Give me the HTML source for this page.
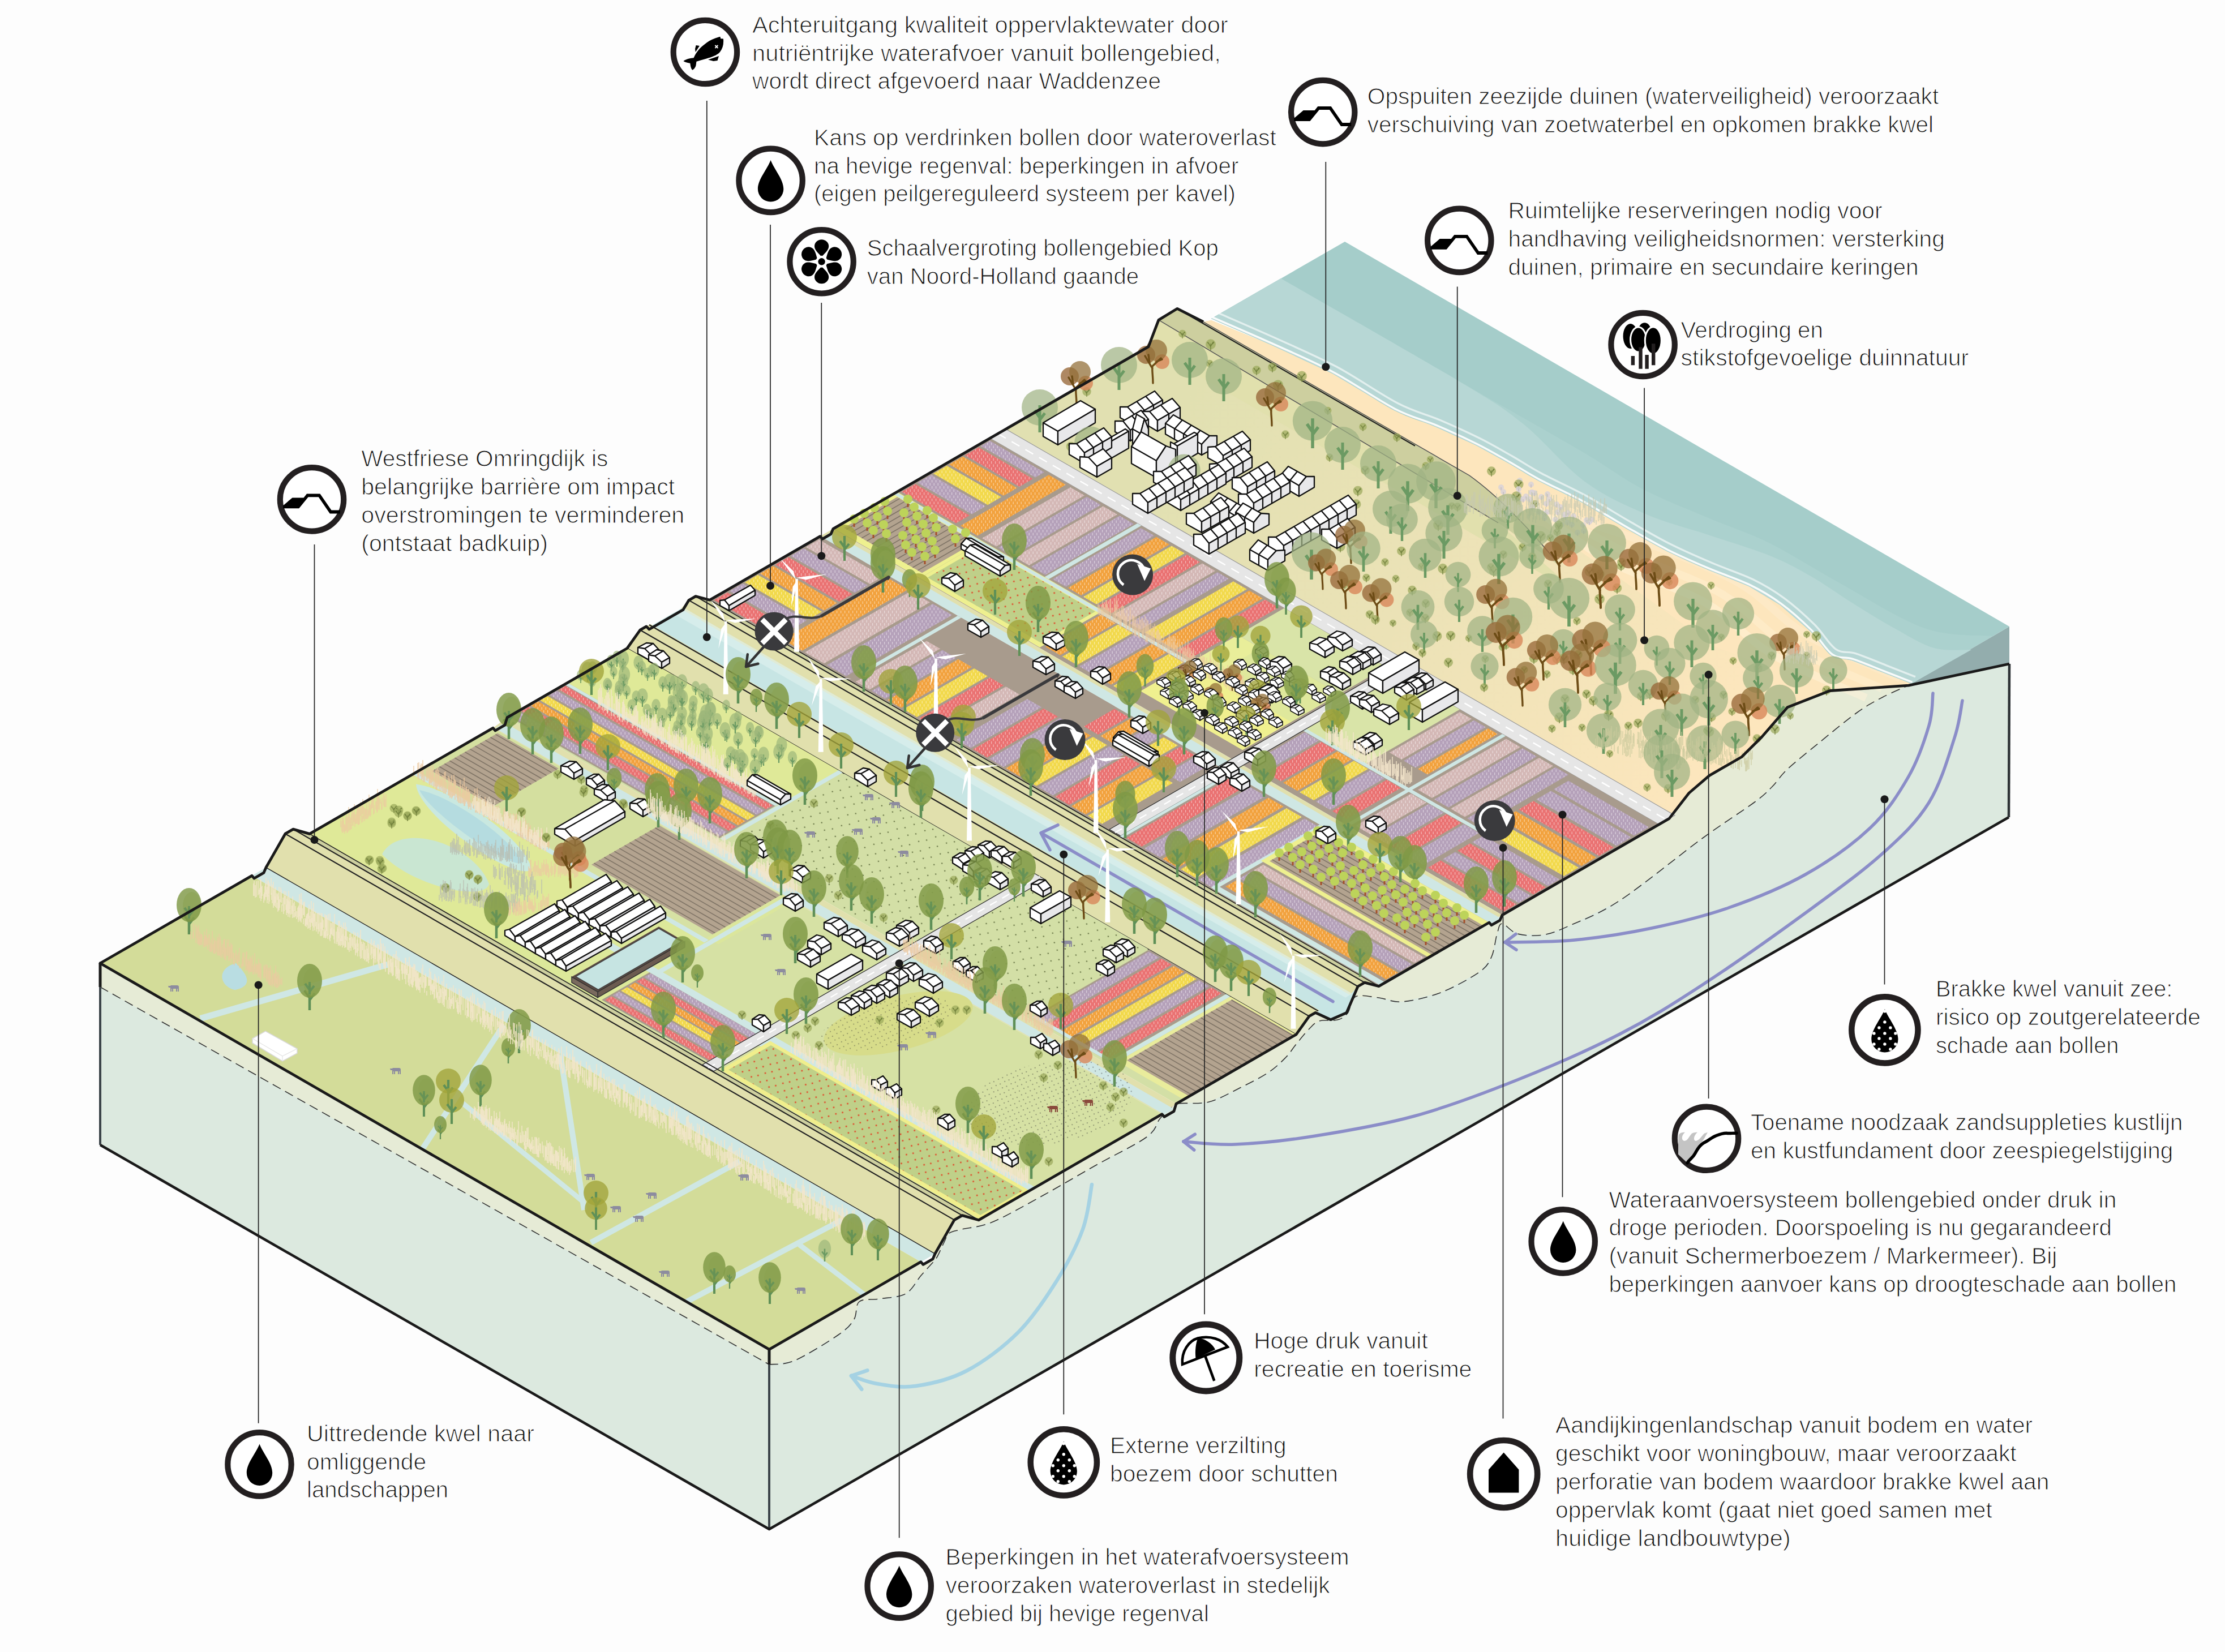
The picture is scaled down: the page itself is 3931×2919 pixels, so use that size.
<!DOCTYPE html>
<html><head><meta charset="utf-8"><title>Kop van Noord-Holland</title>
<style>html,body{margin:0;padding:0;background:#fdfdfd}svg{display:block}text{font-family:"Liberation Sans",sans-serif;fill:#141414;font-size:40px;stroke:#fdfdfd;stroke-width:1.1px}.h path{fill:#fff;stroke:#111;stroke-width:2.3;stroke-linejoin:round}.h .g{fill:#e8e8ea}.t path{stroke-width:1.6}</style>
</head><body>
<svg width="3931" height="2919" viewBox="0 0 3931 2919">
<defs>
<pattern id="bulb" width="7" height="11" patternUnits="userSpaceOnUse"><path d="M1.7 1v4.5M5.2 6.5v4.5" stroke="#fff" stroke-opacity=".62" stroke-width="1"/></pattern>
<pattern id="dots" width="22" height="22" patternUnits="userSpaceOnUse" patternTransform="rotate(30)"><circle cx="4" cy="5" r="1.3" fill="#6d7a4a"/><circle cx="15" cy="14" r="1.3" fill="#6d7a4a"/></pattern>
<pattern id="dotsd" width="12" height="12" patternUnits="userSpaceOnUse" patternTransform="rotate(30)"><circle cx="3" cy="3" r=".9" fill="#333"/><circle cx="9" cy="8" r=".9" fill="#333"/></pattern>
<pattern id="reddots" width="18" height="18" patternUnits="userSpaceOnUse" patternTransform="rotate(30)"><circle cx="4" cy="4" r="1.5" fill="#e04a2a"/><circle cx="13" cy="12" r="1.5" fill="#e04a2a"/></pattern>
<linearGradient id="duneg" gradientUnits="userSpaceOnUse" x1="2100" y1="700" x2="3100" y2="1250"><stop offset="0" stop-color="#e1e0b1"/><stop offset=".45" stop-color="#ebe2b6"/><stop offset="1" stop-color="#fde6bd"/></linearGradient>
</defs>
<polygon points="177.0,1702.0 1359.0,2384.4 1359.0,2702.0 177.0,2023.0" fill="#dce9df" />
<polygon points="177.0,1702.0 1359.0,2384.4 1359.0,2411.0 177.0,1744.0" fill="#e6ebd6" />
<polyline points="177.0,1744.0 1359.0,2411.0" fill="none" stroke="#333" stroke-width="1.6" stroke-dasharray="16 9"/>
<polygon points="1359.0,2384.4 1627.0,2229.7 1631.0,2234.4 1648.0,2224.6 1652.0,2215.3 1686.0,2155.6 1700.0,2147.6 1729.0,2155.8 2053.0,1968.7 2057.0,1973.4 2074.0,1963.6 2078.0,1950.3 2290.0,1827.9 2313.0,1795.6 2324.0,1789.3 2351.0,1801.7 2379.0,1789.5 2399.0,1743.0 2411.0,1736.1 2436.0,1742.6 2631.0,1630.0 2635.0,1634.7 2650.0,1626.1 2654.0,1616.8 2949.0,1446.4 2984.0,1401.2 3020.0,1370.4 3077.0,1337.5 3113.0,1301.8 3158.0,1249.8 3233.0,1220.5 3372.0,1211.2 3550.0,1172.5 3549.0,1444.0 1359.0,2702.0" fill="#dce9df" />
<polygon points="1359.0,2384.4 1627.0,2229.7 1631.0,2234.4 1648.0,2224.6 1652.0,2215.3 1686.0,2155.6 1700.0,2147.6 1729.0,2155.8 2053.0,1968.7 2057.0,1973.4 2074.0,1963.6 2078.0,1950.3 2290.0,1827.9 2313.0,1795.6 2324.0,1789.3 2351.0,1801.7 2379.0,1789.5 2399.0,1743.0 2411.0,1736.1 2436.0,1742.6 2631.0,1630.0 2635.0,1634.7 2650.0,1626.1 2654.0,1616.8 2949.0,1446.4 2984.0,1401.2 3020.0,1370.4 3077.0,1337.5 3113.0,1301.8 3158.0,1249.8 3233.0,1220.5 3372.0,1211.2 3372.0,1211.0 3326.0,1232.0 3281.0,1259.0 3213.0,1313.0 3158.0,1359.0 3131.0,1390.0 3099.0,1418.0 3008.0,1481.0 2862.0,1591.0 2772.0,1636.0 2726.0,1652.0 2681.0,1650.0 2654.0,1632.0 2645.0,1650.0 2635.0,1691.0 2613.0,1718.0 2545.0,1754.0 2477.0,1770.0 2436.0,1763.0 2395.0,1761.0 2381.0,1790.0 2363.0,1802.0 2331.0,1804.0 2313.0,1818.0 2290.0,1845.0 2272.0,1868.0 2241.0,1895.0 2191.0,1922.0 2136.0,1947.0 2081.0,1950.0 2067.0,1959.0 2049.0,1977.0 2026.0,2009.0 1936.0,2059.0 1845.0,2111.0 1754.0,2159.0 1700.0,2172.0 1677.0,2179.0 1668.0,2195.0 1655.0,2222.0 1645.0,2234.0 1627.0,2254.0 1600.0,2286.0 1554.0,2295.0 1518.0,2300.0 1509.0,2331.0 1482.0,2358.0 1404.0,2404.0 1359.0,2411.0" fill="#e6ebd6" />
<path d="M1359.0 2411.0 C1366.5 2409.8 1383.5 2412.8 1404.0 2404.0 C1424.5 2395.2 1464.5 2370.2 1482.0 2358.0 C1499.5 2345.8 1503.0 2340.7 1509.0 2331.0 C1515.0 2321.3 1510.5 2306.0 1518.0 2300.0 C1525.5 2294.0 1540.3 2297.3 1554.0 2295.0 C1567.7 2292.7 1587.8 2292.8 1600.0 2286.0 C1612.2 2279.2 1619.5 2262.7 1627.0 2254.0 C1634.5 2245.3 1640.3 2239.3 1645.0 2234.0 C1649.7 2228.7 1651.2 2228.5 1655.0 2222.0 C1658.8 2215.5 1664.3 2202.2 1668.0 2195.0 C1671.7 2187.8 1671.7 2182.8 1677.0 2179.0 C1682.3 2175.2 1687.2 2175.3 1700.0 2172.0 C1712.8 2168.7 1729.8 2169.2 1754.0 2159.0 C1778.2 2148.8 1814.7 2127.7 1845.0 2111.0 C1875.3 2094.3 1905.8 2076.0 1936.0 2059.0 C1966.2 2042.0 2007.2 2022.7 2026.0 2009.0 C2044.8 1995.3 2042.2 1985.3 2049.0 1977.0 C2055.8 1968.7 2061.7 1963.5 2067.0 1959.0 C2072.3 1954.5 2069.5 1952.0 2081.0 1950.0 C2092.5 1948.0 2117.7 1951.7 2136.0 1947.0 C2154.3 1942.3 2173.5 1930.7 2191.0 1922.0 C2208.5 1913.3 2227.5 1904.0 2241.0 1895.0 C2254.5 1886.0 2263.8 1876.3 2272.0 1868.0 C2280.2 1859.7 2283.2 1853.3 2290.0 1845.0 C2296.8 1836.7 2306.2 1824.8 2313.0 1818.0 C2319.8 1811.2 2322.7 1806.7 2331.0 1804.0 C2339.3 1801.3 2354.7 1804.3 2363.0 1802.0 C2371.3 1799.7 2375.7 1796.8 2381.0 1790.0 C2386.3 1783.2 2385.8 1765.5 2395.0 1761.0 C2404.2 1756.5 2422.3 1761.5 2436.0 1763.0 C2449.7 1764.5 2458.8 1771.5 2477.0 1770.0 C2495.2 1768.5 2522.3 1762.7 2545.0 1754.0 C2567.7 1745.3 2598.0 1728.5 2613.0 1718.0 C2628.0 1707.5 2629.7 1702.3 2635.0 1691.0 C2640.3 1679.7 2641.8 1659.8 2645.0 1650.0 C2648.2 1640.2 2648.0 1632.0 2654.0 1632.0 C2660.0 1632.0 2669.0 1646.7 2681.0 1650.0 C2693.0 1653.3 2710.8 1654.3 2726.0 1652.0 C2741.2 1649.7 2749.3 1646.2 2772.0 1636.0 C2794.7 1625.8 2822.7 1616.8 2862.0 1591.0 C2901.3 1565.2 2968.5 1509.8 3008.0 1481.0 C3047.5 1452.2 3078.5 1433.2 3099.0 1418.0 C3119.5 1402.8 3121.2 1399.8 3131.0 1390.0 C3140.8 1380.2 3144.3 1371.8 3158.0 1359.0 C3171.7 1346.2 3192.5 1329.7 3213.0 1313.0 C3233.5 1296.3 3262.2 1272.5 3281.0 1259.0 C3299.8 1245.5 3310.8 1240.0 3326.0 1232.0 C3341.2 1224.0 3364.3 1214.5 3372.0 1211.0" fill="none" stroke="#333" stroke-width="1.6" stroke-dasharray="16 9"/>
<polygon points="2324.0,1789.3 2351.0,1801.7 2379.0,1789.5 2393.0,1751.4 2327.0,1789.6" fill="#c7e5e4" />
<path d="M3415.0 1225.0 C3413.8 1234.5 3415.2 1257.5 3408.0 1282.0 C3400.8 1306.5 3389.3 1341.8 3372.0 1372.0 C3354.7 1402.2 3334.3 1434.2 3304.0 1463.0 C3273.7 1491.8 3231.7 1521.5 3190.0 1545.0 C3148.3 1568.5 3099.3 1588.2 3054.0 1604.0 C3008.7 1619.8 2963.3 1630.5 2918.0 1640.0 C2872.7 1649.5 2825.2 1656.8 2782.0 1661.0 C2738.8 1665.2 2679.5 1664.3 2659.0 1665.0" fill="none" stroke="#8b8dc8" stroke-width="5.5" stroke-linecap="round"/>
<line x1="2659.0" y1="1665.0" x2="2679.0" y2="1678.3" stroke="#8b8dc8" stroke-width="5.5" stroke-linecap="round"/>
<line x1="2659.0" y1="1665.0" x2="2678.1" y2="1650.4" stroke="#8b8dc8" stroke-width="5.5" stroke-linecap="round"/>
<path d="M3467.0 1238.0 C3464.7 1249.0 3462.8 1274.0 3453.0 1304.0 C3443.2 1334.0 3429.2 1384.0 3408.0 1418.0 C3386.8 1452.0 3362.3 1475.5 3326.0 1508.0 C3289.7 1540.5 3243.0 1574.3 3190.0 1613.0 C3137.0 1651.7 3062.7 1704.3 3008.0 1740.0 C2953.3 1775.7 2916.5 1799.0 2862.0 1827.0 C2807.5 1855.0 2741.5 1883.8 2681.0 1908.0 C2620.5 1932.2 2559.5 1955.3 2499.0 1972.0 C2438.5 1988.7 2370.8 1999.7 2318.0 2008.0 C2265.2 2016.3 2219.8 2020.5 2182.0 2022.0 C2144.2 2023.5 2106.2 2017.8 2091.0 2017.0" fill="none" stroke="#8b8dc8" stroke-width="5.5" stroke-linecap="round"/>
<line x1="2091.0" y1="2017.0" x2="2109.7" y2="2032.0" stroke="#8b8dc8" stroke-width="5.5" stroke-linecap="round"/>
<line x1="2091.0" y1="2017.0" x2="2111.3" y2="2004.1" stroke="#8b8dc8" stroke-width="5.5" stroke-linecap="round"/>
<path d="M1929.0 2093.0 C1926.3 2106.2 1923.3 2143.7 1913.0 2172.0 C1902.7 2200.3 1886.0 2232.7 1867.0 2263.0 C1848.0 2293.3 1825.5 2327.5 1799.0 2354.0 C1772.5 2380.5 1738.2 2406.2 1708.0 2422.0 C1677.8 2437.8 1644.3 2445.2 1618.0 2449.0 C1591.7 2452.8 1569.0 2448.0 1550.0 2445.0 C1531.0 2442.0 1511.7 2433.3 1504.0 2431.0" fill="none" stroke="#a5d2e3" stroke-width="6.5" stroke-linecap="round"/>
<line x1="1504.0" y1="2431.0" x2="1522.3" y2="2454.8" stroke="#a5d2e3" stroke-width="6.5" stroke-linecap="round"/>
<line x1="1504.0" y1="2431.0" x2="1532.4" y2="2421.4" stroke="#a5d2e3" stroke-width="6.5" stroke-linecap="round"/>
<line x1="177" y1="1744" x2="177" y2="2023" stroke="#3c4449" stroke-width="4"/>
<line x1="177" y1="1702" x2="177" y2="1744" stroke="#1a1a1a" stroke-width="5"/>
<line x1="1359" y1="2411" x2="1359" y2="2702" stroke="#3c4449" stroke-width="4"/>
<line x1="1359" y1="2384" x2="1359" y2="2411" stroke="#1a1a1a" stroke-width="5"/>
<polyline points="177.0,2023.0 1359.0,2702.0 3549.0,1444.0" fill="none" stroke="#1a1a1a" stroke-width="4.6" stroke-linejoin="round"/>
<line x1="3550" y1="1173" x2="3549" y2="1444" stroke="#2e3336" stroke-width="4.5"/>
<polygon points="1777.0,758.2 2029.0,612.7 2126.0,568.7 2140.0,566.0 2245.0,609.0 2354.0,660.0 2463.0,725.0 2536.0,754.0 2608.0,787.0 2666.0,819.0 2717.0,849.0 2795.0,888.0 2873.0,934.0 2945.0,974.0 3018.0,1007.0 3090.0,1036.0 3145.0,1069.0 3199.0,1116.0 3236.0,1159.0 3272.0,1167.0 3326.0,1188.0 3377.0,1208.0 3372.0,1211.2 3233.0,1220.5 3158.0,1249.8 3113.0,1301.8 3077.0,1337.5 3020.0,1370.4 2984.0,1401.2 2949.0,1446.4" fill="url(#duneg)" />
<polygon points="2080.0,545.3 2126.0,568.7 2140.0,566.0 2245.0,609.0 2354.0,660.0 2463.0,725.0 2536.0,754.0 2608.0,787.0 2666.0,819.0 2717.0,849.0 2795.0,888.0 2873.0,934.0 2945.0,974.0 3018.0,1007.0 3090.0,1036.0 3145.0,1069.0 3199.0,1116.0 3236.0,1159.0 3272.0,1167.0 3326.0,1188.0 3377.0,1208.0 3372.0,1211.2 3233.0,1220.5 3027.0,1141.3 2857.0,1018.5 2727.0,930.3 2623.0,912.6 2567.0,842.5 2499.0,789.5" fill="#fde6bd" />
<path d="M2707.0 894.1 C2729.5 910.3 2791.2 962.5 2842.0 990.9 C2892.8 1019.3 2963.7 1036.8 3012.0 1064.4 C3060.3 1092.1 3084.5 1128.7 3132.0 1156.8 C3179.5 1184.9 3269.5 1220.5 3297.0 1233.2" fill="none" stroke="#fff3d9" stroke-width="14" stroke-opacity="0.5"/>
<path d="M2745.4 906.6 C2766.2 918.0 2820.9 951.2 2870.0 974.8 C2919.1 998.4 2991.7 1020.6 3040.0 1048.3 C3088.3 1075.9 3112.5 1112.5 3160.0 1140.7 C3207.5 1168.8 3297.5 1204.3 3325.0 1217.0" fill="none" stroke="#fff3d9" stroke-width="14" stroke-opacity="0.35"/>
<path d="M2785.0 918.4 C2804.5 924.7 2854.2 937.7 2902.0 956.3 C2949.8 974.9 3023.7 1002.2 3072.0 1029.8 C3120.3 1057.4 3144.5 1094.0 3192.0 1122.2 C3239.5 1150.3 3329.5 1185.8 3357.0 1198.6" fill="none" stroke="#fff3d9" stroke-width="14" stroke-opacity="0.3"/>
<polygon points="3550.0,1107.0 3550.0,1173.0 3377.0,1208.0" fill="#93adad" />
<path d="M2140.0 563.0 C2157.5 570.7 2209.3 592.8 2245.0 609.0 C2280.7 625.2 2317.7 640.7 2354.0 660.0 C2390.3 679.3 2432.7 709.3 2463.0 725.0 C2493.3 740.7 2511.8 743.7 2536.0 754.0 C2560.2 764.3 2586.3 776.2 2608.0 787.0 C2629.7 797.8 2647.8 808.7 2666.0 819.0 C2684.2 829.3 2695.5 837.5 2717.0 849.0 C2738.5 860.5 2769.0 873.8 2795.0 888.0 C2821.0 902.2 2848.0 919.7 2873.0 934.0 C2898.0 948.3 2920.8 961.8 2945.0 974.0 C2969.2 986.2 2993.8 996.7 3018.0 1007.0 C3042.2 1017.3 3068.8 1025.7 3090.0 1036.0 C3111.2 1046.3 3126.8 1055.7 3145.0 1069.0 C3163.2 1082.3 3183.8 1101.0 3199.0 1116.0 C3214.2 1131.0 3223.8 1150.5 3236.0 1159.0 C3248.2 1167.5 3257.0 1162.2 3272.0 1167.0 C3287.0 1171.8 3308.5 1181.2 3326.0 1188.0 C3343.5 1194.8 3368.5 1204.7 3377.0 1208.0 L3550 1107 L2376 427 Z" fill="#a5cdca"/>
<path d="M2263.0 492.0 C2315.0 522.0 2487.2 621.5 2575.0 672.0 C2662.8 722.5 2735.8 763.2 2790.0 795.0 C2844.2 826.8 2862.0 843.0 2900.0 863.0 C2938.0 883.0 2980.2 898.8 3018.0 915.0 C3055.8 931.2 3088.3 940.8 3127.0 960.0 C3165.7 979.2 3204.5 1005.0 3250.0 1030.0 C3295.5 1055.0 3355.0 1094.3 3400.0 1110.0 C3445.0 1125.7 3500.0 1121.7 3520.0 1124.0 L3377 1208 L3377.0 1208.0 L3326.0 1188.0 L3272.0 1167.0 L3236.0 1159.0 L3199.0 1116.0 L3145.0 1069.0 L3090.0 1036.0 L3018.0 1007.0 L2945.0 974.0 L2873.0 934.0 L2795.0 888.0 L2717.0 849.0 L2666.0 819.0 L2608.0 787.0 L2536.0 754.0 L2463.0 725.0 L2354.0 660.0 L2245.0 609.0 L2140.0 563.0 Z" fill="#abd1ce"/>
<path d="M2263.0 492.0 C2315.0 522.0 2503.8 629.3 2575.0 672.0 C2646.2 714.7 2652.5 718.2 2690.0 748.0 C2727.5 777.8 2763.5 824.2 2800.0 851.0 C2836.5 877.8 2872.7 893.3 2909.0 909.0 C2945.3 924.7 2981.7 932.8 3018.0 945.0 C3054.3 957.2 3096.8 969.8 3127.0 982.0 C3157.2 994.2 3174.8 1004.2 3199.0 1018.0 C3223.2 1031.8 3247.7 1049.8 3272.0 1065.0 C3296.3 1080.2 3320.8 1095.7 3345.0 1109.0 C3369.2 1122.3 3394.0 1138.5 3417.0 1145.0 C3440.0 1151.5 3472.0 1147.5 3483.0 1148.0 L3377 1208 L3377.0 1208.0 L3326.0 1188.0 L3272.0 1167.0 L3236.0 1159.0 L3199.0 1116.0 L3145.0 1069.0 L3090.0 1036.0 L3018.0 1007.0 L2945.0 974.0 L2873.0 934.0 L2795.0 888.0 L2717.0 849.0 L2666.0 819.0 L2608.0 787.0 L2536.0 754.0 L2463.0 725.0 L2354.0 660.0 L2245.0 609.0 L2140.0 563.0 Z" fill="#b7d7d5"/>
<path d="M2141.5 560.4 C2159.0 568.1 2210.8 590.2 2246.5 606.4 C2282.2 622.6 2319.2 638.1 2355.5 657.4 C2391.8 676.7 2434.2 706.7 2464.5 722.4 C2494.8 738.1 2513.3 741.1 2537.5 751.4 C2561.7 761.7 2587.8 773.6 2609.5 784.4 C2631.2 795.2 2649.3 806.1 2667.5 816.4 C2685.7 826.7 2697.0 834.9 2718.5 846.4 C2740.0 857.9 2770.5 871.2 2796.5 885.4 C2822.5 899.6 2849.5 917.1 2874.5 931.4 C2899.5 945.7 2922.3 959.2 2946.5 971.4 C2970.7 983.6 2995.3 994.1 3019.5 1004.4 C3043.7 1014.7 3070.3 1023.1 3091.5 1033.4 C3112.7 1043.7 3128.3 1053.1 3146.5 1066.4 C3164.7 1079.7 3185.3 1098.4 3200.5 1113.4 C3215.7 1128.4 3225.3 1147.9 3237.5 1156.4 C3249.7 1164.9 3258.5 1159.6 3273.5 1164.4 C3288.5 1169.2 3310.0 1178.6 3327.5 1185.4 C3345.0 1192.2 3370.0 1202.1 3378.5 1205.4" fill="none" stroke="#fff" stroke-width="3.4" stroke-opacity="0.9"/>
<path d="M2147.0 550.8 C2164.5 558.5 2216.3 580.7 2252.0 596.8 C2287.7 613.0 2324.7 628.5 2361.0 647.8 C2397.3 667.2 2439.7 697.2 2470.0 712.8 C2500.3 728.5 2518.8 731.5 2543.0 741.8 C2567.2 752.2 2593.3 764.0 2615.0 774.8 C2636.7 785.7 2654.8 796.5 2673.0 806.8 C2691.2 817.2 2702.5 825.3 2724.0 836.8 C2745.5 848.3 2776.0 861.7 2802.0 875.8 C2828.0 890.0 2855.0 907.5 2880.0 921.8 C2905.0 936.2 2927.8 949.7 2952.0 961.8 C2976.2 974.0 3000.8 984.5 3025.0 994.8 C3049.2 1005.2 3075.8 1013.5 3097.0 1023.8 C3118.2 1034.2 3133.8 1043.5 3152.0 1056.8 C3170.2 1070.2 3190.8 1088.8 3206.0 1103.8 C3221.2 1118.8 3230.8 1138.3 3243.0 1146.8 C3255.2 1155.3 3264.0 1150.0 3279.0 1154.8 C3294.0 1159.7 3315.5 1169.0 3333.0 1175.8 C3350.5 1182.7 3375.5 1192.5 3384.0 1195.8" fill="none" stroke="#fff" stroke-width="3.4" stroke-opacity="0.6"/>
<path d="M2047.0,565.4 L2080.0,545.3 L2126.0,568.7 L2596.0,840.1 Q2667.0,891.0 2757.0,1000.7 L2647.0,923.8 Z" fill="#cdcf9f"/>
<path d="M2029.0,612.7 L2047.0,565.4 L2647.0,923.8 Q2705.0,976.6 2759.0,1022.7 L2749.0,1028.4 Z" fill="#e1e0ad"/>
<polyline points="2047.0,565.4 2647.0,923.8" fill="none" stroke="#555" stroke-width="1.5" />
<path d="M2126.0,568.7 L2596.0,840.1 Q2667.0,891.0 2757.0,1000.7" fill="none" stroke="#555" stroke-width="1.5"/>
<polyline points="2080.0,545.3 2500.0,787.8" fill="none" stroke="#222" stroke-width="2.2" />
<polygon points="1749.0,774.4 1777.0,758.2 2959.0,1440.7 2931.0,1456.8" fill="#e6e6e6" stroke="#999" stroke-width="1.2" />
<polyline points="1763.0,766.3 2945.0,1448.8" fill="none" stroke="#fff" stroke-width="2.4" stroke-dasharray="16 12"/>
<polygon points="1472.0,934.3 1749.0,774.4 2931.0,1456.8 2654.0,1616.8" fill="#a89b8d" />
<polygon points="1449.0,947.6 1472.0,934.3 2654.0,1616.8 2631.0,1630.0" fill="#e1e0ad" />
<polygon points="1452.0,949.9 1469.0,940.1 2651.0,1622.5 2634.0,1632.3" fill="#cfe7e4" />
<polygon points="1254.0,1060.2 1449.0,947.6 2631.0,1630.0 2436.0,1742.6" fill="#a89b8d" />
<polygon points="1229.0,1053.6 1254.0,1060.2 2436.0,1742.6 2411.0,1736.1" fill="#cdcf9f" />
<polygon points="1217.0,1060.6 1229.0,1053.6 2411.0,1736.1 2399.0,1743.0" fill="#e1e0ad" />
<polygon points="1149.0,1106.8 1217.0,1067.6 2399.0,1750.0 2331.0,1789.2" fill="#c7e5e4" />
<polygon points="1203.0,1075.6 1217.0,1060.6 2399.0,1743.0 2385.0,1758.1" fill="#e1e0ad" />
<polygon points="1131.0,1113.2 1149.0,1102.8 2331.0,1785.2 2313.0,1795.6" fill="#e1e0ad" />
<polygon points="1108.0,1145.5 1131.0,1113.2 2313.0,1795.6 2290.0,1827.9" fill="#e1e0ad" />
<polygon points="896.0,1267.9 1108.0,1145.5 2290.0,1827.9 2078.0,1950.3" fill="#d3dfa6" />
<polygon points="871.0,1286.3 896.0,1267.9 2078.0,1950.3 2053.0,1968.7" fill="#e1e0ad" />
<polygon points="875.0,1287.0 892.0,1277.2 2074.0,1959.6 2057.0,1969.4" fill="#cfe7e4" />
<polygon points="547.0,1473.4 871.0,1286.3 2053.0,1968.7 1729.0,2155.8" fill="#d6e1a4" />
<polygon points="622.0,1432.1 647.0,1417.6 1829.0,2100.1 1804.0,2114.5" fill="#cfe7e4" />
<polygon points="518.0,1465.1 547.0,1473.4 1729.0,2155.8 1700.0,2147.6" fill="#cdcf9f" />
<polygon points="504.0,1473.2 518.0,1465.1 1700.0,2147.6 1686.0,2155.6" fill="#e1e0ad" />
<polygon points="470.0,1532.8 504.0,1473.2 1686.0,2155.6 1652.0,2215.3" fill="#e1e0ad" />
<polygon points="445.0,1547.3 470.0,1532.8 1652.0,2215.3 1627.0,2229.7" fill="#cfe7e4" />
<polygon points="177.0,1702.0 445.0,1547.3 1627.0,2229.7 1359.0,2384.4" fill="#d3dc99" />
<polygon points="1593.0,869.1 1617.0,855.2 1713.0,910.7 1689.0,924.5" fill="#ea7272" />
<polygon points="1593.0,869.1 1617.0,855.2 1713.0,910.7 1689.0,924.5" fill="url(#bulb)" />
<polygon points="1621.0,852.9 1645.0,839.1 1741.0,894.5 1717.0,908.4" fill="#b5a1ba" />
<polygon points="1621.0,852.9 1645.0,839.1 1741.0,894.5 1717.0,908.4" fill="url(#bulb)" />
<polygon points="1649.0,836.8 1673.0,822.9 1769.0,878.3 1745.0,892.2" fill="#f2d94c" />
<polygon points="1649.0,836.8 1673.0,822.9 1769.0,878.3 1745.0,892.2" fill="url(#bulb)" />
<polygon points="1677.0,820.6 1701.0,806.7 1797.0,862.2 1773.0,876.0" fill="#f2a23e" />
<polygon points="1677.0,820.6 1701.0,806.7 1797.0,862.2 1773.0,876.0" fill="url(#bulb)" />
<polygon points="1705.0,804.4 1729.0,790.6 1825.0,846.0 1801.0,859.9" fill="#ea7272" />
<polygon points="1705.0,804.4 1729.0,790.6 1825.0,846.0 1801.0,859.9" fill="url(#bulb)" />
<polygon points="1733.0,788.3 1749.0,779.0 1845.0,834.5 1829.0,843.7" fill="#b5a1ba" />
<polygon points="1733.0,788.3 1749.0,779.0 1845.0,834.5 1829.0,843.7" fill="url(#bulb)" />
<polygon points="1697.0,929.1 1853.0,839.1 1883.0,856.4 1727.0,946.5" fill="#f2a23e" />
<polygon points="1697.0,929.1 1853.0,839.1 1883.0,856.4 1727.0,946.5" fill="url(#bulb)" />
<polygon points="1735.0,951.1 1891.0,861.0 1916.0,875.4 1760.0,965.5" fill="#d4b8b6" />
<polygon points="1735.0,951.1 1891.0,861.0 1916.0,875.4 1760.0,965.5" fill="url(#bulb)" />
<polygon points="1764.0,967.8 1920.0,877.8 1945.0,892.2 1789.0,982.3" fill="#b5a1ba" />
<polygon points="1764.0,967.8 1920.0,877.8 1945.0,892.2 1789.0,982.3" fill="url(#bulb)" />
<polygon points="1793.0,984.6 1949.0,894.5 1974.0,908.9 1818.0,999.0" fill="#d4b8b6" />
<polygon points="1793.0,984.6 1949.0,894.5 1974.0,908.9 1818.0,999.0" fill="url(#bulb)" />
<polygon points="1822.0,1001.3 1978.0,911.2 2003.0,925.7 1847.0,1015.7" fill="#b5a1ba" />
<polygon points="1822.0,1001.3 1978.0,911.2 2003.0,925.7 1847.0,1015.7" fill="url(#bulb)" />
<polygon points="1845.5,1019.5 2009.5,924.8 2016.5,928.8 1852.5,1023.5" fill="#cfe7e4" />
<polygon points="1860.0,1023.2 2016.0,933.2 2039.0,946.5 1883.0,1036.5" fill="#b5a1ba" />
<polygon points="1860.0,1023.2 2016.0,933.2 2039.0,946.5 1883.0,1036.5" fill="url(#bulb)" />
<polygon points="1887.0,1038.8 2043.0,948.8 2066.0,962.0 1910.0,1052.1" fill="#f2a23e" />
<polygon points="1887.0,1038.8 2043.0,948.8 2066.0,962.0 1910.0,1052.1" fill="url(#bulb)" />
<polygon points="1914.0,1054.4 2070.0,964.4 2093.0,977.6 1937.0,1067.7" fill="#f2d94c" />
<polygon points="1914.0,1054.4 2070.0,964.4 2093.0,977.6 1937.0,1067.7" fill="url(#bulb)" />
<polygon points="1941.0,1070.0 2097.0,979.9 2120.0,993.2 1964.0,1083.3" fill="#ea7272" />
<polygon points="1941.0,1070.0 2097.0,979.9 2120.0,993.2 1964.0,1083.3" fill="url(#bulb)" />
<polygon points="1968.0,1085.6 2124.0,995.5 2147.0,1008.8 1991.0,1098.9" fill="#d4b8b6" />
<polygon points="1968.0,1085.6 2124.0,995.5 2147.0,1008.8 1991.0,1098.9" fill="url(#bulb)" />
<polygon points="1995.0,1101.2 2151.0,1011.1 2171.0,1022.7 2015.0,1112.7" fill="#b5a1ba" />
<polygon points="1995.0,1101.2 2151.0,1011.1 2171.0,1022.7 2015.0,1112.7" fill="url(#bulb)" />
<polygon points="2023.0,1117.4 2179.0,1027.3 2203.0,1041.1 2047.0,1131.2" fill="#f2d94c" />
<polygon points="2023.0,1117.4 2179.0,1027.3 2203.0,1041.1 2047.0,1131.2" fill="url(#bulb)" />
<polygon points="2051.0,1133.5 2207.0,1043.5 2231.0,1057.3 2075.0,1147.4" fill="#f2a23e" />
<polygon points="2051.0,1133.5 2207.0,1043.5 2231.0,1057.3 2075.0,1147.4" fill="url(#bulb)" />
<polygon points="2079.0,1149.7 2235.0,1059.6 2259.0,1073.5 2103.0,1163.5" fill="#ea7272" />
<polygon points="2079.0,1149.7 2235.0,1059.6 2259.0,1073.5 2103.0,1163.5" fill="url(#bulb)" />
<polygon points="1473.0,933.8 1585.0,869.1 1737.0,956.8 1625.0,1021.5" fill="#eef08f" />
<polygon points="1491.0,932.6 1585.0,878.3 1723.0,958.0 1629.0,1012.3" fill="#b3a38f" />
<polyline points="1495.5,935.2 1589.5,880.9" fill="none" stroke="#7f7466" stroke-width="1.6" />
<polyline points="1504.5,940.4 1598.5,886.1" fill="none" stroke="#7f7466" stroke-width="1.6" />
<polyline points="1513.5,945.6 1607.5,891.3" fill="none" stroke="#7f7466" stroke-width="1.6" />
<polyline points="1522.5,950.8 1616.5,896.5" fill="none" stroke="#7f7466" stroke-width="1.6" />
<polyline points="1531.5,956.0 1625.5,901.7" fill="none" stroke="#7f7466" stroke-width="1.6" />
<polyline points="1540.5,961.2 1634.5,906.9" fill="none" stroke="#7f7466" stroke-width="1.6" />
<polyline points="1549.5,966.4 1643.5,912.1" fill="none" stroke="#7f7466" stroke-width="1.6" />
<polyline points="1558.5,971.6 1652.5,917.3" fill="none" stroke="#7f7466" stroke-width="1.6" />
<polyline points="1567.5,976.8 1661.5,922.5" fill="none" stroke="#7f7466" stroke-width="1.6" />
<polyline points="1576.5,982.0 1670.5,927.7" fill="none" stroke="#7f7466" stroke-width="1.6" />
<polyline points="1585.5,987.2 1679.5,932.9" fill="none" stroke="#7f7466" stroke-width="1.6" />
<polyline points="1594.5,992.4 1688.5,938.1" fill="none" stroke="#7f7466" stroke-width="1.6" />
<polyline points="1603.5,997.6 1697.5,943.3" fill="none" stroke="#7f7466" stroke-width="1.6" />
<polyline points="1612.5,1002.7 1706.5,948.5" fill="none" stroke="#7f7466" stroke-width="1.6" />
<polyline points="1621.5,1007.9 1715.5,953.7" fill="none" stroke="#7f7466" stroke-width="1.6" />
<polygon points="1625.0,1021.5 1737.0,956.8 1949.0,1079.2 1837.0,1143.9" fill="#eef08f" />
<polygon points="1639.0,1020.4 1735.0,964.9 1935.0,1080.4 1839.0,1135.8" fill="#bfd089" />
<polygon points="1639.0,1020.4 1735.0,964.9 1935.0,1080.4 1839.0,1135.8" fill="url(#reddots)" />
<polygon points="1578.0,873.1 1584.0,869.7 2184.0,1216.1 2178.0,1219.5" fill="#cfe7e4" />
<polygon points="1847.0,1142.8 1945.0,1086.2 1971.0,1101.2 1873.0,1157.8" fill="#f2a23e" />
<polygon points="1847.0,1142.8 1945.0,1086.2 1971.0,1101.2 1873.0,1157.8" fill="url(#bulb)" />
<polygon points="1877.0,1160.1 1975.0,1103.5 2001.0,1118.5 1903.0,1175.1" fill="#f2d94c" />
<polygon points="1877.0,1160.1 1975.0,1103.5 2001.0,1118.5 1903.0,1175.1" fill="url(#bulb)" />
<polygon points="1907.0,1177.4 2005.0,1120.8 2031.0,1135.8 1933.0,1192.4" fill="#b5a1ba" />
<polygon points="1907.0,1177.4 2005.0,1120.8 2031.0,1135.8 1933.0,1192.4" fill="url(#bulb)" />
<polygon points="1937.0,1194.7 2035.0,1138.1 2061.0,1153.1 1963.0,1209.7" fill="#f2a23e" />
<polygon points="1937.0,1194.7 2035.0,1138.1 2061.0,1153.1 1963.0,1209.7" fill="url(#bulb)" />
<polygon points="1967.0,1212.0 2065.0,1155.5 2091.0,1170.5 1993.0,1227.0" fill="#f2d94c" />
<polygon points="1967.0,1212.0 2065.0,1155.5 2091.0,1170.5 1993.0,1227.0" fill="url(#bulb)" />
<polygon points="2015.0,1221.3 2187.0,1122.0 2367.0,1225.9 2195.0,1325.2" fill="#e9ee9a" />
<polygon points="2015.0,1221.3 2101.0,1171.6 2281.0,1275.5 2195.0,1325.2" fill="#f0f08f" />
<polygon points="2141.0,1194.7 2227.0,1145.1 2367.0,1225.9 2281.0,1275.5" fill="#dfe89c" />
<polygon points="1997.0,1231.7 2015.0,1221.3 2195.0,1325.2 2177.0,1335.6" fill="#a89b8d" />
<polygon points="2187.0,1122.0 2269.0,1074.6 2449.0,1178.6 2367.0,1225.9" fill="#d9e4a8" />
<polygon points="2305.0,1289.4 2473.0,1192.4 2579.0,1253.6 2411.0,1350.6" fill="#d9e4a8" />
<polygon points="2209.0,1349.4 2305.0,1294.0 2330.0,1308.5 2234.0,1363.9" fill="#b5a1ba" />
<polygon points="2209.0,1349.4 2305.0,1294.0 2330.0,1308.5 2234.0,1363.9" fill="url(#bulb)" />
<polygon points="2238.0,1366.2 2334.0,1310.8 2359.0,1325.2 2263.0,1380.6" fill="#ea7272" />
<polygon points="2238.0,1366.2 2334.0,1310.8 2359.0,1325.2 2263.0,1380.6" fill="url(#bulb)" />
<polygon points="2267.0,1382.9 2363.0,1327.5 2388.0,1341.9 2292.0,1397.4" fill="#f2a23e" />
<polygon points="2267.0,1382.9 2363.0,1327.5 2388.0,1341.9 2292.0,1397.4" fill="url(#bulb)" />
<polygon points="2296.0,1399.7 2392.0,1344.3 2417.0,1358.7 2321.0,1414.1" fill="#f2d94c" />
<polygon points="2296.0,1399.7 2392.0,1344.3 2417.0,1358.7 2321.0,1414.1" fill="url(#bulb)" />
<polygon points="2325.0,1416.4 2421.0,1361.0 2446.0,1375.4 2350.0,1430.9" fill="#b5a1ba" />
<polygon points="2325.0,1416.4 2421.0,1361.0 2446.0,1375.4 2350.0,1430.9" fill="url(#bulb)" />
<polygon points="2354.0,1433.2 2450.0,1377.7 2475.0,1392.2 2379.0,1447.6" fill="#ea7272" />
<polygon points="2354.0,1433.2 2450.0,1377.7 2475.0,1392.2 2379.0,1447.6" fill="url(#bulb)" />
<polygon points="2455.0,1329.8 2579.0,1258.2 2600.0,1270.3 2476.0,1341.9" fill="#d4b8b6" />
<polygon points="2455.0,1329.8 2579.0,1258.2 2600.0,1270.3 2476.0,1341.9" fill="url(#bulb)" />
<polygon points="2480.0,1344.3 2604.0,1272.7 2625.0,1284.8 2501.0,1356.4" fill="#b5a1ba" />
<polygon points="2480.0,1344.3 2604.0,1272.7 2625.0,1284.8 2501.0,1356.4" fill="url(#bulb)" />
<polygon points="2505.0,1358.7 2629.0,1287.1 2646.0,1296.9 2522.0,1368.5" fill="#f2a23e" />
<polygon points="2505.0,1358.7 2629.0,1287.1 2646.0,1296.9 2522.0,1368.5" fill="url(#bulb)" />
<polygon points="2382.0,1453.9 2654.0,1296.9 2660.0,1300.4 2388.0,1457.4" fill="#cfe7e4" />
<polygon points="2302.0,1291.1 2308.0,1287.7 2624.0,1470.1 2618.0,1473.6" fill="#cfe7e4" />
<polygon points="2505.0,1395.6 2661.0,1305.6 2686.0,1320.0 2530.0,1410.1" fill="#d4b8b6" />
<polygon points="2505.0,1395.6 2661.0,1305.6 2686.0,1320.0 2530.0,1410.1" fill="url(#bulb)" />
<polygon points="2534.0,1412.4 2690.0,1322.3 2715.0,1336.7 2559.0,1426.8" fill="#b5a1ba" />
<polygon points="2534.0,1412.4 2690.0,1322.3 2715.0,1336.7 2559.0,1426.8" fill="url(#bulb)" />
<polygon points="2563.0,1429.1 2719.0,1339.1 2744.0,1353.5 2588.0,1443.6" fill="#d4b8b6" />
<polygon points="2563.0,1429.1 2719.0,1339.1 2744.0,1353.5 2588.0,1443.6" fill="url(#bulb)" />
<polygon points="2592.0,1445.9 2748.0,1355.8 2771.0,1369.1 2615.0,1459.1" fill="#b5a1ba" />
<polygon points="2592.0,1445.9 2748.0,1355.8 2771.0,1369.1 2615.0,1459.1" fill="url(#bulb)" />
<polygon points="2395.0,1459.1 2493.0,1402.6 2520.0,1418.2 2422.0,1474.7" fill="#d4b8b6" />
<polygon points="2395.0,1459.1 2493.0,1402.6 2520.0,1418.2 2422.0,1474.7" fill="url(#bulb)" />
<polygon points="2426.0,1477.0 2524.0,1420.5 2551.0,1436.0 2453.0,1492.6" fill="#b5a1ba" />
<polygon points="2426.0,1477.0 2524.0,1420.5 2551.0,1436.0 2453.0,1492.6" fill="url(#bulb)" />
<polygon points="2457.0,1494.9 2555.0,1438.4 2582.0,1453.9 2484.0,1510.5" fill="#ea7272" />
<polygon points="2457.0,1494.9 2555.0,1438.4 2582.0,1453.9 2484.0,1510.5" fill="url(#bulb)" />
<polygon points="2488.0,1512.8 2586.0,1456.3 2613.0,1471.8 2515.0,1528.4" fill="#b5a1ba" />
<polygon points="2488.0,1512.8 2586.0,1456.3 2613.0,1471.8 2515.0,1528.4" fill="url(#bulb)" />
<polygon points="2621.0,1466.1 2647.0,1451.1 2789.0,1533.0 2763.0,1548.1" fill="#f2d94c" />
<polygon points="2621.0,1466.1 2647.0,1451.1 2789.0,1533.0 2763.0,1548.1" fill="url(#bulb)" />
<polygon points="2652.0,1448.2 2678.0,1433.2 2820.0,1515.1 2794.0,1530.2" fill="#f2a23e" />
<polygon points="2652.0,1448.2 2678.0,1433.2 2820.0,1515.1 2794.0,1530.2" fill="url(#bulb)" />
<polygon points="2683.0,1430.3 2709.0,1415.3 2851.0,1497.2 2825.0,1512.3" fill="#ea7272" />
<polygon points="2683.0,1430.3 2709.0,1415.3 2851.0,1497.2 2825.0,1512.3" fill="url(#bulb)" />
<polygon points="2714.0,1412.4 2740.0,1397.4 2882.0,1479.4 2856.0,1494.4" fill="#b5a1ba" />
<polygon points="2714.0,1412.4 2740.0,1397.4 2882.0,1479.4 2856.0,1494.4" fill="url(#bulb)" />
<polygon points="2745.0,1394.5 2771.0,1379.5 2913.0,1461.5 2887.0,1476.5" fill="#b5a1ba" />
<polygon points="2745.0,1394.5 2771.0,1379.5 2913.0,1461.5 2887.0,1476.5" fill="url(#bulb)" />
<polygon points="2523.0,1533.0 2545.0,1520.3 2679.0,1597.7 2657.0,1610.4" fill="#ea7272" />
<polygon points="2523.0,1533.0 2545.0,1520.3 2679.0,1597.7 2657.0,1610.4" fill="url(#bulb)" />
<polygon points="2549.0,1518.0 2571.0,1505.3 2705.0,1582.7 2683.0,1595.4" fill="#b5a1ba" />
<polygon points="2549.0,1518.0 2571.0,1505.3 2705.0,1582.7 2683.0,1595.4" fill="url(#bulb)" />
<polygon points="2575.0,1503.0 2597.0,1490.3 2731.0,1567.7 2709.0,1580.4" fill="#ea7272" />
<polygon points="2575.0,1503.0 2597.0,1490.3 2731.0,1567.7 2709.0,1580.4" fill="url(#bulb)" />
<polygon points="2601.0,1488.0 2621.0,1476.5 2755.0,1553.8 2735.0,1565.4" fill="#b5a1ba" />
<polygon points="2601.0,1488.0 2621.0,1476.5 2755.0,1553.8 2735.0,1565.4" fill="url(#bulb)" />
<polygon points="1960.0,1465.5 2453.0,1180.9 2473.0,1192.4 1980.0,1477.0" fill="#e6e6e6" stroke="#333" stroke-width="1.3" />
<polyline points="1970.0,1471.3 2463.0,1186.6" fill="none" stroke="#fff" stroke-width="2.2" stroke-dasharray="14 11"/>
<polygon points="1262.0,1060.2 1285.0,1046.9 1398.0,1112.2 1375.0,1125.4" fill="#ea7272" />
<polygon points="1262.0,1060.2 1285.0,1046.9 1398.0,1112.2 1375.0,1125.4" fill="url(#bulb)" />
<polygon points="1289.0,1044.6 1312.0,1031.3 1425.0,1096.6 1402.0,1109.8" fill="#b5a1ba" />
<polygon points="1289.0,1044.6 1312.0,1031.3 1425.0,1096.6 1402.0,1109.8" fill="url(#bulb)" />
<polygon points="1316.0,1029.0 1339.0,1015.7 1452.0,1081.0 1429.0,1094.3" fill="#f2d94c" />
<polygon points="1316.0,1029.0 1339.0,1015.7 1452.0,1081.0 1429.0,1094.3" fill="url(#bulb)" />
<polygon points="1343.0,1013.4 1366.0,1000.1 1479.0,1065.4 1456.0,1078.7" fill="#f2a23e" />
<polygon points="1343.0,1013.4 1366.0,1000.1 1479.0,1065.4 1456.0,1078.7" fill="url(#bulb)" />
<polygon points="1370.0,997.8 1393.0,984.6 1506.0,1049.8 1483.0,1063.1" fill="#ea7272" />
<polygon points="1370.0,997.8 1393.0,984.6 1506.0,1049.8 1483.0,1063.1" fill="url(#bulb)" />
<polygon points="1397.0,982.3 1420.0,969.0 1533.0,1034.2 1510.0,1047.5" fill="#b5a1ba" />
<polygon points="1397.0,982.3 1420.0,969.0 1533.0,1034.2 1510.0,1047.5" fill="url(#bulb)" />
<polygon points="1424.0,966.7 1447.0,953.4 1560.0,1018.6 1537.0,1031.9" fill="#d4b8b6" />
<polygon points="1424.0,966.7 1447.0,953.4 1560.0,1018.6 1537.0,1031.9" fill="url(#bulb)" />
<polygon points="1383.0,1130.1 1570.0,1022.1 1604.0,1041.7 1417.0,1149.7" fill="#f2a23e" />
<polygon points="1383.0,1130.1 1570.0,1022.1 1604.0,1041.7 1417.0,1149.7" fill="url(#bulb)" />
<polygon points="1422.0,1152.6 1609.0,1044.6 1643.0,1064.2 1456.0,1172.2" fill="#d4b8b6" />
<polygon points="1422.0,1152.6 1609.0,1044.6 1643.0,1064.2 1456.0,1172.2" fill="url(#bulb)" />
<polygon points="1461.0,1175.1 1648.0,1067.1 1682.0,1086.8 1495.0,1194.7" fill="#b5a1ba" />
<polygon points="1461.0,1175.1 1648.0,1067.1 1682.0,1086.8 1495.0,1194.7" fill="url(#bulb)" />
<polygon points="1520.0,1187.2 1692.0,1087.9 1698.0,1091.4 1526.0,1190.7" fill="#cfe7e4" />
<polygon points="1512.0,1204.5 1637.0,1132.4 1661.0,1146.2 1536.0,1218.4" fill="#d4b8b6" />
<polygon points="1512.0,1204.5 1637.0,1132.4 1661.0,1146.2 1536.0,1218.4" fill="url(#bulb)" />
<polygon points="1540.0,1220.7 1665.0,1148.5 1689.0,1162.4 1564.0,1234.6" fill="#b5a1ba" />
<polygon points="1540.0,1220.7 1665.0,1148.5 1689.0,1162.4 1564.0,1234.6" fill="url(#bulb)" />
<polygon points="1568.0,1236.9 1693.0,1164.7 1717.0,1178.6 1592.0,1250.7" fill="#f2a23e" />
<polygon points="1568.0,1236.9 1693.0,1164.7 1717.0,1178.6 1592.0,1250.7" fill="url(#bulb)" />
<polygon points="1596.0,1253.0 1721.0,1180.9 1745.0,1194.7 1620.0,1266.9" fill="#f2d94c" />
<polygon points="1596.0,1253.0 1721.0,1180.9 1745.0,1194.7 1620.0,1266.9" fill="url(#bulb)" />
<polygon points="1624.0,1269.2 1749.0,1197.0 1773.0,1210.9 1648.0,1283.1" fill="#ea7272" />
<polygon points="1624.0,1269.2 1749.0,1197.0 1773.0,1210.9 1648.0,1283.1" fill="url(#bulb)" />
<polygon points="1652.0,1285.4 1777.0,1213.2 1801.0,1227.0 1676.0,1299.2" fill="#d4b8b6" />
<polygon points="1652.0,1285.4 1777.0,1213.2 1801.0,1227.0 1676.0,1299.2" fill="url(#bulb)" />
<polygon points="1637.0,1127.7 1699.0,1091.9 1969.0,1247.8 1907.0,1283.6" fill="#a89b8d" />
<polygon points="1690.0,1307.3 1815.0,1235.1 1840.0,1249.6 1715.0,1321.7" fill="#b5a1ba" />
<polygon points="1690.0,1307.3 1815.0,1235.1 1840.0,1249.6 1715.0,1321.7" fill="url(#bulb)" />
<polygon points="1719.0,1324.0 1844.0,1251.9 1869.0,1266.3 1744.0,1338.5" fill="#ea7272" />
<polygon points="1719.0,1324.0 1844.0,1251.9 1869.0,1266.3 1744.0,1338.5" fill="url(#bulb)" />
<polygon points="1748.0,1340.8 1873.0,1268.6 1898.0,1283.1 1773.0,1355.2" fill="#b5a1ba" />
<polygon points="1748.0,1340.8 1873.0,1268.6 1898.0,1283.1 1773.0,1355.2" fill="url(#bulb)" />
<polygon points="1777.0,1357.5 1902.0,1285.4 1927.0,1299.8 1802.0,1372.0" fill="#f2a23e" />
<polygon points="1777.0,1357.5 1902.0,1285.4 1927.0,1299.8 1802.0,1372.0" fill="url(#bulb)" />
<polygon points="1806.0,1374.3 1931.0,1302.1 1956.0,1316.5 1831.0,1388.7" fill="#f2d94c" />
<polygon points="1806.0,1374.3 1931.0,1302.1 1956.0,1316.5 1831.0,1388.7" fill="url(#bulb)" />
<polygon points="1835.0,1391.0 1960.0,1318.8 1985.0,1333.3 1860.0,1405.4" fill="#b5a1ba" />
<polygon points="1835.0,1391.0 1960.0,1318.8 1985.0,1333.3 1860.0,1405.4" fill="url(#bulb)" />
<polygon points="1864.0,1407.8 1989.0,1335.6 2014.0,1350.0 1889.0,1422.2" fill="#ea7272" />
<polygon points="1864.0,1407.8 1989.0,1335.6 2014.0,1350.0 1889.0,1422.2" fill="url(#bulb)" />
<polygon points="1893.0,1424.5 2018.0,1352.3 2043.0,1366.8 1918.0,1438.9" fill="#f2a23e" />
<polygon points="1893.0,1424.5 2018.0,1352.3 2043.0,1366.8 1918.0,1438.9" fill="url(#bulb)" />
<polygon points="1922.0,1441.2 2047.0,1369.1 2072.0,1383.5 1947.0,1455.7" fill="#f2d94c" />
<polygon points="1922.0,1441.2 2047.0,1369.1 2072.0,1383.5 1947.0,1455.7" fill="url(#bulb)" />
<polygon points="1915.0,1283.6 1969.0,1252.5 1994.0,1266.9 1940.0,1298.1" fill="#ea7272" />
<polygon points="1915.0,1283.6 1969.0,1252.5 1994.0,1266.9 1940.0,1298.1" fill="url(#bulb)" />
<polygon points="1944.0,1300.4 1998.0,1269.2 2023.0,1283.6 1969.0,1314.8" fill="#f2a23e" />
<polygon points="1944.0,1300.4 1998.0,1269.2 2023.0,1283.6 1969.0,1314.8" fill="url(#bulb)" />
<polygon points="1973.0,1317.1 2027.0,1285.9 2052.0,1300.4 1998.0,1331.5" fill="#b5a1ba" />
<polygon points="1973.0,1317.1 2027.0,1285.9 2052.0,1300.4 1998.0,1331.5" fill="url(#bulb)" />
<polygon points="2002.0,1333.9 2056.0,1302.7 2081.0,1317.1 2027.0,1348.3" fill="#f2d94c" />
<polygon points="2002.0,1333.9 2056.0,1302.7 2081.0,1317.1 2027.0,1348.3" fill="url(#bulb)" />
<polygon points="2031.0,1350.6 2085.0,1319.4 2110.0,1333.9 2056.0,1365.0" fill="#ea7272" />
<polygon points="2031.0,1350.6 2085.0,1319.4 2110.0,1333.9 2056.0,1365.0" fill="url(#bulb)" />
<polygon points="2060.0,1367.3 2114.0,1336.2 2139.0,1350.6 2085.0,1381.8" fill="#b5a1ba" />
<polygon points="2060.0,1367.3 2114.0,1336.2 2139.0,1350.6 2085.0,1381.8" fill="url(#bulb)" />
<polygon points="1990.0,1480.5 2177.0,1372.5 2204.0,1388.1 2017.0,1496.1" fill="#ea7272" />
<polygon points="1990.0,1480.5 2177.0,1372.5 2204.0,1388.1 2017.0,1496.1" fill="url(#bulb)" />
<polygon points="2022.0,1499.0 2209.0,1391.0 2236.0,1406.6 2049.0,1514.6" fill="#b5a1ba" />
<polygon points="2022.0,1499.0 2209.0,1391.0 2236.0,1406.6 2049.0,1514.6" fill="url(#bulb)" />
<polygon points="2054.0,1517.5 2241.0,1409.5 2268.0,1425.1 2081.0,1533.0" fill="#f2a23e" />
<polygon points="2054.0,1517.5 2241.0,1409.5 2268.0,1425.1 2081.0,1533.0" fill="url(#bulb)" />
<polygon points="2086.0,1535.9 2273.0,1428.0 2300.0,1443.6 2113.0,1551.5" fill="#f2d94c" />
<polygon points="2086.0,1535.9 2273.0,1428.0 2300.0,1443.6 2113.0,1551.5" fill="url(#bulb)" />
<polygon points="2118.0,1554.4 2305.0,1446.4 2331.0,1461.5 2144.0,1569.4" fill="#b5a1ba" />
<polygon points="2118.0,1554.4 2305.0,1446.4 2331.0,1461.5 2144.0,1569.4" fill="url(#bulb)" />
<polygon points="1977.5,1477.9 2172.5,1365.3 2177.5,1368.2 1982.5,1480.8" fill="#cfe7e4" />
<polygon points="2165.0,1566.5 2186.0,1554.4 2470.0,1718.4 2449.0,1730.5" fill="#f2a23e" />
<polygon points="2165.0,1566.5 2186.0,1554.4 2470.0,1718.4 2449.0,1730.5" fill="url(#bulb)" />
<polygon points="2190.0,1552.1 2211.0,1540.0 2495.0,1703.9 2474.0,1716.1" fill="#b5a1ba" />
<polygon points="2190.0,1552.1 2211.0,1540.0 2495.0,1703.9 2474.0,1716.1" fill="url(#bulb)" />
<polygon points="2215.0,1537.7 2232.0,1527.8 2516.0,1691.8 2499.0,1701.6" fill="#d4b8b6" />
<polygon points="2215.0,1537.7 2232.0,1527.8 2516.0,1691.8 2499.0,1701.6" fill="url(#bulb)" />
<polygon points="2142.5,1570.3 2151.5,1565.1 2447.5,1736.0 2438.5,1741.2" fill="#cfe7e4" />
<polygon points="2139.5,1568.0 2331.5,1457.1 2338.5,1461.2 2146.5,1572.0" fill="#cfe7e4" />
<polygon points="2228.0,1520.9 2335.0,1459.1 2631.0,1630.0 2524.0,1691.8" fill="#eef08f" />
<polygon points="2243.0,1521.5 2333.0,1469.5 2621.0,1635.8 2531.0,1687.8" fill="#b3a38f" />
<polyline points="2247.5,1518.9 2535.5,1685.2" fill="none" stroke="#7f7466" stroke-width="1.6" />
<polyline points="2256.5,1513.7 2544.5,1680.0" fill="none" stroke="#7f7466" stroke-width="1.6" />
<polyline points="2265.5,1508.5 2553.5,1674.8" fill="none" stroke="#7f7466" stroke-width="1.6" />
<polyline points="2274.5,1503.3 2562.5,1669.6" fill="none" stroke="#7f7466" stroke-width="1.6" />
<polyline points="2283.5,1498.1 2571.5,1664.4" fill="none" stroke="#7f7466" stroke-width="1.6" />
<polyline points="2292.5,1492.9 2580.5,1659.2" fill="none" stroke="#7f7466" stroke-width="1.6" />
<polyline points="2301.5,1487.7 2589.5,1654.0" fill="none" stroke="#7f7466" stroke-width="1.6" />
<polyline points="2310.5,1482.5 2598.5,1648.8" fill="none" stroke="#7f7466" stroke-width="1.6" />
<polyline points="2319.5,1477.3 2607.5,1643.6" fill="none" stroke="#7f7466" stroke-width="1.6" />
<polyline points="2328.5,1472.1 2616.5,1638.4" fill="none" stroke="#7f7466" stroke-width="1.6" />
<polyline points="1108.0,1145.5 2290.0,1827.9" fill="none" stroke="#222" stroke-width="1.6" />
<polyline points="1131.0,1113.2 2313.0,1795.6" fill="none" stroke="#222" stroke-width="2.2" />
<polyline points="1147.0,1104.0 2329.0,1786.4" fill="none" stroke="#222" stroke-width="2.2" />
<polyline points="1217.0,1060.6 2399.0,1743.0" fill="none" stroke="#222" stroke-width="2.2" />
<polyline points="1229.0,1053.6 2411.0,1736.1" fill="none" stroke="#222" stroke-width="2.2" />
<polyline points="1254.0,1060.2 2436.0,1742.6" fill="none" stroke="#222" stroke-width="1.6" />
<path d="M1189.0,1083.7 L1207.0,1073.3 L2389.0,1755.8 L2377.0,1762.7 Z" fill="#dff1f0" fill-opacity=".6"/>
<polyline points="2355.0,1769.6 1842.0,1473.4" fill="none" stroke="#8b8dc8" stroke-width="5.5" stroke-linecap="round"/>
<path d="M1869.0 1457.7L1839.0 1471.7L1855.0 1501.7" fill="none" stroke="#8b8dc8" stroke-width="5.5" stroke-linecap="round" stroke-linejoin="round"/>
<polygon points="899.0,1266.2 999.0,1208.4 1371.0,1423.2 1271.0,1480.9" fill="#a89b8d" />
<polygon points="905.0,1266.2 918.0,1258.6 1284.0,1470.0 1271.0,1477.5" fill="#b5a1ba" />
<polygon points="905.0,1266.2 918.0,1258.6 1284.0,1470.0 1271.0,1477.5" fill="url(#bulb)" />
<polygon points="921.5,1256.6 934.5,1249.1 1300.5,1460.4 1287.5,1467.9" fill="#ea7272" />
<polygon points="921.5,1256.6 934.5,1249.1 1300.5,1460.4 1287.5,1467.9" fill="url(#bulb)" />
<polygon points="938.0,1247.1 951.0,1239.6 1317.0,1450.9 1304.0,1458.4" fill="#f2a23e" />
<polygon points="938.0,1247.1 951.0,1239.6 1317.0,1450.9 1304.0,1458.4" fill="url(#bulb)" />
<polygon points="954.5,1237.6 967.5,1230.1 1333.5,1441.4 1320.5,1448.9" fill="#f2d94c" />
<polygon points="954.5,1237.6 967.5,1230.1 1333.5,1441.4 1320.5,1448.9" fill="url(#bulb)" />
<polygon points="971.0,1228.0 984.0,1220.5 1350.0,1431.9 1337.0,1439.4" fill="#b5a1ba" />
<polygon points="971.0,1228.0 984.0,1220.5 1350.0,1431.9 1337.0,1439.4" fill="url(#bulb)" />
<polygon points="987.5,1218.5 999.0,1211.9 1365.0,1423.2 1353.5,1429.8" fill="#ea7272" />
<polygon points="987.5,1218.5 999.0,1211.9 1365.0,1423.2 1353.5,1429.8" fill="url(#bulb)" />
<polygon points="1003.0,1206.1 1108.0,1145.5 1486.0,1363.7 1381.0,1424.3" fill="#dfe998" />
<polygon points="997.5,1209.3 1002.5,1206.4 1374.5,1421.2 1369.5,1424.1" fill="#cfe7e4" />
<polygon points="1272.5,1481.8 1481.5,1361.1 1488.5,1365.2 1279.5,1485.8" fill="#cfe7e4" />
<polygon points="1283.0,1487.9 1492.0,1367.2 1808.0,1549.6 1599.0,1670.3" fill="#d3dfa6" />
<polygon points="1283.0,1487.9 1492.0,1367.2 1808.0,1549.6 1599.0,1670.3" fill="url(#dots)" />
<polygon points="1623.0,1684.2 1832.0,1563.5 2028.0,1676.6 1819.0,1797.3" fill="#d3dfa6" />
<polygon points="1623.0,1684.2 1832.0,1563.5 2028.0,1676.6 1819.0,1797.3" fill="url(#dots)" />
<polygon points="1823.0,1797.3 2030.0,1677.8 2166.0,1756.3 1959.0,1875.8" fill="#a89b8d" />
<polygon points="1829.0,1797.3 2030.0,1681.3 2048.0,1691.7 1847.0,1807.7" fill="#b5a1ba" />
<polygon points="1829.0,1797.3 2030.0,1681.3 2048.0,1691.7 1847.0,1807.7" fill="url(#bulb)" />
<polygon points="1851.0,1810.0 2052.0,1694.0 2070.0,1704.4 1869.0,1820.4" fill="#ea7272" />
<polygon points="1851.0,1810.0 2052.0,1694.0 2070.0,1704.4 1869.0,1820.4" fill="url(#bulb)" />
<polygon points="1873.0,1822.7 2074.0,1706.7 2092.0,1717.1 1891.0,1833.1" fill="#f2a23e" />
<polygon points="1873.0,1822.7 2074.0,1706.7 2092.0,1717.1 1891.0,1833.1" fill="url(#bulb)" />
<polygon points="1895.0,1835.4 2096.0,1719.4 2114.0,1729.8 1913.0,1845.8" fill="#f2d94c" />
<polygon points="1895.0,1835.4 2096.0,1719.4 2114.0,1729.8 1913.0,1845.8" fill="url(#bulb)" />
<polygon points="1917.0,1848.1 2118.0,1732.1 2136.0,1742.5 1935.0,1858.5" fill="#b5a1ba" />
<polygon points="1917.0,1848.1 2118.0,1732.1 2136.0,1742.5 1935.0,1858.5" fill="url(#bulb)" />
<polygon points="1939.0,1860.8 2140.0,1744.8 2158.0,1755.2 1957.0,1871.2" fill="#ea7272" />
<polygon points="1939.0,1860.8 2140.0,1744.8 2158.0,1755.2 1957.0,1871.2" fill="url(#bulb)" />
<polygon points="1959.5,1876.1 2166.5,1756.6 2173.5,1760.7 1966.5,1880.2" fill="#cfe7e4" />
<polygon points="1823.0,1797.3 1829.0,1793.9 1969.0,1874.7 1963.0,1878.1" fill="#cfe7e4" />
<polygon points="1975.0,1875.8 2174.0,1760.9 2290.0,1827.9 2091.0,1942.8" fill="#e9ec9c" />
<polygon points="1991.0,1873.5 2177.0,1766.1 2287.0,1829.6 2101.0,1937.0" fill="#b3a38f" />
<polyline points="1995.5,1870.9 2105.5,1934.4" fill="none" stroke="#7f7466" stroke-width="1.6" />
<polyline points="2004.5,1865.7 2114.5,1929.2" fill="none" stroke="#7f7466" stroke-width="1.6" />
<polyline points="2013.5,1860.5 2123.5,1924.0" fill="none" stroke="#7f7466" stroke-width="1.6" />
<polyline points="2022.5,1855.3 2132.5,1918.8" fill="none" stroke="#7f7466" stroke-width="1.6" />
<polyline points="2031.5,1850.1 2141.5,1913.7" fill="none" stroke="#7f7466" stroke-width="1.6" />
<polyline points="2040.5,1844.9 2150.5,1908.5" fill="none" stroke="#7f7466" stroke-width="1.6" />
<polyline points="2049.5,1839.8 2159.5,1903.3" fill="none" stroke="#7f7466" stroke-width="1.6" />
<polyline points="2058.5,1834.6 2168.5,1898.1" fill="none" stroke="#7f7466" stroke-width="1.6" />
<polyline points="2067.5,1829.4 2177.5,1892.9" fill="none" stroke="#7f7466" stroke-width="1.6" />
<polyline points="2076.5,1824.2 2186.5,1887.7" fill="none" stroke="#7f7466" stroke-width="1.6" />
<polyline points="2085.5,1819.0 2195.5,1882.5" fill="none" stroke="#7f7466" stroke-width="1.6" />
<polyline points="2094.5,1813.8 2204.5,1877.3" fill="none" stroke="#7f7466" stroke-width="1.6" />
<polyline points="2103.5,1808.6 2213.5,1872.1" fill="none" stroke="#7f7466" stroke-width="1.6" />
<polyline points="2112.5,1803.4 2222.5,1866.9" fill="none" stroke="#7f7466" stroke-width="1.6" />
<polyline points="2121.5,1798.2 2231.5,1861.7" fill="none" stroke="#7f7466" stroke-width="1.6" />
<polyline points="2130.5,1793.0 2240.5,1856.5" fill="none" stroke="#7f7466" stroke-width="1.6" />
<polyline points="2139.5,1787.8 2249.5,1851.3" fill="none" stroke="#7f7466" stroke-width="1.6" />
<polyline points="2148.5,1782.6 2258.5,1846.1" fill="none" stroke="#7f7466" stroke-width="1.6" />
<polyline points="2157.5,1777.4 2267.5,1840.9" fill="none" stroke="#7f7466" stroke-width="1.6" />
<polyline points="2166.5,1772.2 2276.5,1835.7" fill="none" stroke="#7f7466" stroke-width="1.6" />
<polyline points="2175.5,1767.0 2285.5,1830.5" fill="none" stroke="#7f7466" stroke-width="1.6" />
<polygon points="547.0,1473.4 729.0,1368.3 1059.0,1558.8 877.0,1663.9" fill="#dfe998" />
<path d="M675.0,1509.2 C707.0,1450.3 837.0,1490.7 864.0,1561.7 C857.0,1594.6 727.0,1565.8 675.0,1509.2 Z" fill="#c9e6d2"/>
<path d="M735.0,1385.6 C803.0,1394.9 929.0,1483.8 939.0,1535.7 C917.0,1562.3 739.0,1443.4 735.0,1385.6 Z" fill="#c9e8e0"/>
<path d="M741.0,1396.0 C801.0,1407.6 907.0,1484.9 923.0,1524.2 C906.0,1537.5 763.0,1441.0 741.0,1396.0 Z" fill="#b5dce0"/>
<polygon points="729.0,1368.3 737.0,1363.7 1252.0,1661.0 1244.0,1665.6" fill="#cfe7e4" />
<polygon points="739.0,1362.5 871.0,1286.3 1171.0,1459.5 1039.0,1535.7" fill="#d4df9f" />
<polygon points="763.0,1362.5 879.0,1295.6 987.0,1357.9 871.0,1424.9" fill="#b3a38f" />
<polyline points="767.5,1359.9 875.5,1422.3" fill="none" stroke="#7f7466" stroke-width="1.6" />
<polyline points="776.5,1354.7 884.5,1417.1" fill="none" stroke="#7f7466" stroke-width="1.6" />
<polyline points="785.5,1349.5 893.5,1411.9" fill="none" stroke="#7f7466" stroke-width="1.6" />
<polyline points="794.5,1344.3 902.5,1406.7" fill="none" stroke="#7f7466" stroke-width="1.6" />
<polyline points="803.5,1339.1 911.5,1401.5" fill="none" stroke="#7f7466" stroke-width="1.6" />
<polyline points="812.5,1334.0 920.5,1396.3" fill="none" stroke="#7f7466" stroke-width="1.6" />
<polyline points="821.5,1328.8 929.5,1391.1" fill="none" stroke="#7f7466" stroke-width="1.6" />
<polyline points="830.5,1323.6 938.5,1385.9" fill="none" stroke="#7f7466" stroke-width="1.6" />
<polyline points="839.5,1318.4 947.5,1380.7" fill="none" stroke="#7f7466" stroke-width="1.6" />
<polyline points="848.5,1313.2 956.5,1375.5" fill="none" stroke="#7f7466" stroke-width="1.6" />
<polyline points="857.5,1308.0 965.5,1370.3" fill="none" stroke="#7f7466" stroke-width="1.6" />
<polyline points="866.5,1302.8 974.5,1365.1" fill="none" stroke="#7f7466" stroke-width="1.6" />
<polyline points="875.5,1297.6 983.5,1359.9" fill="none" stroke="#7f7466" stroke-width="1.6" />
<polygon points="1045.0,1527.7 1165.0,1458.4 1379.0,1581.9 1259.0,1651.2" fill="#b3a38f" />
<polyline points="1049.5,1525.1 1263.5,1648.6" fill="none" stroke="#7f7466" stroke-width="1.6" />
<polyline points="1058.5,1519.9 1272.5,1643.4" fill="none" stroke="#7f7466" stroke-width="1.6" />
<polyline points="1067.5,1514.7 1281.5,1638.2" fill="none" stroke="#7f7466" stroke-width="1.6" />
<polyline points="1076.5,1509.5 1290.5,1633.0" fill="none" stroke="#7f7466" stroke-width="1.6" />
<polyline points="1085.5,1504.3 1299.5,1627.8" fill="none" stroke="#7f7466" stroke-width="1.6" />
<polyline points="1094.5,1499.1 1308.5,1622.6" fill="none" stroke="#7f7466" stroke-width="1.6" />
<polyline points="1103.5,1493.9 1317.5,1617.4" fill="none" stroke="#7f7466" stroke-width="1.6" />
<polyline points="1112.5,1488.7 1326.5,1612.2" fill="none" stroke="#7f7466" stroke-width="1.6" />
<polyline points="1121.5,1483.5 1335.5,1607.0" fill="none" stroke="#7f7466" stroke-width="1.6" />
<polyline points="1130.5,1478.3 1344.5,1601.8" fill="none" stroke="#7f7466" stroke-width="1.6" />
<polyline points="1139.5,1473.1 1353.5,1596.6" fill="none" stroke="#7f7466" stroke-width="1.6" />
<polyline points="1148.5,1467.9 1362.5,1591.4" fill="none" stroke="#7f7466" stroke-width="1.6" />
<polyline points="1157.5,1462.7 1371.5,1586.3" fill="none" stroke="#7f7466" stroke-width="1.6" />
<polygon points="1249.0,1657.0 1381.0,1580.8 1401.0,1592.3 1269.0,1668.5" fill="#dbe69c" />
<polygon points="877.0,1663.9 1059.0,1558.8 1249.0,1668.5 1067.0,1773.6" fill="#dce89a" />
<polygon points="1063.0,1766.7 1151.0,1715.9 1345.0,1827.9 1257.0,1878.7" fill="#a89b8d" />
<polygon points="1069.0,1766.7 1080.0,1760.3 1268.0,1868.9 1257.0,1875.2" fill="#ea7272" />
<polygon points="1069.0,1766.7 1080.0,1760.3 1268.0,1868.9 1257.0,1875.2" fill="url(#bulb)" />
<polygon points="1083.0,1758.6 1094.0,1752.2 1282.0,1860.8 1271.0,1867.1" fill="#b5a1ba" />
<polygon points="1083.0,1758.6 1094.0,1752.2 1282.0,1860.8 1271.0,1867.1" fill="url(#bulb)" />
<polygon points="1097.0,1750.5 1108.0,1744.2 1296.0,1852.7 1285.0,1859.1" fill="#f2d94c" />
<polygon points="1097.0,1750.5 1108.0,1744.2 1296.0,1852.7 1285.0,1859.1" fill="url(#bulb)" />
<polygon points="1111.0,1742.4 1122.0,1736.1 1310.0,1844.6 1299.0,1851.0" fill="#f2a23e" />
<polygon points="1111.0,1742.4 1122.0,1736.1 1310.0,1844.6 1299.0,1851.0" fill="url(#bulb)" />
<polygon points="1125.0,1734.3 1136.0,1728.0 1324.0,1836.5 1313.0,1842.9" fill="#ea7272" />
<polygon points="1125.0,1734.3 1136.0,1728.0 1324.0,1836.5 1313.0,1842.9" fill="url(#bulb)" />
<polygon points="1139.0,1726.3 1150.0,1719.9 1338.0,1828.5 1327.0,1834.8" fill="#b5a1ba" />
<polygon points="1139.0,1726.3 1150.0,1719.9 1338.0,1828.5 1327.0,1834.8" fill="url(#bulb)" />
<polygon points="987.0,1625.5 999.0,1618.6 1831.0,2098.9 1819.0,2105.8" fill="#cfe7e4" />
<polygon points="1159.0,1715.9 1387.0,1584.2 1395.0,1588.9 1167.0,1720.5" fill="#cfe7e4" />
<polygon points="1273.0,1890.2 1361.0,1839.4 1819.0,2103.8 1731.0,2154.7" fill="#f0ee8c" />
<polygon points="1287.0,1890.2 1362.0,1846.9 1807.0,2103.8 1732.0,2147.1" fill="#bfd089" />
<polygon points="1287.0,1890.2 1362.0,1846.9 1807.0,2103.8 1732.0,2147.1" fill="url(#reddots)" />
<ellipse cx="1587" cy="1808" rx="135" ry="48" transform="rotate(-14 1587 1808)" fill="#d7dc8a"/>
<ellipse cx="1567" cy="1808" rx="120" ry="40" transform="rotate(-14 1567 1808)" fill="url(#dotsd)" fill-opacity=".55"/>
<ellipse cx="1854" cy="1949" rx="150" ry="72" transform="rotate(-10 1854 1949)" fill="url(#dotsd)" fill-opacity=".6"/>
<polygon points="1241.0,1881.3 1827.0,1543.0 1847.0,1554.5 1261.0,1892.8" fill="#e6e6e6" stroke="#333" stroke-width="1.3" />
<polyline points="1251.0,1887.1 1837.0,1548.7" fill="none" stroke="#fff" stroke-width="2.2" stroke-dasharray="14 11"/>
<polyline points="470.0,1532.8 1652.0,2215.3" fill="none" stroke="#222" stroke-width="1.4" />
<polyline points="504.0,1473.2 1686.0,2155.6" fill="none" stroke="#222" stroke-width="2.2" />
<polyline points="518.0,1465.1 1700.0,2147.6" fill="none" stroke="#222" stroke-width="2.2" />
<polyline points="547.0,1473.4 1729.0,2155.8" fill="none" stroke="#222" stroke-width="1.6" />
<polyline points="354.0,1799.6 685.0,1704.3" fill="none" stroke="#cfe7e4" stroke-width="11" />
<polyline points="746.0,2030.5 890.0,1811.1" fill="none" stroke="#cfe7e4" stroke-width="10" />
<polyline points="990.0,1863.1 1032.0,2137.9" fill="none" stroke="#cfe7e4" stroke-width="10" />
<polyline points="817.0,1949.1 1029.0,2122.3" fill="none" stroke="#cfe7e4" stroke-width="9" />
<polyline points="1044.0,2195.6 1307.0,2051.9" fill="none" stroke="#cfe7e4" stroke-width="10" />
<polyline points="1213.0,2300.1 1487.0,2155.8" fill="none" stroke="#cfe7e4" stroke-width="10" />
<polyline points="1412.0,2199.1 1527.0,2287.4" fill="none" stroke="#cfe7e4" stroke-width="9" />
<path d="M417.0,1702.0 C439.0,1723.9 447.0,1742.4 415.0,1749.3 C387.0,1742.4 382.0,1710.7 417.0,1702.0 Z" fill="#b9dde2"/>
<defs><g id="tg"><path d="M0 0V-46M0-22l-9-13M0-18l9-12" stroke="#5f9057" stroke-width="4.5" fill="none"/><ellipse cx="0" cy="-52" rx="22" ry="30" fill="#7f9845" fill-opacity=".82"/><ellipse cx="5" cy="-50" rx="16" ry="25" fill="#8aa24f" fill-opacity=".5"/><path d="M0-28V-50M0-36l-8-11M0-33l8-10" stroke="#5f9057" stroke-width="4" fill="none" stroke-opacity=".8"/></g><g id="to"><circle cx="0" cy="-42" r="22" fill="#a2a43a" fill-opacity=".78"/><path d="M0 0V-44M0-24l-8-11M0-20l8-10" stroke="#5f9057" stroke-width="4.2" fill="none"/></g><g id="td"><circle cx="0" cy="-44" r="32" fill="#a0b384" fill-opacity=".72"/><path d="M0 0V-48M0-26l-9-13M0-22l9-12" stroke="#6b9a63" stroke-width="5" fill="none"/></g><g id="tb"><circle cx="16" cy="-38" r="13" fill="#d88659" fill-opacity=".8"/><circle cx="-12" cy="-50" r="16" fill="#9a6a3c" fill-opacity=".8"/><circle cx="6" cy="-58" r="19" fill="#93703a" fill-opacity=".75"/><path d="M0 0C0-14 -2-22 -1-30M-1-26L-14-48M-1-30L14-44M-6-36l-2-14M6-38l10-4" stroke="#6d4c16" stroke-width="3.4" fill="none" stroke-linecap="round"/></g><g id="ts"><circle cx="0" cy="-9" r="7.5" fill="#9aa85a" fill-opacity=".7"/><path d="M0 0V-10M0-5l-4-7M0-6l4-7M-2-9l-3-3M2-9l3-3" stroke="#6f7f3a" stroke-width="1.1" fill="none"/></g><g id="tf"><ellipse cx="0" cy="-14" rx="7" ry="10" fill="#9db67a" fill-opacity=".7"/><path d="M0 0V-14M0-7l-3-4M0-6l3-4" stroke="#6b9a63" stroke-width="1.6" fill="none"/></g><g id="tc"><path d="M0 0V-9" stroke="#a4502a" stroke-width="3"/><circle cx="0" cy="-14" r="8" fill="#bdd35a"/></g><g id="tw"><circle cx="0" cy="-6" r="5" fill="#d9d2d8" fill-opacity=".85"/><path d="M0 0V-6" stroke="#b8b0b8" stroke-width="1"/></g><g id="tcow"><path d="M-7-11h11q3 0 3 3v8h-2v-5h-1v5h-2v-5h-5v5h-2v-5h-1v5h-2v-7h-3l-1-3h4z"/></g></defs>
<use href="#ts" transform="translate(2089 598) scale(0.92)"/>
<use href="#ts" transform="translate(2139 619) scale(1.19)"/>
<use href="#ts" transform="translate(2137 650) scale(0.87)"/>
<use href="#ts" transform="translate(2248 658) scale(1.04)"/>
<use href="#ts" transform="translate(2220 663) scale(1.02)"/>
<use href="#ts" transform="translate(2300 675) scale(1.18)"/>
<use href="#tb" x="2037" y="677"/>
<use href="#td" x="2102" y="680"/>
<use href="#td" x="1977" y="689"/>
<use href="#ts" transform="translate(2258 691) scale(1.20)"/>
<use href="#ts" transform="translate(1920 701) scale(1.03)"/>
<use href="#td" x="2162" y="709"/>
<use href="#tb" x="1902" y="715"/>
<use href="#ts" transform="translate(2346 733) scale(0.86)"/>
<use href="#tb" x="2247" y="752"/>
<g class="h"><path d="M2006 734L2054 707L2040 691L1992 719ZM1979 738L2006 753L2006 734L1992 719L1979 719Z"/><path class="g" d="M2006 753L2054 726L2054 707L2006 734Z"/><path d="M2022 744L2022 725L2008 709M2038 735L2038 716L2024 700" style="fill:none"/></g>
<use href="#ts" transform="translate(2408 762) scale(0.90)"/>
<use href="#td" x="1837" y="764"/>
<g class="h"><path d="M2045 743L2085 720L2071 704L2031 727ZM2018 746L2045 762L2045 743L2031 727L2018 727Z"/><path class="g" d="M2045 762L2085 739L2085 720L2045 743Z"/><path d="M2065 750L2065 731L2051 716" style="fill:none"/></g>
<use href="#ts" transform="translate(2271 776) scale(0.95)"/>
<use href="#ts" transform="translate(2468 781) scale(0.94)"/>
<g class="h"><path d="M1843 771L1869 786L1869 762L1843 747ZM1843 747L1909 708L1935 723L1869 762Z"/><path class="g" d="M1869 786L1935 747L1935 723L1869 762Z"/></g>
<g class="h"><path d="M1997 760L2029 741L2016 725L1984 744ZM1970 763L1997 779L1997 760L1984 744L1970 744Z"/><path class="g" d="M1997 779L2029 760L2029 741L1997 760Z"/><path d="M2013 769L2013 750L2000 735" style="fill:none"/></g>
<use href="#td" transform="translate(2319 792) scale(1.10)"/>
<use href="#ts" transform="translate(2124 794) scale(1.04)"/>
<use href="#ts" transform="translate(1892 799) scale(1.11)"/>
<use href="#ts" transform="translate(2349 816) scale(0.89)"/>
<g class="h"><path d="M2059 767L2123 804L2123 785L2059 748ZM2059 748L2123 785L2137 770L2073 733Z"/><path class="g" d="M2123 804L2150 789L2150 770L2137 770L2123 785Z"/><path d="M2075 777L2075 758L2089 742M2091 786L2091 767L2105 751M2107 795L2107 776L2121 760" style="fill:none"/></g>
<use href="#ts" transform="translate(2527 819) scale(0.82)"/>
<use href="#td" transform="translate(1927 822) scale(0.90)"/>
<use href="#ts" transform="translate(2203 822) scale(1.11)"/>
<g class="h"><path d="M1954 785L1994 762L1988 758L1948 781ZM1942 808L1954 815L1954 785L1948 781L1942 778Z"/><path class="g" d="M1954 815L1994 792L1994 762L1954 785Z"/></g>
<g class="h"><path d="M1916 800L1964 772L1950 756L1902 784ZM1889 803L1916 819L1916 800L1902 784L1889 784Z"/><path class="g" d="M1916 819L1964 791L1964 772L1916 800Z"/><path d="M1932 810L1932 791L1918 775M1948 800L1948 781L1934 765" style="fill:none"/></g>
<g class="h"><path d="M2161 805L2209 777L2195 762L2147 789ZM2134 809L2161 824L2161 805L2147 789L2134 790Z"/><path class="g" d="M2161 824L2209 796L2209 777L2161 805Z"/><path d="M2177 815L2177 796L2163 780M2193 806L2193 787L2179 771" style="fill:none"/></g>
<use href="#td" x="2372" y="830"/>
<use href="#ts" transform="translate(2519 831) scale(0.89)"/>
<g class="h"><path d="M2080 788L2116 767L2110 764L2074 784ZM2068 815L2080 822L2080 788L2074 784L2068 781Z"/><path class="g" d="M2080 822L2116 801L2116 767L2080 788Z"/></g>
<use href="#ts" transform="translate(2412 840) scale(1.04)"/>
<g class="h"><path d="M2001 816L2015 824L2015 766L2001 758ZM2001 758L2015 766L2022 740L2008 732Z"/><path class="g" d="M2015 824L2029 816L2029 758L2022 740L2015 766Z"/></g>
<use href="#ts" transform="translate(2635 842) scale(1.07)"/>
<use href="#ts" transform="translate(2153 847) scale(1.07)"/>
<use href="#ts" transform="translate(2221 850) scale(1.09)"/>
<g class="h"><path d="M1999 819L2043 844L2043 814L1999 789ZM1999 789L2043 814L2060 788L2016 763Z"/><path class="g" d="M2043 844L2077 824L2077 794L2060 788L2043 814Z"/></g>
<use href="#tw" x="2685" y="855"/>
<g class="h"><path d="M1938 824L1964 809L1949 793L1923 808ZM1908 826L1938 843L1938 824L1923 808L1908 807Z"/><path class="g" d="M1938 843L1964 828L1964 809L1938 824Z"/></g>
<g class="h"><path d="M2164 835L2212 807L2198 792L2150 819ZM2137 839L2164 854L2164 835L2150 819L2137 820Z"/><path class="g" d="M2164 854L2212 826L2212 807L2164 835Z"/><path d="M2180 845L2180 826L2166 810M2196 836L2196 817L2182 801" style="fill:none"/></g>
<use href="#tw" x="2705" y="862"/>
<use href="#td" x="2435" y="863"/>
<use href="#ts" transform="translate(2683 866) scale(1.14)"/>
<use href="#tw" x="2652" y="867"/>
<use href="#tw" x="2683" y="870"/>
<use href="#td" transform="translate(2092 871) scale(0.90)"/>
<g class="h"><path d="M2065 849L2113 821L2100 805L2052 833ZM2038 852L2065 868L2065 849L2052 833L2038 833Z"/><path class="g" d="M2065 868L2113 840L2113 821L2065 849Z"/><path d="M2081 859L2081 840L2068 824M2097 849L2097 830L2084 815" style="fill:none"/></g>
<use href="#tw" x="2656" y="875"/>
<use href="#tw" x="2706" y="876"/>
<use href="#tw" x="2707" y="876"/>
<use href="#tw" x="2711" y="877"/>
<use href="#ts" transform="translate(2399 877) scale(1.11)"/>
<use href="#tw" x="2734" y="879"/>
<use href="#tw" x="2683" y="879"/>
<use href="#tw" x="2696" y="883"/>
<use href="#tw" x="2723" y="884"/>
<g class="h"><path d="M2204 860L2252 832L2239 816L2191 844ZM2177 863L2204 879L2204 860L2191 844L2177 844Z"/><path class="g" d="M2204 879L2252 851L2252 832L2204 860Z"/><path d="M2220 869L2220 850L2207 835M2236 860L2236 841L2223 825" style="fill:none"/></g>
<use href="#tw" x="2686" y="887"/>
<use href="#ts" transform="translate(2679 888) scale(1.19)"/>
<use href="#tw" x="2691" y="888"/>
<use href="#tw" x="2737" y="888"/>
<use href="#tw" x="2702" y="888"/>
<g class="h"><path d="M2263 858L2295 877L2295 858L2263 839ZM2263 839L2295 858L2308 842L2276 824Z"/><path class="g" d="M2295 877L2322 861L2322 842L2308 842L2295 858Z"/><path d="M2279 868L2279 849L2292 833" style="fill:none"/></g>
<use href="#ts" transform="translate(2204 894) scale(0.83)"/>
<use href="#tw" x="2732" y="896"/>
<use href="#tc" x="1604" y="896"/>
<use href="#tw" x="2712" y="897"/>
<use href="#tw" x="2750" y="897"/>
<use href="#ts" transform="translate(2712 898) scale(0.87)"/>
<use href="#td" transform="translate(2537 898) scale(1.09)"/>
<g class="h"><path d="M2086 883L2166 836L2153 821L2073 867ZM2059 886L2086 902L2086 883L2073 867L2059 867Z"/><path class="g" d="M2086 902L2166 855L2166 836L2086 883Z"/><path d="M2102 892L2102 873L2089 857M2118 883L2118 864L2105 848M2134 874L2134 855L2121 839M2150 865L2150 846L2137 830" style="fill:none"/></g>
<use href="#tc" x="1563" y="900"/>
<use href="#ts" transform="translate(2565 901) scale(0.82)"/>
<use href="#ts" transform="translate(2396 901) scale(1.13)"/>
<use href="#tw" x="2707" y="902"/>
<use href="#tw" x="2757" y="902"/>
<use href="#td" transform="translate(2487 903) scale(1.10)"/>
<g class="h"><path d="M2028 888L2108 842L2094 826L2014 872ZM2001 891L2028 907L2028 888L2014 872L2001 872Z"/><path class="g" d="M2028 907L2108 861L2108 842L2028 888Z"/><path d="M2044 898L2044 879L2030 863M2060 888L2060 869L2046 854M2076 879L2076 860L2062 844M2092 870L2092 851L2078 835" style="fill:none"/></g>
<use href="#ts" transform="translate(2575 904) scale(0.95)"/>
<g class="h"><path d="M2215 889L2279 852L2266 836L2202 873ZM2188 892L2215 908L2215 889L2202 873L2188 873Z"/><path class="g" d="M2215 908L2279 871L2279 852L2215 889Z"/><path d="M2231 899L2231 880L2218 864M2247 889L2247 870L2234 855M2263 880L2263 861L2250 845" style="fill:none"/></g>
<use href="#tc" x="1615" y="910"/>
<use href="#tw" x="2719" y="910"/>
<use href="#tc" x="1545" y="911"/>
<use href="#tw" x="2752" y="911"/>
<use href="#tw" x="2733" y="911"/>
<use href="#ts" transform="translate(2659 911) scale(1.07)"/>
<use href="#tw" x="2770" y="912"/>
<use href="#tw" x="2729" y="914"/>
<use href="#tw" x="2764" y="915"/>
<use href="#tc" x="1638" y="916"/>
<use href="#tc" x="1568" y="917"/>
<use href="#tw" x="2780" y="918"/>
<use href="#tw" x="2766" y="919"/>
<use href="#tc" x="1597" y="920"/>
<use href="#tw" x="2729" y="921"/>
<use href="#tc" x="1527" y="921"/>
<use href="#tw" x="2748" y="924"/>
<use href="#tw" x="2812" y="924"/>
<use href="#tw" x="2803" y="925"/>
<use href="#tc" x="1620" y="926"/>
<use href="#tc" x="1550" y="927"/>
<use href="#tw" x="2808" y="928"/>
<use href="#tc" x="1649" y="929"/>
<use href="#tw" x="2769" y="929"/>
<use href="#tc" x="1509" y="931"/>
<use href="#tw" x="2777" y="933"/>
<use href="#tw" x="2759" y="933"/>
<use href="#td" transform="translate(2664 934) scale(0.81)"/>
<use href="#tw" x="2797" y="934"/>
<use href="#tc" x="1602" y="937"/>
<use href="#ts" transform="translate(2754 937) scale(1.01)"/>
<use href="#ts" transform="translate(2754 938) scale(0.84)"/>
<use href="#tc" x="1532" y="938"/>
<use href="#ts" transform="translate(2541 938) scale(1.18)"/>
<use href="#tc" x="1631" y="940"/>
<use href="#tc" x="1561" y="941"/>
<use href="#td" x="2457" y="943"/>
<use href="#tw" x="2798" y="944"/>
<use href="#td" transform="translate(2558 945) scale(1.09)"/>
<g class="h"><path d="M2139 905L2187 933L2187 914L2139 886ZM2139 886L2187 914L2201 898L2153 871Z"/><path class="g" d="M2187 933L2214 918L2214 899L2201 898L2187 914Z"/><path d="M2155 915L2155 896L2169 880M2171 924L2171 905L2185 889" style="fill:none"/></g>
<use href="#tc" x="1654" y="946"/>
<use href="#tw" x="2787" y="947"/>
<g class="h"><path d="M2123 922L2171 895L2157 879L2109 907ZM2096 926L2123 941L2123 922L2109 907L2096 907Z"/><path class="g" d="M2123 941L2171 914L2171 895L2123 922Z"/><path d="M2139 932L2139 913L2125 897M2155 923L2155 904L2141 888" style="fill:none"/></g>
<use href="#ts" transform="translate(2751 948) scale(0.87)"/>
<use href="#tc" x="1683" y="949"/>
<use href="#tc" x="1613" y="950"/>
<use href="#tc" x="1543" y="951"/>
<g class="h"><path d="M2183 924L2215 942L2215 923L2183 905ZM2183 905L2215 923L2228 907L2196 889Z"/><path class="g" d="M2215 942L2242 927L2242 908L2228 907L2215 923Z"/><path d="M2199 933L2199 914L2212 898" style="fill:none"/></g>
<use href="#tc" x="1706" y="955"/>
<use href="#tc" x="1636" y="956"/>
<use href="#td" transform="translate(2477 956) scale(0.87)"/>
<use href="#tc" x="1566" y="957"/>
<use href="#ts" transform="translate(2722 958) scale(1.19)"/>
<use href="#ts" transform="translate(2739 958) scale(0.87)"/>
<use href="#tc" x="1595" y="960"/>
<use href="#tc" x="1688" y="966"/>
<path d="M2630 906v-20M2618 894v-9M2660 911v-9M2604 899v-15M2589 907v-17M2666 911v-15M2665 905v-20M2658 895v-13M2591 908v-9M2642 910v-14M2593 891v-14M2617 909v-12M2709 918v-11M2641 906v-11M2708 904v-23M2650 914v-10M2604 901v-11M2621 897v-20M2660 898v-18M2613 888v-14M2637 904v-12M2603 908v-10M2652 914v-12M2675 903v-19M2592 910v-28M2710 918v-16M2664 915v-22M2653 902v-12M2623 907v-10M2671 897v-17M2616 900v-17M2688 901v-16M2632 916v-13M2667 907v-14M2670 906v-25M2670 902v-10M2671 910v-10M2639 915v-13M2624 905v-9M2629 913v-9M2606 896v-11M2592 898v-17M2588 903v-15M2672 902v-16M2713 924v-12M2591 894v-21M2639 907v-15M2646 898v-20M2648 906v-13M2657 909v-21M2678 911v-17M2684 917v-10M2708 912v-14M2687 902v-22M2592 902v-20M2681 911v-18M2614 900v-16M2619 912v-26M2665 895v-15M2682 910v-19M2657 914v-17M2710 914v-16M2697 906v-28M2601 898v-9M2700 918v-9M2629 908v-12M2613 896v-16M2655 900v-14M2710 902v-12M2614 901v-22M2646 916v-17M2604 890v-21M2596 905v-21M2615 913v-19M2637 895v-18M2622 910v-11M2652 904v-19M2643 895v-8M2644 902v-15M2684 906v-14M2606 887v-17M2678 905v-22M2600 889v-13M2618 892v-11M2716 910v-26M2704 911v-24M2683 913v-15M2670 898v-18M2662 917v-17M2650 908v-12M2621 893v-18M2628 896v-16M2707 904v-28M2634 902v-16M2702 921v-22M2665 911v-8M2661 896v-18M2622 905v-9M2696 904v-9M2624 907v-20M2626 900v-8M2615 891v-28M2610 904v-16M2595 905v-21M2690 901v-9M2668 920v-19M2588 901v-10M2614 898v-23M2634 897v-24M2633 900v-10M2621 908v-8M2657 901v-16M2619 901v-20M2712 905v-19M2672 896v-10M2616 899v-8M2615 900v-17M2708 923v-9M2598 900v-15M2603 900v-26M2650 904v-15M2664 919v-18M2630 908v-19M2667 905v-10M2688 906v-9M2637 897v-16M2587 906v-17M2598 905v-17M2666 903v-11M2630 905v-29M2673 909v-24M2686 907v-9M2704 904v-12M2625 907v-17M2644 896v-24M2682 913v-21M2589 905v-18M2650 903v-20M2686 922v-8M2686 905v-9M2690 921v-25M2657 908v-9M2675 904v-24M2601 891v-12M2658 902v-15M2654 897v-18M2590 896v-21M2660 895v-19M2706 910v-13M2691 920v-17" stroke="#c5c8b0" stroke-width="1.5" stroke-opacity="0.75" fill="none"/>
<g class="h"><path d="M2268 964L2396 891L2382 875L2254 949ZM2241 968L2268 983L2268 964L2254 949L2241 949Z"/><path class="g" d="M2268 983L2396 910L2396 891L2268 964Z"/><path d="M2284 974L2284 955L2270 939M2300 965L2300 946L2286 930M2316 956L2316 937L2302 921M2332 947L2332 928L2318 912M2348 937L2348 918L2334 902M2364 928L2364 909L2350 893M2380 919L2380 900L2366 884" style="fill:none"/></g>
<use href="#tc" x="1618" y="967"/>
<path d="M2765 896v-18M2772 912v-22M2726 920v-14M2784 905v-20M2833 903v-10M2793 918v-16M2802 913v-11M2742 901v-15M2715 918v-16M2727 893v-18M2707 902v-11M2767 897v-13M2835 899v-19M2810 921v-10M2739 909v-24M2825 915v-11M2701 906v-18M2731 912v-16M2700 893v-14M2732 893v-22M2717 908v-22M2704 895v-9M2761 918v-22M2743 901v-20M2776 896v-20M2807 920v-9M2777 898v-26M2726 892v-18M2767 907v-23M2776 907v-23M2726 906v-9M2810 902v-14M2799 898v-10M2767 912v-12M2741 921v-22M2720 909v-12M2706 888v-19M2834 906v-18M2807 901v-28M2825 899v-12M2800 908v-10M2698 916v-19M2758 916v-16M2838 908v-17M2779 924v-18M2806 913v-13M2832 922v-26M2737 905v-15M2753 920v-15M2800 912v-22M2815 906v-28M2815 923v-19M2761 896v-10M2746 911v-27M2748 914v-21M2820 927v-8M2802 905v-18M2707 900v-9M2787 895v-10M2781 898v-8M2817 924v-17M2815 916v-18M2715 889v-22M2738 909v-24M2770 902v-29M2751 906v-16M2702 905v-21M2719 911v-13M2830 910v-10M2828 907v-26M2791 906v-19M2806 924v-11M2741 893v-19M2737 899v-17M2835 905v-19M2756 910v-12M2724 898v-22M2763 923v-8M2720 919v-10M2781 899v-10M2761 921v-16M2701 894v-28M2807 913v-12M2745 892v-11M2817 908v-21M2830 920v-14M2761 896v-11M2750 892v-18M2768 904v-19M2762 902v-15M2761 902v-16M2759 920v-24M2818 912v-29M2702 915v-23M2698 914v-15M2786 896v-19M2790 906v-15M2805 926v-8M2739 907v-11M2742 909v-26M2811 909v-26M2837 903v-11M2837 901v-11M2834 925v-12M2750 924v-12M2808 904v-17M2827 919v-14M2829 927v-23M2774 897v-15M2724 898v-11M2789 920v-8M2809 922v-17M2838 901v-8M2716 893v-21M2788 898v-25M2796 914v-14M2747 923v-15M2705 902v-18M2793 912v-10M2792 911v-22M2832 928v-15M2806 902v-12M2703 913v-11M2812 916v-19M2797 901v-24M2811 910v-17M2745 894v-19M2708 899v-28M2815 921v-13M2718 905v-10M2802 922v-10M2741 908v-13M2798 896v-22M2792 902v-9M2718 893v-14M2723 889v-13M2707 888v-17M2783 902v-13M2755 905v-15M2720 908v-19M2815 923v-17M2782 895v-26M2787 914v-14M2712 891v-23M2763 905v-23M2766 903v-13M2766 912v-23M2701 912v-21M2827 909v-10M2835 907v-27M2824 921v-11M2768 911v-11M2774 925v-21M2782 908v-13M2819 900v-16M2779 926v-12M2829 919v-9M2745 895v-19M2786 923v-9M2755 920v-11" stroke="#c5c8b0" stroke-width="1.5" stroke-opacity="0.75" fill="none"/>
<use href="#td" transform="translate(2641 969) scale(0.73)"/>
<use href="#tc" x="1647" y="970"/>
<use href="#ts" transform="translate(2690 975) scale(0.93)"/>
<use href="#ts" transform="translate(2368 976) scale(1.15)"/>
<use href="#tc" x="1600" y="977"/>
<use href="#td" transform="translate(2708 979) scale(1.07)"/>
<use href="#tc" x="1629" y="980"/>
<g class="h"><path d="M2362 950L2394 932L2381 916L2349 935ZM2335 954L2362 969L2362 950L2349 935L2335 935Z"/><path class="g" d="M2362 969L2394 951L2394 932L2362 950Z"/><path d="M2378 960L2378 941L2365 925" style="fill:none"/></g>
<g class="h"><path d="M2136 960L2200 923L2187 907L2123 944ZM2109 963L2136 979L2136 960L2123 944L2109 944Z"/><path class="g" d="M2136 979L2200 942L2200 923L2136 960Z"/><path d="M2152 969L2152 950L2139 935M2168 960L2168 941L2155 925M2184 951L2184 932L2171 916" style="fill:none"/></g>
<use href="#ts" transform="translate(2476 983) scale(1.05)"/>
<use href="#tc" x="1652" y="986"/>
<use href="#td" transform="translate(2551 987) scale(1.02)"/>
<use href="#ts" transform="translate(2656 988) scale(0.94)"/>
<use href="#tc" x="1611" y="990"/>
<use href="#to" x="1492" y="991"/>
<use href="#ts" transform="translate(2707 993) scale(1.02)"/>
<use href="#td" transform="translate(2772 994) scale(1.07)"/>
<use href="#tb" x="2387" y="995"/>
<use href="#tc" x="1634" y="997"/>
<use href="#ts" transform="translate(2447 1001) scale(0.90)"/>
<use href="#ts" transform="translate(2865 1003) scale(1.04)"/>
<use href="#td" transform="translate(2839 1006) scale(1.06)"/>
<use href="#tg" x="1792" y="1007"/>
<use href="#ts" transform="translate(2511 1008) scale(0.82)"/>
<use href="#ts" transform="translate(2864 1009) scale(0.97)"/>
<use href="#ts" transform="translate(2634 1010) scale(0.91)"/>
<use href="#td" transform="translate(2409 1010) scale(0.93)"/>
<use href="#ts" transform="translate(2925 1012) scale(0.98)"/>
<use href="#td" transform="translate(2707 1014) scale(0.71)"/>
<use href="#ts" transform="translate(2549 1015) scale(1.16)"/>
<g class="h"><path d="M1716 951L1773 984L1764 984L1707 951ZM1698 970L1755 1003L1755 994L1698 961ZM1698 961L1755 994L1764 984L1707 951Z"/><path class="g" d="M1755 1003L1773 993L1773 984L1764 984L1755 994Z"/></g>
<use href="#ts" transform="translate(2639 1019) scale(1.12)"/>
<use href="#ts" transform="translate(2808 1020) scale(1.13)"/>
<g class="h"><path d="M2208 990L2240 1008L2240 989L2208 971ZM2208 971L2240 989L2255 973L2223 954Z"/><path class="g" d="M2240 1008L2270 991L2270 972L2255 973L2240 989Z"/><path d="M2224 999L2224 980L2239 963" style="fill:none"/></g>
<use href="#td" transform="translate(2518 1021) scale(0.91)"/>
<use href="#ts" x="2827" y="1023"/>
<use href="#td" transform="translate(2317 1024) scale(1.10)"/>
<use href="#tb" transform="translate(2756 1028) scale(1.08)"/>
<use href="#ts" transform="translate(2414 1029) scale(0.92)"/>
<use href="#ts" transform="translate(2466 1030) scale(0.86)"/>
<use href="#tg" x="1560" y="1032"/>
<use href="#td" transform="translate(2648 1032) scale(1.11)"/>
<g class="h"><path d="M1723 962L1785 998L1776 999L1714 963ZM1705 982L1767 1018L1767 1009L1705 973ZM1705 973L1767 1009L1776 999L1714 963Z"/><path class="g" d="M1767 1018L1785 1007L1785 998L1776 999L1767 1009Z"/></g>
<use href="#ts" transform="translate(2949 1036) scale(0.81)"/>
<use href="#ts" transform="translate(2735 1040) scale(0.96)"/>
<use href="#ts" transform="translate(2388 1040) scale(0.95)"/>
<use href="#ts" transform="translate(2376 1041) scale(1.19)"/>
<use href="#tb" transform="translate(2337 1041) scale(0.93)"/>
<use href="#tb" transform="translate(2891 1041) scale(1.08)"/>
<use href="#ts" transform="translate(3023 1042) scale(0.86)"/>
<use href="#td" transform="translate(2576 1046) scale(0.70)"/>
<use href="#tg" x="1560" y="1047"/>
<use href="#ts" transform="translate(2857 1049) scale(1.10)"/>
<use href="#ts" transform="translate(2495 1052) scale(1.04)"/>
<use href="#tg" transform="translate(1607 1055) scale(0.60)"/>
<g class="h"><path d="M1664 1021L1679 1012L1690 1014L1676 1022ZM1687 1034L1702 1025L1690 1014L1676 1022ZM1664 1031L1687 1045L1687 1034L1676 1022L1664 1021Z"/><path class="g" d="M1687 1045L1702 1036L1702 1025L1687 1034Z"/></g>
<use href="#ts" transform="translate(2426 1062) scale(1.09)"/>
<use href="#ts" transform="translate(2826 1069) scale(1.18)"/>
<use href="#tb" transform="translate(2932 1070) scale(1.15)"/>
<use href="#tb" transform="translate(2828 1074) scale(1.19)"/>
<use href="#tg" x="2256" y="1075"/>
<use href="#ts" transform="translate(2519 1075) scale(0.98)"/>
<use href="#tb" x="2378" y="1075"/>
<use href="#td" transform="translate(2736 1077) scale(0.84)"/>
<use href="#to" x="1622" y="1077"/>
<g class="h"><path d="M1288 1070L1334 1043L1326 1034L1280 1060ZM1272 1070L1288 1079L1288 1070L1280 1060L1272 1061Z"/><path class="g" d="M1288 1079L1334 1052L1334 1043L1288 1070Z"/></g>
<use href="#tg" transform="translate(2272 1086) scale(0.80)"/>
<use href="#to" x="1758" y="1086"/>
<use href="#ts" transform="translate(2491 1090) scale(0.88)"/>
<use href="#ts" transform="translate(2420 1094) scale(0.96)"/>
<use href="#tb" transform="translate(2434 1097) scale(0.98)"/>
<use href="#td" transform="translate(2578 1099) scale(0.82)"/>
<use href="#ts" x="2518" y="1101"/>
<use href="#tb" transform="translate(2637 1102) scale(1.03)"/>
<use href="#ts" transform="translate(2430 1104) scale(1.04)"/>
<use href="#ts" transform="translate(2786 1105) scale(0.90)"/>
<use href="#td" transform="translate(2772 1107) scale(1.13)"/>
<use href="#ts" transform="translate(2461 1108) scale(0.81)"/>
<use href="#td" transform="translate(2991 1109) scale(1.06)"/>
<use href="#td" transform="translate(2505 1113) scale(0.92)"/>
<use href="#td" transform="translate(2862 1114) scale(0.84)"/>
<use href="#tg" x="1834" y="1117"/>
<use href="#td" transform="translate(3071 1123) scale(0.88)"/>
<use href="#to" transform="translate(2299 1127) scale(0.90)"/>
<use href="#ts" transform="translate(3192 1128) scale(0.81)"/>
<use href="#ts" transform="translate(2668 1131) scale(1.07)"/>
<use href="#ts" transform="translate(3041 1133) scale(0.82)"/>
<use href="#ts" transform="translate(2563 1133) scale(1.11)"/>
<use href="#ts" transform="translate(2539 1134) scale(1.13)"/>
<use href="#ts" transform="translate(3209 1134) scale(1.13)"/>
<use href="#ts" transform="translate(2595 1135) scale(0.83)"/>
<use href="#td" transform="translate(2673 1137) scale(1.07)"/>
<g class="h"><path d="M1710 1102L1724 1094L1736 1096L1721 1104ZM1733 1116L1747 1107L1736 1096L1721 1104ZM1710 1113L1733 1126L1733 1116L1721 1104L1710 1102Z"/><path class="g" d="M1733 1126L1747 1118L1747 1107L1733 1116Z"/></g>
<use href="#to" transform="translate(2187 1145) scale(0.90)"/>
<use href="#ts" transform="translate(2661 1148) scale(0.88)"/>
<use href="#tg" transform="translate(2162 1148) scale(0.70)"/>
<use href="#td" transform="translate(3026 1149) scale(0.94)"/>
<use href="#ts" transform="translate(2502 1150) scale(0.92)"/>
<use href="#ts" transform="translate(2654 1151) scale(0.84)"/>
<use href="#td" transform="translate(2619 1152) scale(0.84)"/>
<g transform="translate(1407.5 1151.8)" fill="#fff"><polygon points="-4.5,0 4.5,0 2.2,-129 -2.2,-129"/><polygon points="-1.6,-127.7 -5.6,-142.6 -29.6,-165.5 -10.3,-138.8"/><polygon points="-0.3,-131.1 16.7,-127.4 53.3,-137.4 15.7,-133.4"/><polygon points="2.1,-128.6 -7.0,-115.1 -9.5,-79.9 -1.0,-113.9"/></g>
<use href="#td" transform="translate(2516 1154) scale(0.75)"/>
<use href="#to" transform="translate(2227 1157) scale(0.80)"/>
<use href="#to" x="1801" y="1159"/>
<use href="#ts" transform="translate(2513 1162) scale(0.93)"/>
<g class="h"><path d="M1843 1125L1858 1117L1870 1118L1855 1127ZM1866 1138L1881 1130L1870 1118L1855 1127ZM1843 1136L1866 1149L1866 1138L1855 1127L1843 1125Z"/><path class="g" d="M1866 1149L1881 1141L1881 1130L1866 1138Z"/></g>
<use href="#ts" transform="translate(3192 1166) scale(0.88)"/>
<g class="h"><path d="M2346 1125L2362 1115L2376 1118L2359 1127ZM2372 1140L2389 1130L2376 1118L2359 1127ZM2346 1135L2372 1150L2372 1140L2359 1127L2346 1125Z"/><path class="g" d="M2372 1150L2389 1141L2389 1130L2372 1140Z"/></g>
<use href="#ts" transform="translate(2788 1166) scale(1.04)"/>
<use href="#ts" transform="translate(3130 1167) scale(0.96)"/>
<use href="#td" transform="translate(2762 1168) scale(0.74)"/>
<use href="#ts" transform="translate(2624 1172) scale(0.88)"/>
<use href="#td" transform="translate(2862 1173) scale(0.95)"/>
<use href="#ts" transform="translate(2710 1173) scale(1.09)"/>
<use href="#ts" transform="translate(2763 1174) scale(1.18)"/>
<use href="#ts" transform="translate(2751 1174) scale(1.16)"/>
<use href="#ts" transform="translate(3062 1175) scale(0.85)"/>
<use href="#tb" transform="translate(2657 1175) scale(1.15)"/>
<use href="#td" transform="translate(2927 1176) scale(0.70)"/>
<g class="h"><path d="M2314 1136L2331 1126L2344 1129L2327 1139ZM2341 1151L2357 1142L2344 1129L2327 1139ZM2314 1147L2341 1162L2341 1151L2327 1139L2314 1136Z"/><path class="g" d="M2341 1162L2357 1152L2357 1142L2341 1151Z"/></g>
<use href="#tf" transform="translate(1090 1178) scale(1.18)"/>
<use href="#tg" x="1901" y="1179"/>
<g class="h"><path d="M1127 1144L1142 1136L1154 1137L1139 1146ZM1150 1157L1165 1149L1154 1137L1139 1146ZM1127 1155L1150 1168L1150 1157L1139 1146L1127 1144Z"/><path class="g" d="M1150 1168L1165 1160L1165 1149L1150 1157Z"/></g>
<use href="#td" transform="translate(2989 1179) scale(0.99)"/>
<g class="h t"><path d="M2218 1148L2226 1143L2234 1143L2224 1149ZM2232 1156L2240 1151L2234 1143L2224 1149ZM2218 1154L2232 1162L2232 1156L2224 1149L2218 1148Z"/><path class="g" d="M2232 1162L2240 1157L2240 1151L2232 1156Z"/></g>
<use href="#ts" transform="translate(2559 1180) scale(1.07)"/>
<path d="M2141 1193v-16M2121 1188v-33M2117 1186v-12M1996 1118v-9M2076 1153v-20M2024 1134v-10M2167 1217v-16M2166 1211v-14M2094 1162v-16M1971 1091v-21M2081 1166v-16M2031 1131v-14M2221 1233v-11M2006 1117v-18M1978 1102v-26M2098 1168v-20M2020 1118v-17M2047 1145v-19M2192 1218v-14M1991 1112v-12M2101 1172v-28M2094 1164v-32M2084 1156v-23M2093 1160v-9M2080 1163v-13M2126 1182v-18M2164 1209v-23M2060 1146v-8M2046 1144v-29M2065 1150v-25M1961 1091v-31M1987 1099v-15M2116 1178v-17M2196 1235v-22M1996 1108v-14M2194 1227v-18M1966 1098v-24M2012 1117v-8M2182 1214v-11M2183 1222v-17M2006 1124v-17M2147 1200v-16M2215 1236v-14M2015 1114v-19M2199 1232v-14M2025 1133v-25M2035 1130v-13M2170 1211v-17M2128 1192v-23M1951 1087v-12M2180 1218v-23M2130 1194v-22M2194 1230v-13M2153 1199v-19M2098 1171v-10M2001 1108v-11M2179 1223v-15M2070 1155v-20M1963 1100v-9M1974 1102v-16M2121 1184v-18M2084 1167v-18M2155 1204v-24M1978 1097v-8M1953 1087v-20M2001 1108v-13M2190 1224v-15M2103 1172v-19M1959 1098v-23M2140 1200v-10M1966 1089v-11M2001 1112v-26M2106 1178v-20M2195 1232v-12M2125 1193v-24M2099 1169v-9M2026 1122v-9M2160 1206v-14M2144 1194v-31M2014 1116v-11M2203 1237v-13M2208 1226v-23M2076 1153v-23M2007 1118v-29M2056 1152v-32M2000 1109v-8M2049 1135v-15M1980 1101v-14M2197 1232v-14M2099 1164v-10M2177 1209v-16M2015 1117v-12M2001 1121v-14M2128 1183v-22M2192 1224v-32M2140 1201v-20M1974 1091v-30M2211 1234v-31M2198 1225v-21M2158 1207v-14M1963 1089v-15M2092 1164v-19M2037 1129v-15M2132 1186v-24M2186 1220v-14M2120 1189v-23M2008 1113v-9M2208 1230v-14M2160 1202v-20M1952 1084v-9M2175 1211v-22M2159 1199v-12M2162 1210v-16M1987 1100v-17M2079 1162v-26M2135 1192v-22M2121 1176v-9M2097 1168v-21M2012 1118v-13M2122 1188v-11M2050 1145v-22M2162 1202v-25M2065 1157v-13M2171 1219v-17M1995 1108v-18M2193 1219v-14M2047 1141v-28M1958 1085v-9M2079 1162v-25M2150 1195v-22M1955 1082v-22M2125 1184v-27M2073 1152v-12M2069 1147v-18M1991 1110v-33M2165 1214v-13M2174 1206v-12M2019 1127v-35M2005 1116v-15M2152 1193v-31M2033 1127v-31M2142 1200v-23M2072 1154v-30M2086 1159v-17M2063 1154v-21M2170 1205v-16M2075 1149v-14M1945 1085v-11M1990 1113v-14M2132 1192v-17M1971 1092v-24M2056 1142v-22M1953 1089v-21M2214 1234v-22M2199 1234v-21M2208 1234v-18M2109 1171v-15M2080 1164v-23M2035 1141v-10M1997 1109v-35M2076 1155v-31M2005 1121v-9M2103 1180v-23M2017 1118v-25M2013 1128v-20M1970 1100v-27M2137 1185v-13M2075 1163v-9M2067 1149v-17M2073 1152v-15M2102 1165v-16M2019 1120v-18M2024 1125v-19M2004 1123v-10M2024 1131v-19M2033 1129v-18M2045 1144v-29M1985 1108v-13M2096 1175v-23M2189 1220v-14M2097 1167v-19M2020 1120v-22M1981 1098v-11M2140 1189v-13M2181 1218v-21M2036 1134v-20M2050 1136v-13M2139 1193v-29M2004 1119v-18M2021 1129v-15M2008 1117v-15M1962 1099v-17M2051 1137v-12M2002 1108v-19M2119 1188v-15M2164 1212v-9M2004 1111v-21M2157 1197v-13M1989 1109v-20M2201 1235v-16M2021 1125v-17M2169 1206v-31M2109 1175v-27M2038 1140v-33M2185 1228v-18M2154 1208v-15M2065 1157v-26M2026 1133v-10M2053 1145v-14M1948 1084v-24M2133 1185v-10M1958 1090v-9M2002 1115v-16M2140 1188v-21M2066 1147v-28M2196 1234v-12M1950 1088v-21M2045 1136v-26M2097 1171v-20M2085 1167v-21M2156 1195v-21M2195 1226v-27M2086 1170v-10M2028 1124v-27M2218 1234v-14M2012 1122v-18M2012 1125v-15M2085 1160v-21M1962 1084v-25M2027 1127v-24M2037 1128v-22M2054 1147v-13M1985 1100v-29M2092 1169v-19M2101 1174v-13M1997 1111v-22M2004 1120v-29M2154 1196v-10M2172 1208v-8M2104 1176v-31M2141 1196v-14M2204 1227v-17M1976 1100v-18M2090 1163v-9M2127 1179v-19M2111 1183v-26M2158 1201v-26M2106 1176v-14M2176 1217v-17M2111 1182v-23M1994 1117v-14M2062 1153v-25M2043 1135v-20M2079 1158v-16M1943 1087v-13M2196 1228v-10M1997 1109v-13M1971 1101v-17M1988 1106v-18M2177 1214v-11M1955 1089v-21M2223 1238v-9M2089 1168v-12M2026 1123v-29M2107 1172v-18M2023 1119v-31M2160 1203v-13M2205 1228v-22M2201 1226v-21M2027 1136v-10M1991 1111v-13M2067 1157v-12M2006 1119v-11M2074 1152v-25M2132 1182v-20M2207 1229v-19M2025 1134v-30M2142 1194v-13M1991 1115v-24M2135 1198v-16M1969 1095v-35M2105 1179v-21M2059 1147v-15M2047 1148v-34M2112 1181v-15M2117 1188v-9M2219 1234v-9M1954 1085v-25M2006 1124v-29M1980 1106v-11M2148 1192v-30M2039 1139v-9M2085 1161v-12M2056 1153v-9M2213 1233v-27M2169 1212v-25M2214 1236v-23M2081 1157v-28M1978 1108v-20M1989 1113v-9M2137 1200v-29M2196 1230v-27M2189 1230v-18M1996 1109v-11M2196 1225v-32M1977 1099v-25M2045 1143v-14M1949 1090v-16M2032 1136v-10M2030 1130v-22M2108 1175v-26M2204 1229v-12M2099 1165v-13M2128 1186v-11M1940 1086v-21M2120 1184v-18M2205 1240v-28M2122 1186v-27M2010 1119v-23M2034 1134v-24M2201 1228v-19M2104 1165v-9M1949 1090v-22M2158 1200v-23M1987 1106v-16M2138 1187v-34M2101 1180v-9M2141 1200v-22M2013 1118v-29M2144 1190v-23M2024 1132v-10M2146 1196v-10M2011 1125v-22M2218 1232v-20M2120 1181v-9M2143 1196v-13M2099 1164v-34M2176 1218v-32M1995 1110v-22M2192 1227v-10M2081 1161v-21M2029 1125v-16M2007 1125v-12M1996 1119v-12M1957 1087v-20M2122 1190v-27M1946 1087v-14M2109 1182v-11M2089 1172v-18M2118 1186v-15M1973 1101v-9M2201 1229v-20M1985 1105v-14M2131 1182v-14M2091 1170v-26M1947 1090v-14M2114 1187v-22M2048 1137v-17M2089 1159v-25M2182 1213v-19M2098 1165v-21M1980 1106v-9M2194 1222v-27M2126 1189v-19M2021 1125v-24M2143 1194v-13M2124 1178v-16M2054 1147v-16M1959 1093v-14M1972 1090v-34M2089 1159v-10M2100 1170v-9M2095 1168v-24M1983 1095v-25M1946 1083v-14M2184 1220v-12M1981 1108v-14M2112 1175v-12M2045 1141v-14M2040 1134v-32M2211 1239v-25M2047 1144v-26M2221 1237v-8M2084 1165v-13M2218 1234v-22M2173 1221v-19M2152 1195v-15M1979 1106v-16M1955 1095v-22M2175 1221v-19M2064 1153v-22M2003 1107v-19M2195 1229v-21M2179 1214v-16M2157 1210v-23M2090 1167v-15M2069 1146v-21M2169 1209v-26M2145 1200v-13M2067 1154v-26M1957 1082v-13M2169 1205v-23M2026 1132v-17M2021 1126v-23M2183 1219v-28M2197 1230v-22M2163 1201v-17M2018 1124v-10M2024 1128v-21M2209 1242v-21M2170 1210v-11M2028 1132v-21M1981 1098v-27M2205 1231v-21M2189 1226v-24M2091 1171v-14M1956 1093v-23M1967 1102v-20M2078 1151v-10M2165 1212v-16M2094 1165v-27M2221 1234v-14M2156 1206v-27M1985 1103v-21M1951 1086v-13M2080 1164v-10M2200 1233v-13M1969 1099v-20M2220 1240v-17M2044 1133v-19M2006 1117v-15M2140 1200v-19M2030 1124v-22M2049 1150v-11M2110 1183v-17M2058 1143v-8M2212 1234v-31M1942 1086v-17M2177 1213v-14M2074 1155v-17" stroke="#ecc9a0" stroke-width="1.5" stroke-opacity="0.75" fill="none"/>
<use href="#tb" transform="translate(3153 1183) scale(0.96)"/>
<use href="#tf" transform="translate(1101 1184) scale(1.44)"/>
<use href="#to" transform="translate(2157 1185) scale(0.70)"/>
<use href="#tf" transform="translate(1080 1186) scale(1.22)"/>
<use href="#tf" transform="translate(1100 1188) scale(0.94)"/>
<use href="#tf" transform="translate(1128 1188) scale(1.24)"/>
<use href="#ts" transform="translate(3106 1190) scale(1.04)"/>
<g class="h"><path d="M2403 1151L2417 1143L2429 1144L2415 1152ZM2426 1164L2440 1156L2429 1144L2415 1152ZM2403 1161L2426 1175L2426 1164L2415 1152L2403 1151Z"/><path class="g" d="M2426 1175L2440 1167L2440 1156L2426 1164Z"/></g>
<use href="#ts" transform="translate(2693 1191) scale(0.87)"/>
<use href="#tb" transform="translate(2811 1191) scale(1.20)"/>
<use href="#tg" transform="translate(2227 1191) scale(0.70)"/>
<g class="h"><path d="M1146 1157L1160 1148L1172 1150L1157 1159ZM1169 1170L1183 1162L1172 1150L1157 1159ZM1146 1168L1169 1181L1169 1170L1157 1159L1146 1157Z"/><path class="g" d="M1169 1181L1183 1172L1183 1162L1169 1170Z"/></g>
<use href="#tf" transform="translate(1134 1193) scale(1.05)"/>
<use href="#ts" transform="translate(2779 1193) scale(1.04)"/>
<use href="#tf" transform="translate(1151 1196) scale(0.91)"/>
<use href="#tf" transform="translate(1047 1196) scale(1.15)"/>
<g class="h"><path d="M2385 1159L2399 1151L2411 1153L2397 1161ZM2408 1172L2422 1164L2411 1153L2397 1161ZM2385 1170L2408 1183L2408 1172L2397 1161L2385 1159Z"/><path class="g" d="M2408 1183L2422 1175L2422 1164L2408 1172Z"/></g>
<use href="#ts" transform="translate(2733 1199) scale(0.90)"/>
<g class="h t"><path d="M2224 1168L2232 1162L2240 1163L2230 1168ZM2238 1176L2246 1171L2240 1163L2230 1168ZM2224 1174L2238 1182L2238 1176L2230 1168L2224 1168Z"/><path class="g" d="M2238 1182L2246 1177L2246 1171L2238 1176Z"/></g>
<use href="#tf" transform="translate(1084 1200) scale(0.95)"/>
<g class="h t"><path d="M2102 1169L2110 1164L2118 1164L2108 1169ZM2116 1177L2124 1172L2118 1164L2108 1169ZM2102 1175L2116 1183L2116 1177L2108 1169L2102 1169Z"/><path class="g" d="M2116 1183L2124 1178L2124 1172L2116 1177Z"/></g>
<use href="#tf" transform="translate(1156 1201) scale(1.25)"/>
<use href="#td" transform="translate(3104 1201) scale(1.08)"/>
<use href="#tb" transform="translate(2727 1201) scale(1.04)"/>
<g class="h t"><path d="M2180 1170L2188 1165L2196 1165L2186 1170ZM2194 1178L2202 1173L2196 1165L2186 1170ZM2180 1176L2194 1184L2194 1178L2186 1170L2180 1170Z"/><path class="g" d="M2194 1184L2202 1179L2202 1173L2194 1178Z"/></g>
<g class="h t"><path d="M2258 1171L2266 1166L2274 1166L2264 1172ZM2272 1179L2280 1174L2274 1166L2264 1172ZM2258 1177L2272 1185L2272 1179L2264 1172L2258 1171Z"/><path class="g" d="M2272 1185L2280 1180L2280 1174L2272 1179Z"/></g>
<use href="#tf" transform="translate(1144 1203) scale(0.98)"/>
<use href="#tf" transform="translate(1038 1205) scale(1.48)"/>
<use href="#tf" x="1026" y="1207"/>
<g class="h"><path d="M1825 1168L1840 1160L1852 1161L1837 1170ZM1848 1182L1863 1173L1852 1161L1837 1170ZM1825 1179L1848 1192L1848 1182L1837 1170L1825 1168Z"/><path class="g" d="M1848 1192L1863 1184L1863 1173L1848 1182Z"/></g>
<g class="h"><path d="M2244 1168L2259 1160L2270 1161L2256 1170ZM2267 1181L2282 1173L2270 1161L2256 1170ZM2244 1179L2267 1192L2267 1181L2256 1170L2244 1168Z"/><path class="g" d="M2267 1192L2282 1184L2282 1173L2267 1181Z"/></g>
<g class="h"><path d="M2367 1168L2381 1160L2393 1162L2379 1170ZM2390 1181L2404 1173L2393 1162L2379 1170ZM2367 1179L2390 1192L2390 1181L2379 1170L2367 1168Z"/><path class="g" d="M2390 1192L2404 1184L2404 1173L2390 1181Z"/></g>
<g class="h t"><path d="M2126 1177L2136 1172L2142 1173L2134 1178ZM2140 1186L2150 1180L2142 1173L2134 1178ZM2126 1183L2140 1192L2140 1186L2134 1178L2126 1177Z"/><path class="g" d="M2140 1192L2150 1186L2150 1180L2140 1186Z"/></g>
<g class="h t"><path d="M2204 1179L2214 1173L2220 1174L2212 1179ZM2218 1187L2228 1181L2220 1174L2212 1179ZM2204 1185L2218 1193L2218 1187L2212 1179L2204 1179Z"/><path class="g" d="M2218 1193L2228 1187L2228 1181L2218 1187Z"/></g>
<use href="#td" transform="translate(2950 1210) scale(0.86)"/>
<use href="#td" transform="translate(2623 1211) scale(0.77)"/>
<g class="h t"><path d="M2082 1180L2092 1175L2098 1175L2090 1180ZM2096 1188L2106 1183L2098 1175L2090 1180ZM2082 1186L2096 1194L2096 1188L2090 1180L2082 1180Z"/><path class="g" d="M2096 1194L2106 1189L2106 1183L2096 1188Z"/></g>
<use href="#tf" transform="translate(1103 1212) scale(1.45)"/>
<use href="#tg" transform="translate(2023 1213) scale(0.70)"/>
<use href="#tb" transform="translate(2099 1213) scale(0.60)"/>
<g class="h t"><path d="M2238 1182L2248 1177L2254 1177L2246 1183ZM2252 1190L2262 1185L2254 1177L2246 1183ZM2238 1188L2252 1196L2252 1190L2246 1183L2238 1182Z"/><path class="g" d="M2252 1196L2262 1191L2262 1185L2252 1190Z"/></g>
<use href="#tf" transform="translate(1046 1218) scale(1.02)"/>
<use href="#td" transform="translate(3239 1218) scale(0.77)"/>
<g class="h t"><path d="M2108 1188L2116 1183L2124 1184L2114 1189ZM2122 1197L2130 1191L2124 1184L2114 1189ZM2108 1194L2122 1203L2122 1197L2114 1189L2108 1188Z"/><path class="g" d="M2122 1203L2130 1197L2130 1191L2122 1197Z"/></g>
<use href="#tb" transform="translate(2177 1220) scale(0.60)"/>
<use href="#tf" transform="translate(1191 1220) scale(1.13)"/>
<use href="#tf" transform="translate(1101 1221) scale(1.29)"/>
<use href="#tg" x="1526" y="1222"/>
<g class="h t"><path d="M2064 1191L2072 1186L2080 1186L2070 1191ZM2078 1199L2086 1194L2080 1186L2070 1191ZM2064 1197L2078 1205L2078 1199L2070 1191L2064 1191Z"/><path class="g" d="M2078 1205L2086 1200L2086 1194L2078 1199Z"/></g>
<g class="h t"><path d="M2264 1191L2272 1186L2280 1186L2270 1191ZM2278 1199L2286 1194L2280 1186L2270 1191ZM2264 1197L2278 1205L2278 1199L2270 1191L2264 1191Z"/><path class="g" d="M2278 1205L2286 1200L2286 1194L2278 1199Z"/></g>
<use href="#tf" transform="translate(1171 1222) scale(1.12)"/>
<use href="#tf" transform="translate(1205 1223) scale(1.32)"/>
<use href="#tf" transform="translate(1075 1223) scale(0.94)"/>
<g class="h t"><path d="M2142 1192L2150 1187L2158 1187L2148 1192ZM2156 1200L2164 1195L2158 1187L2148 1192ZM2142 1198L2156 1206L2156 1200L2148 1192L2142 1192Z"/><path class="g" d="M2156 1206L2164 1201L2164 1195L2156 1200Z"/></g>
<use href="#ts" transform="translate(2622 1223) scale(0.96)"/>
<use href="#tb" transform="translate(2788 1224) scale(1.13)"/>
<use href="#tf" transform="translate(1073 1224) scale(1.09)"/>
<g class="h t"><path d="M2220 1193L2228 1188L2236 1188L2226 1194ZM2234 1201L2242 1196L2236 1188L2226 1194ZM2220 1199L2234 1207L2234 1201L2226 1194L2220 1193Z"/><path class="g" d="M2234 1207L2242 1202L2242 1196L2234 1201Z"/></g>
<g class="h"><path d="M1927 1186L1941 1178L1952 1179L1938 1187ZM1948 1198L1962 1190L1952 1179L1938 1187ZM1927 1196L1948 1209L1948 1198L1938 1187L1927 1186Z"/><path class="g" d="M1948 1209L1962 1201L1962 1190L1948 1198Z"/></g>
<use href="#tf" transform="translate(1183 1226) scale(1.49)"/>
<use href="#td" transform="translate(2854 1226) scale(1.15)"/>
<g class="h"><path d="M2333 1186L2347 1178L2358 1180L2345 1188ZM2356 1199L2370 1191L2358 1180L2345 1188ZM2333 1197L2356 1210L2356 1199L2345 1188L2333 1186Z"/><path class="g" d="M2356 1210L2370 1202L2370 1191L2356 1199Z"/></g>
<use href="#td" transform="translate(3174 1226) scale(0.94)"/>
<g class="h"><path d="M2418 1211L2443 1225L2443 1203L2418 1189ZM2418 1189L2482 1152L2507 1166L2443 1203Z"/><path class="g" d="M2443 1225L2507 1188L2507 1166L2443 1203Z"/></g>
<use href="#td" transform="translate(3009 1227) scale(0.74)"/>
<path d="M3185 1162v-10M3194 1163v-21M3165 1163v-18M3194 1165v-20M3204 1175v-18M3162 1157v-12M3157 1166v-16M3156 1171v-13M3209 1166v-17M3207 1174v-11M3210 1168v-15M3186 1164v-18M3186 1161v-12M3195 1176v-9M3195 1175v-8M3184 1174v-15M3207 1174v-11M3204 1170v-10M3182 1159v-24M3155 1169v-12M3160 1166v-15M3188 1164v-14M3177 1173v-14M3205 1171v-13M3164 1164v-18M3159 1161v-17M3169 1173v-17M3201 1164v-23M3179 1160v-13M3168 1164v-19M3181 1162v-24M3176 1167v-18M3173 1161v-10M3196 1162v-20M3158 1169v-22M3195 1177v-14M3195 1170v-8M3186 1170v-15M3175 1159v-9M3170 1157v-8M3174 1166v-22M3162 1171v-20M3185 1160v-15M3161 1157v-20M3173 1172v-15M3192 1174v-15M3178 1169v-10M3170 1158v-24M3194 1163v-27M3167 1159v-13M3199 1171v-29M3196 1174v-24M3198 1170v-21M3198 1169v-18M3185 1165v-23M3202 1172v-9M3179 1165v-22M3175 1162v-9M3160 1161v-13M3191 1160v-28M3205 1165v-16M3200 1163v-11M3169 1165v-24M3202 1167v-8" stroke="#c5c8b0" stroke-width="1.5" stroke-opacity="0.75" fill="none"/>
<use href="#to" x="1045" y="1228"/>
<use href="#tf" transform="translate(1229 1228) scale(1.03)"/>
<g transform="translate(1282.2 1226.7)" fill="#fff"><polygon points="-4.5,0 4.5,0 2.2,-129 -2.2,-129"/><polygon points="-1.7,-127.8 -4.6,-143.0 -27.0,-167.5 -9.6,-139.5"/><polygon points="-0.2,-131.1 16.5,-126.2 53.8,-133.7 16.0,-132.3"/><polygon points="2.0,-128.5 -7.9,-115.6 -12.9,-80.7 -2.1,-114.0"/></g>
<use href="#ts" transform="translate(3227 1229) scale(1.06)"/>
<use href="#tf" transform="translate(1094 1229) scale(1.10)"/>
<g class="h t"><path d="M2088 1199L2098 1194L2104 1195L2096 1200ZM2102 1207L2112 1202L2104 1195L2096 1200ZM2088 1205L2102 1213L2102 1207L2096 1200L2088 1199Z"/><path class="g" d="M2102 1213L2112 1208L2112 1202L2102 1207Z"/></g>
<use href="#tf" transform="translate(1201 1231) scale(1.03)"/>
<use href="#to" transform="translate(2077 1232) scale(0.80)"/>
<g class="h t"><path d="M2166 1201L2176 1195L2182 1196L2174 1201ZM2180 1209L2190 1203L2182 1196L2174 1201ZM2166 1207L2180 1215L2180 1209L2174 1201L2166 1201Z"/><path class="g" d="M2180 1215L2190 1209L2190 1203L2180 1209Z"/></g>
<g class="h t"><path d="M2044 1202L2054 1197L2060 1197L2052 1202ZM2058 1210L2068 1205L2060 1197L2052 1202ZM2044 1208L2058 1216L2058 1210L2052 1202L2044 1202Z"/><path class="g" d="M2058 1216L2068 1211L2068 1205L2058 1210Z"/></g>
<g class="h t"><path d="M2244 1202L2254 1197L2260 1197L2252 1202ZM2258 1210L2268 1205L2260 1197L2252 1202ZM2244 1208L2258 1216L2258 1210L2252 1202L2244 1202Z"/><path class="g" d="M2258 1216L2268 1211L2268 1205L2258 1210Z"/></g>
<use href="#tf" transform="translate(1107 1235) scale(1.02)"/>
<g class="h"><path d="M2349 1195L2363 1187L2374 1189L2360 1197ZM2372 1208L2386 1200L2374 1189L2360 1197ZM2349 1206L2372 1219L2372 1208L2360 1197L2349 1195Z"/><path class="g" d="M2372 1219L2386 1211L2386 1200L2372 1208Z"/></g>
<use href="#tf" transform="translate(1093 1235) scale(1.04)"/>
<use href="#td" transform="translate(3106 1235) scale(0.84)"/>
<use href="#ts" x="2803" y="1235"/>
<g class="h t"><path d="M2200 1204L2210 1199L2216 1199L2208 1205ZM2214 1212L2224 1207L2216 1199L2208 1205ZM2200 1210L2214 1218L2214 1212L2208 1205L2200 1204Z"/><path class="g" d="M2214 1218L2224 1213L2224 1207L2214 1212Z"/></g>
<g class="h"><path d="M2498 1196L2511 1189L2521 1190L2508 1198ZM2519 1209L2532 1201L2521 1190L2508 1198ZM2498 1207L2519 1219L2519 1209L2508 1198L2498 1196Z"/><path class="g" d="M2519 1219L2532 1212L2532 1201L2519 1209Z"/></g>
<use href="#ts" transform="translate(3045 1236) scale(0.94)"/>
<use href="#ts" transform="translate(2915 1236) scale(1.11)"/>
<g class="h t"><path d="M2278 1205L2288 1200L2294 1201L2286 1206ZM2292 1213L2302 1208L2294 1201L2286 1206ZM2278 1211L2292 1219L2292 1213L2286 1206L2278 1205Z"/><path class="g" d="M2292 1219L2302 1214L2302 1208L2292 1213Z"/></g>
<use href="#ts" transform="translate(2939 1237) scale(0.97)"/>
<use href="#ts" transform="translate(2899 1239) scale(0.99)"/>
<g class="h"><path d="M1864 1203L1877 1195L1887 1196L1874 1204ZM1884 1214L1897 1207L1887 1196L1874 1204ZM1864 1213L1884 1225L1884 1214L1874 1204L1864 1203Z"/><path class="g" d="M1884 1225L1897 1217L1897 1207L1884 1214Z"/></g>
<use href="#tf" transform="translate(1197 1241) scale(1.23)"/>
<use href="#tf" transform="translate(1243 1242) scale(1.45)"/>
<g class="h t"><path d="M2070 1210L2078 1205L2086 1206L2076 1211ZM2084 1218L2092 1213L2086 1206L2076 1211ZM2070 1216L2084 1224L2084 1218L2076 1211L2070 1210Z"/><path class="g" d="M2084 1224L2092 1219L2092 1213L2084 1218Z"/></g>
<use href="#tg" x="1304" y="1243"/>
<use href="#to" transform="translate(2297 1243) scale(0.70)"/>
<g class="h"><path d="M2482 1205L2495 1197L2506 1198L2492 1206ZM2503 1217L2516 1209L2506 1198L2492 1206ZM2482 1215L2503 1227L2503 1217L2492 1206L2482 1205Z"/><path class="g" d="M2503 1227L2516 1220L2516 1209L2503 1217Z"/></g>
<g class="h t"><path d="M2226 1213L2234 1207L2242 1208L2232 1213ZM2240 1221L2248 1216L2242 1208L2232 1213ZM2226 1219L2240 1227L2240 1221L2232 1213L2226 1213Z"/><path class="g" d="M2240 1227L2248 1222L2248 1216L2240 1221Z"/></g>
<use href="#ts" transform="translate(2765 1244) scale(1.04)"/>
<g class="h t"><path d="M2104 1214L2112 1209L2120 1209L2110 1214ZM2118 1222L2126 1217L2120 1209L2110 1214ZM2104 1220L2118 1228L2118 1222L2110 1214L2104 1214Z"/><path class="g" d="M2118 1228L2126 1223L2126 1217L2118 1222Z"/></g>
<g class="h t"><path d="M2304 1214L2312 1209L2320 1209L2310 1214ZM2318 1222L2326 1217L2320 1209L2310 1214ZM2304 1220L2318 1228L2318 1222L2310 1214L2304 1214Z"/><path class="g" d="M2318 1228L2326 1223L2326 1217L2318 1222Z"/></g>
<use href="#ts" transform="translate(2995 1245) scale(0.96)"/>
<use href="#tf" transform="translate(1251 1246) scale(1.27)"/>
<use href="#to" x="1574" y="1246"/>
<use href="#tf" transform="translate(1124 1246) scale(1.08)"/>
<use href="#td" transform="translate(2903 1246) scale(0.82)"/>
<g class="h t"><path d="M2182 1215L2190 1210L2198 1210L2188 1216ZM2196 1223L2204 1218L2198 1210L2188 1216ZM2182 1221L2196 1229L2196 1223L2188 1216L2182 1215Z"/><path class="g" d="M2196 1229L2204 1224L2204 1218L2196 1223Z"/></g>
<use href="#tf" transform="translate(1203 1247) scale(1.23)"/>
<use href="#tb" transform="translate(2690 1247) scale(1.01)"/>
<use href="#ts" transform="translate(2815 1248) scale(1.10)"/>
<g class="h t"><path d="M2338 1217L2346 1212L2354 1213L2344 1218ZM2352 1225L2360 1220L2354 1213L2344 1218ZM2338 1223L2352 1231L2352 1225L2344 1218L2338 1217Z"/><path class="g" d="M2352 1231L2360 1226L2360 1220L2352 1225Z"/></g>
<g class="h"><path d="M1880 1212L1893 1204L1903 1205L1890 1213ZM1900 1223L1913 1216L1903 1205L1890 1213ZM1880 1223L1900 1234L1900 1223L1890 1213L1880 1212Z"/><path class="g" d="M1900 1234L1913 1226L1913 1216L1900 1223Z"/></g>
<use href="#tf" transform="translate(1135 1249) scale(1.36)"/>
<use href="#tf" transform="translate(1186 1250) scale(0.92)"/>
<use href="#to" transform="translate(2222 1252) scale(0.80)"/>
<g class="h"><path d="M2464 1214L2477 1206L2487 1207L2474 1215ZM2485 1226L2498 1218L2487 1207L2474 1215ZM2464 1224L2485 1237L2485 1226L2474 1215L2464 1214Z"/><path class="g" d="M2485 1237L2498 1229L2498 1218L2485 1226Z"/></g>
<g class="h t"><path d="M2050 1221L2060 1216L2066 1217L2058 1222ZM2064 1229L2074 1224L2066 1217L2058 1222ZM2050 1227L2064 1235L2064 1229L2058 1222L2050 1221Z"/><path class="g" d="M2064 1235L2074 1230L2074 1224L2064 1229Z"/></g>
<use href="#tb" transform="translate(2144 1253) scale(0.60)"/>
<g class="h t"><path d="M2128 1222L2138 1217L2144 1218L2136 1223ZM2142 1231L2152 1225L2144 1218L2136 1223ZM2128 1228L2142 1237L2142 1231L2136 1223L2128 1222Z"/><path class="g" d="M2142 1237L2152 1231L2152 1225L2142 1231Z"/></g>
<use href="#tf" transform="translate(1205 1254) scale(1.49)"/>
<use href="#tf" transform="translate(1225 1255) scale(1.09)"/>
<g class="h t"><path d="M2206 1224L2216 1218L2222 1219L2214 1224ZM2220 1232L2230 1227L2222 1219L2214 1224ZM2206 1230L2220 1238L2220 1232L2214 1224L2206 1224Z"/><path class="g" d="M2220 1238L2230 1233L2230 1227L2220 1232Z"/></g>
<g class="h t"><path d="M2084 1225L2094 1220L2100 1220L2092 1225ZM2098 1233L2108 1228L2100 1220L2092 1225ZM2084 1231L2098 1239L2098 1233L2092 1225L2084 1225Z"/><path class="g" d="M2098 1239L2108 1234L2108 1228L2098 1233Z"/></g>
<g class="h"><path d="M2224 1218L2238 1210L2250 1211L2235 1220ZM2247 1231L2261 1223L2250 1211L2235 1220ZM2224 1229L2247 1242L2247 1231L2235 1220L2224 1218Z"/><path class="g" d="M2247 1242L2261 1234L2261 1223L2247 1231Z"/></g>
<use href="#tg" x="2290" y="1258"/>
<use href="#tg" transform="translate(1336 1258) scale(0.50)"/>
<use href="#tg" x="1599" y="1258"/>
<g class="h t"><path d="M2240 1227L2250 1222L2256 1222L2248 1228ZM2254 1235L2264 1230L2256 1222L2248 1228ZM2240 1233L2254 1241L2254 1235L2248 1228L2240 1227Z"/><path class="g" d="M2254 1241L2264 1236L2264 1230L2254 1235Z"/></g>
<use href="#tf" transform="translate(1283 1260) scale(0.99)"/>
<g class="h t"><path d="M2318 1228L2328 1223L2334 1224L2326 1229ZM2332 1236L2342 1231L2334 1224L2326 1229ZM2318 1234L2332 1242L2332 1236L2326 1229L2318 1228Z"/><path class="g" d="M2332 1242L2342 1237L2342 1231L2332 1236Z"/></g>
<use href="#tf" transform="translate(1116 1261) scale(1.06)"/>
<use href="#tf" transform="translate(1159 1262) scale(1.12)"/>
<use href="#ts" transform="translate(2766 1262) scale(1.02)"/>
<use href="#tg" transform="translate(2083 1264) scale(0.80)"/>
<use href="#ts" transform="translate(3060 1265) scale(0.87)"/>
<use href="#td" transform="translate(2840 1265) scale(0.77)"/>
<use href="#tf" transform="translate(1189 1265) scale(0.96)"/>
<use href="#tf" transform="translate(1224 1265) scale(1.08)"/>
<use href="#tf" transform="translate(1190 1265) scale(1.47)"/>
<g class="h t"><path d="M2188 1235L2196 1229L2204 1230L2194 1235ZM2202 1243L2210 1238L2204 1230L2194 1235ZM2188 1241L2202 1249L2202 1243L2194 1235L2188 1235Z"/><path class="g" d="M2202 1249L2210 1244L2210 1238L2202 1243Z"/></g>
<g class="h t"><path d="M2066 1236L2074 1231L2082 1231L2072 1236ZM2080 1244L2088 1239L2082 1231L2072 1236ZM2066 1242L2080 1250L2080 1244L2072 1236L2066 1236Z"/><path class="g" d="M2080 1250L2088 1245L2088 1239L2080 1244Z"/></g>
<g class="h t"><path d="M2266 1236L2274 1231L2282 1231L2272 1236ZM2280 1244L2288 1239L2282 1231L2272 1236ZM2266 1242L2280 1250L2280 1244L2272 1236L2266 1236Z"/><path class="g" d="M2280 1250L2288 1245L2288 1239L2280 1244Z"/></g>
<use href="#tg" x="1995" y="1268"/>
<g class="h t"><path d="M2144 1237L2152 1232L2160 1232L2150 1237ZM2158 1245L2166 1240L2160 1232L2150 1237ZM2144 1243L2158 1251L2158 1245L2150 1237L2144 1237Z"/><path class="g" d="M2158 1251L2166 1246L2166 1240L2158 1245Z"/></g>
<g class="h"><path d="M2386 1230L2400 1222L2411 1223L2397 1231ZM2407 1242L2421 1234L2411 1223L2397 1231ZM2386 1240L2407 1253L2407 1242L2397 1231L2386 1230Z"/><path class="g" d="M2407 1253L2421 1245L2421 1234L2407 1242Z"/></g>
<use href="#tb" transform="translate(2943 1269) scale(0.96)"/>
<use href="#tf" transform="translate(1143 1269) scale(1.06)"/>
<g class="h t"><path d="M2222 1238L2230 1233L2238 1233L2228 1239ZM2236 1246L2244 1241L2238 1233L2228 1239ZM2222 1244L2236 1252L2236 1246L2228 1239L2222 1238Z"/><path class="g" d="M2236 1252L2244 1247L2244 1241L2236 1246Z"/></g>
<use href="#tf" transform="translate(1255 1271) scale(1.27)"/>
<use href="#ts" transform="translate(3163 1272) scale(0.82)"/>
<use href="#tb" transform="translate(2227 1272) scale(0.60)"/>
<use href="#tf" transform="translate(1150 1273) scale(0.92)"/>
<use href="#tf" transform="translate(1184 1274) scale(1.12)"/>
<use href="#ts" transform="translate(2842 1274) scale(1.18)"/>
<g class="h"><path d="M2402 1236L2416 1228L2427 1229L2413 1237ZM2423 1248L2437 1240L2427 1229L2413 1237ZM2402 1246L2423 1259L2423 1248L2413 1237L2402 1236Z"/><path class="g" d="M2423 1259L2437 1251L2437 1240L2423 1248Z"/></g>
<use href="#ts" transform="translate(2943 1275) scale(1.11)"/>
<use href="#tf" transform="translate(1255 1275) scale(1.46)"/>
<g class="h t"><path d="M2090 1244L2100 1239L2106 1240L2098 1245ZM2104 1253L2114 1247L2106 1240L2098 1245ZM2090 1250L2104 1259L2104 1253L2098 1245L2090 1244Z"/><path class="g" d="M2104 1259L2114 1253L2114 1247L2104 1253Z"/></g>
<use href="#ts" x="3024" y="1276"/>
<use href="#tf" transform="translate(1224 1277) scale(0.95)"/>
<g class="h t"><path d="M2168 1246L2178 1240L2184 1241L2176 1246ZM2182 1254L2192 1248L2184 1241L2176 1246ZM2168 1252L2182 1260L2182 1254L2176 1246L2168 1246Z"/><path class="g" d="M2182 1260L2192 1254L2192 1248L2182 1254Z"/></g>
<use href="#tf" transform="translate(1205 1278) scale(1.25)"/>
<g class="h"><path d="M2490 1263L2513 1276L2513 1254L2490 1241ZM2490 1241L2553 1205L2576 1218L2513 1254Z"/><path class="g" d="M2513 1276L2576 1240L2576 1218L2513 1254Z"/></g>
<use href="#ts" transform="translate(2755 1278) scale(1.16)"/>
<use href="#tf" transform="translate(1247 1279) scale(1.43)"/>
<use href="#td" transform="translate(3144 1279) scale(0.91)"/>
<use href="#tf" transform="translate(1304 1280) scale(0.99)"/>
<g class="h t"><path d="M2202 1249L2212 1244L2218 1244L2210 1250ZM2216 1257L2226 1252L2218 1244L2210 1250ZM2202 1255L2216 1263L2216 1257L2210 1250L2202 1249Z"/><path class="g" d="M2216 1263L2226 1258L2226 1252L2216 1257Z"/></g>
<use href="#td" transform="translate(3019 1282) scale(1.06)"/>
<g class="h t"><path d="M2280 1250L2290 1245L2296 1246L2288 1251ZM2294 1258L2304 1253L2296 1246L2288 1251ZM2280 1256L2294 1264L2294 1258L2288 1251L2280 1250Z"/><path class="g" d="M2294 1264L2304 1259L2304 1253L2294 1258Z"/></g>
<use href="#tf" transform="translate(1170 1283) scale(1.35)"/>
<use href="#tg" transform="translate(2147 1284) scale(0.70)"/>
<use href="#tf" transform="translate(1243 1284) scale(1.21)"/>
<use href="#td" transform="translate(2765 1285) scale(0.91)"/>
<use href="#ts" transform="translate(2894 1287) scale(1.05)"/>
<use href="#tg" x="1372" y="1288"/>
<use href="#tf" transform="translate(1267 1288) scale(1.17)"/>
<g class="h t"><path d="M2228 1258L2236 1253L2244 1253L2234 1258ZM2242 1266L2250 1261L2244 1253L2234 1258ZM2228 1264L2242 1272L2242 1266L2234 1258L2228 1258Z"/><path class="g" d="M2242 1272L2250 1267L2250 1261L2242 1266Z"/></g>
<use href="#tf" transform="translate(1203 1290) scale(1.25)"/>
<use href="#tf" transform="translate(1253 1290) scale(1.36)"/>
<use href="#to" x="2489" y="1290"/>
<g class="h t"><path d="M2106 1259L2114 1254L2122 1254L2112 1259ZM2120 1267L2128 1262L2122 1254L2112 1259ZM2106 1265L2120 1273L2120 1267L2112 1259L2106 1259Z"/><path class="g" d="M2120 1273L2128 1268L2128 1262L2120 1267Z"/></g>
<use href="#tf" transform="translate(1244 1290) scale(1.43)"/>
<use href="#ts" transform="translate(2877 1291) scale(0.95)"/>
<use href="#tf" transform="translate(1222 1291) scale(1.23)"/>
<g class="h t"><path d="M2184 1260L2192 1255L2200 1255L2190 1261ZM2198 1268L2206 1263L2200 1255L2190 1261ZM2184 1266L2198 1274L2198 1268L2190 1261L2184 1260Z"/><path class="g" d="M2198 1274L2206 1269L2206 1263L2198 1268Z"/></g>
<use href="#tf" x="1168" y="1292"/>
<use href="#ts" transform="translate(2795 1293) scale(0.86)"/>
<g transform="translate(1653.5 1292.5)" fill="#fff"><polygon points="-4.5,0 4.5,0 2.2,-129 -2.2,-129"/><polygon points="-1.6,-127.7 -5.6,-142.6 -29.6,-165.5 -10.3,-138.8"/><polygon points="-0.3,-131.1 16.7,-127.4 53.3,-137.4 15.7,-133.4"/><polygon points="2.1,-128.6 -7.0,-115.1 -9.5,-79.9 -1.0,-113.9"/></g>
<use href="#tf" transform="translate(1196 1295) scale(0.92)"/>
<use href="#ts" transform="translate(2742 1295) scale(0.88)"/>
<g class="h"><path d="M2427 1253L2443 1244L2457 1247L2441 1256ZM2455 1269L2471 1260L2457 1247L2441 1256ZM2427 1264L2455 1280L2455 1269L2441 1256L2427 1253Z"/><path class="g" d="M2455 1280L2471 1271L2471 1260L2455 1269Z"/></g>
<use href="#tf" transform="translate(1299 1296) scale(1.50)"/>
<use href="#tf" transform="translate(1242 1298) scale(1.47)"/>
<use href="#to" transform="translate(2202 1298) scale(0.80)"/>
<use href="#ts" transform="translate(3136 1298) scale(1.09)"/>
<use href="#tb" transform="translate(3090 1299) scale(1.11)"/>
<g class="h t"><path d="M2130 1268L2140 1262L2146 1263L2138 1268ZM2144 1276L2154 1270L2146 1263L2138 1268ZM2130 1274L2144 1282L2144 1276L2138 1268L2130 1268Z"/><path class="g" d="M2144 1282L2154 1276L2154 1270L2144 1276Z"/></g>
<use href="#ts" transform="translate(3016 1299) scale(0.93)"/>
<use href="#td" transform="translate(2971 1300) scale(0.98)"/>
<g class="h t"><path d="M2208 1269L2218 1263L2224 1264L2216 1269ZM2222 1277L2232 1272L2224 1264L2216 1269ZM2208 1275L2222 1283L2222 1277L2216 1269L2208 1269Z"/><path class="g" d="M2222 1283L2232 1278L2232 1272L2222 1277Z"/></g>
<use href="#tf" transform="translate(1325 1301) scale(1.05)"/>
<use href="#tg" x="2363" y="1302"/>
<g class="h t"><path d="M2164 1271L2174 1266L2180 1266L2172 1272ZM2178 1279L2188 1274L2180 1266L2172 1272ZM2164 1277L2178 1285L2178 1279L2172 1272L2164 1271Z"/><path class="g" d="M2178 1285L2188 1280L2188 1274L2178 1279Z"/></g>
<use href="#ts" transform="translate(3020 1303) scale(1.11)"/>
<use href="#tf" transform="translate(1194 1303) scale(0.92)"/>
<g class="h t"><path d="M2242 1272L2252 1267L2258 1267L2250 1273ZM2256 1280L2266 1275L2258 1267L2250 1273ZM2242 1278L2256 1286L2256 1280L2250 1273L2242 1272Z"/><path class="g" d="M2256 1286L2266 1281L2266 1275L2256 1280Z"/></g>
<use href="#to" x="1412" y="1304"/>
<use href="#tg" x="899" y="1306"/>
<use href="#tf" transform="translate(1340 1307) scale(1.04)"/>
<use href="#tf" transform="translate(1205 1308) scale(1.12)"/>
<use href="#tf" transform="translate(1281 1309) scale(1.38)"/>
<use href="#tf" transform="translate(1237 1309) scale(1.06)"/>
<use href="#to" x="1702" y="1309"/>
<use href="#tf" transform="translate(1284 1311) scale(0.94)"/>
<use href="#tf" transform="translate(1341 1311) scale(1.19)"/>
<g class="h t"><path d="M2190 1280L2198 1274L2206 1275L2196 1280ZM2204 1288L2212 1283L2206 1275L2196 1280ZM2190 1286L2204 1294L2204 1288L2196 1280L2190 1280Z"/><path class="g" d="M2204 1294L2212 1289L2212 1283L2204 1288Z"/></g>
<g class="h"><path d="M1998 1273L2012 1265L2022 1266L2008 1274ZM2019 1285L2033 1277L2022 1266L2008 1274ZM1998 1284L2019 1296L2019 1285L2008 1274L1998 1273Z"/><path class="g" d="M2019 1296L2033 1288L2033 1277L2019 1285Z"/></g>
<g class="h t"><path d="M2146 1282L2154 1277L2162 1277L2152 1283ZM2160 1290L2168 1285L2162 1277L2152 1283ZM2146 1288L2160 1296L2160 1290L2152 1283L2146 1282Z"/><path class="g" d="M2160 1296L2168 1291L2168 1285L2160 1290Z"/></g>
<use href="#ts" transform="translate(3104 1314) scale(1.01)"/>
<use href="#tf" transform="translate(1249 1317) scale(1.47)"/>
<use href="#to" x="2354" y="1317"/>
<use href="#to" x="2046" y="1318"/>
<use href="#tf" transform="translate(1335 1320) scale(1.24)"/>
<use href="#to" x="1699" y="1322"/>
<g class="h t"><path d="M2170 1291L2180 1285L2186 1286L2178 1291ZM2184 1299L2194 1294L2186 1286L2178 1291ZM2170 1297L2184 1305L2184 1299L2178 1291L2170 1291Z"/><path class="g" d="M2184 1305L2194 1300L2194 1294L2184 1299Z"/></g>
<use href="#tf" transform="translate(1304 1323) scale(1.23)"/>
<g class="h t"><path d="M2204 1294L2214 1289L2220 1289L2212 1295ZM2218 1302L2228 1297L2220 1289L2212 1295ZM2204 1300L2218 1308L2218 1302L2212 1295L2204 1294Z"/><path class="g" d="M2218 1308L2228 1303L2228 1297L2218 1302Z"/></g>
<use href="#td" transform="translate(2934 1330) scale(1.02)"/>
<g transform="translate(1450.2 1328.8)" fill="#fff"><polygon points="-4.5,0 4.5,0 2.2,-129 -2.2,-129"/><polygon points="-1.8,-127.9 -3.7,-143.2 -24.2,-169.3 -8.9,-140.1"/><polygon points="-0.0,-131.1 16.3,-125.1 54.0,-129.9 16.2,-131.2"/><polygon points="2.0,-128.3 -8.9,-116.2 -16.3,-81.7 -3.1,-114.2"/></g>
<use href="#tf" transform="translate(1247 1331) scale(1.45)"/>
<use href="#tg" x="1025" y="1332"/>
<use href="#td" transform="translate(2833 1332) scale(0.94)"/>
<use href="#td" transform="translate(3066 1332) scale(0.77)"/>
<use href="#tg" x="2092" y="1333"/>
<use href="#tg" x="941" y="1333"/>
<use href="#tf" transform="translate(1381 1335) scale(1.38)"/>
<g class="h t"><path d="M2186 1305L2194 1300L2202 1300L2192 1306ZM2200 1313L2208 1308L2202 1300L2192 1306ZM2186 1311L2200 1319L2200 1313L2192 1306L2186 1305Z"/><path class="g" d="M2200 1319L2208 1314L2208 1308L2200 1313Z"/></g>
<use href="#ts" transform="translate(2844 1339) scale(0.84)"/>
<g class="h"><path d="M2407 1302L2420 1294L2431 1296L2417 1304ZM2428 1315L2442 1307L2431 1296L2417 1304ZM2407 1313L2428 1325L2428 1315L2417 1304L2407 1302Z"/><path class="g" d="M2428 1325L2442 1317L2442 1307L2428 1315Z"/></g>
<path d="M1169 1313v-11M1206 1333v-29M1259 1352v-34M1068 1256v-20M1236 1342v-27M1275 1364v-30M1169 1314v-13M1166 1302v-9M1102 1264v-22M1199 1318v-31M1236 1346v-13M1169 1315v-21M1193 1328v-14M1304 1378v-29M1094 1262v-10M1300 1389v-30M1203 1321v-23M1307 1390v-8M1329 1406v-22M1060 1250v-18M1059 1244v-8M1072 1256v-23M1153 1294v-16M1121 1281v-15M1321 1387v-14M1234 1344v-10M1169 1305v-32M1123 1284v-20M1181 1307v-23M1091 1259v-36M1100 1276v-11M1072 1245v-22M1313 1386v-17M1151 1300v-15M1187 1321v-15M1093 1267v-27M1059 1244v-28M1222 1341v-37M1116 1276v-11M1309 1389v-22M1245 1348v-29M1133 1288v-22M1279 1367v-23M1208 1332v-9M1211 1325v-27M1282 1370v-21M1232 1345v-29M1292 1381v-15M1070 1255v-12M1253 1358v-24M1074 1254v-16M1157 1297v-22M1185 1318v-10M1212 1335v-10M1156 1297v-17M1073 1261v-18M1325 1389v-23M1312 1388v-19M1235 1343v-12M1313 1392v-23M1183 1320v-24M1139 1288v-14M1074 1252v-10M1247 1350v-18M1122 1277v-13M1307 1386v-24M1141 1299v-17M1102 1273v-8M1334 1406v-14M1172 1316v-31M1277 1371v-13M1240 1349v-13M1073 1254v-35M1148 1298v-11M1299 1388v-16M1256 1362v-20M1312 1382v-16M1085 1266v-23M1119 1282v-18M1218 1335v-21M1217 1333v-16M1101 1271v-31M1120 1282v-15M1114 1270v-9M1272 1361v-13M1205 1324v-18M1195 1318v-22M1231 1351v-13M1274 1370v-25M1070 1249v-20M1075 1248v-33M1088 1263v-12M1207 1328v-13M1189 1316v-23M1192 1315v-25M1100 1273v-22M1317 1392v-19M1276 1374v-26M1306 1390v-16M1156 1306v-24M1158 1308v-27M1255 1355v-15M1136 1292v-20M1125 1277v-23M1115 1272v-20M1074 1252v-11M1298 1383v-20M1196 1315v-24M1330 1392v-19M1274 1373v-36M1307 1393v-12M1331 1408v-27M1308 1383v-21M1088 1261v-37M1256 1357v-16M1118 1278v-12M1194 1323v-20M1226 1339v-22M1189 1325v-33M1218 1340v-13M1106 1269v-11M1267 1370v-23M1124 1276v-25M1224 1333v-24M1263 1369v-26M1272 1374v-23M1104 1269v-22M1242 1344v-16M1268 1372v-15M1315 1397v-34M1112 1274v-25M1282 1377v-11M1255 1349v-14M1072 1253v-12M1244 1349v-25M1141 1300v-11M1080 1257v-23M1302 1376v-12M1127 1283v-27M1248 1349v-14M1273 1368v-10M1165 1298v-17M1125 1280v-18M1307 1380v-10M1095 1265v-21M1316 1395v-12M1093 1266v-21M1117 1282v-18M1321 1402v-11M1283 1374v-20M1197 1331v-16M1216 1335v-9M1276 1363v-22M1058 1246v-15M1248 1355v-20M1281 1380v-11M1122 1281v-34M1173 1305v-19M1152 1291v-22M1181 1320v-11M1158 1295v-33M1182 1317v-9M1183 1314v-26M1117 1286v-17M1202 1326v-14M1080 1250v-31M1332 1402v-11M1114 1274v-9M1156 1297v-15M1292 1379v-37M1150 1290v-20M1258 1364v-14M1292 1372v-29M1251 1356v-23M1189 1318v-21M1224 1345v-18M1216 1333v-11M1263 1353v-29M1076 1249v-22M1182 1312v-16M1318 1395v-18M1328 1394v-10M1260 1365v-20M1166 1309v-14M1126 1291v-30M1323 1396v-24M1161 1302v-25M1261 1367v-12M1168 1314v-36M1283 1379v-12M1264 1356v-18M1061 1246v-12M1170 1311v-27M1300 1389v-17M1152 1297v-14M1291 1382v-25M1243 1347v-14M1277 1363v-23M1102 1265v-29M1319 1388v-30M1206 1323v-24M1120 1283v-19M1287 1382v-25M1244 1354v-30M1293 1379v-32M1332 1396v-13M1230 1343v-15M1202 1322v-15M1221 1342v-20M1090 1258v-21M1278 1366v-20M1124 1279v-33M1108 1278v-20M1065 1248v-16M1094 1263v-18M1185 1324v-14M1313 1386v-24M1100 1270v-28M1296 1373v-25M1094 1273v-13M1302 1379v-23M1213 1328v-26M1277 1373v-14M1120 1282v-22M1262 1364v-10M1190 1317v-16M1244 1352v-8M1147 1292v-14M1142 1287v-15M1190 1326v-12M1326 1400v-24M1303 1388v-28M1110 1276v-15M1107 1269v-18M1100 1262v-22M1293 1371v-11M1057 1245v-26M1099 1269v-19M1261 1362v-19M1080 1265v-24M1094 1258v-32M1278 1368v-35M1235 1346v-9M1195 1321v-21M1149 1302v-16M1088 1258v-33M1205 1326v-32M1336 1401v-10M1153 1293v-30M1260 1357v-23M1289 1384v-13M1184 1319v-21M1207 1329v-16M1220 1335v-14M1170 1313v-11M1194 1318v-26M1061 1244v-35M1261 1356v-28M1204 1321v-11M1072 1250v-19M1325 1403v-17M1243 1352v-25M1159 1305v-11M1124 1279v-20M1139 1293v-9M1145 1296v-32M1280 1370v-23M1058 1252v-18M1286 1368v-18M1136 1295v-30M1095 1273v-11M1094 1266v-15M1332 1394v-22M1261 1357v-12M1263 1354v-16M1082 1256v-26M1295 1380v-26M1231 1348v-28M1323 1403v-14M1328 1395v-10M1247 1345v-23M1329 1404v-16M1212 1325v-20M1293 1374v-11M1159 1300v-18M1154 1293v-20M1194 1324v-17M1308 1391v-16M1160 1309v-15M1174 1312v-9M1203 1320v-31M1285 1368v-14M1244 1351v-20M1176 1307v-19M1077 1249v-15M1068 1246v-11M1156 1302v-34M1251 1360v-17M1270 1368v-8M1165 1300v-25M1161 1302v-10M1334 1398v-11M1164 1302v-14M1254 1355v-8M1330 1393v-31M1335 1403v-31M1063 1243v-28M1258 1353v-14M1074 1259v-21M1155 1301v-23M1130 1286v-8M1253 1363v-13M1179 1315v-22M1277 1367v-22M1155 1304v-23M1213 1339v-13M1200 1323v-10M1281 1367v-13M1091 1268v-20M1150 1297v-13M1202 1320v-13M1330 1397v-25M1232 1343v-21M1252 1357v-25M1145 1290v-19M1279 1371v-8M1182 1322v-12M1221 1334v-22M1275 1365v-11M1177 1320v-8M1147 1291v-20M1278 1371v-22M1120 1280v-30M1157 1294v-23M1193 1329v-23M1158 1296v-30M1271 1367v-8M1143 1292v-11M1191 1320v-12M1199 1332v-32M1291 1374v-14M1186 1324v-11M1073 1259v-8M1194 1330v-24M1062 1244v-23M1254 1350v-22M1197 1319v-12M1146 1293v-36M1144 1300v-8M1194 1316v-10M1136 1292v-23M1135 1292v-21M1298 1385v-10M1271 1373v-21M1248 1347v-34M1193 1325v-25M1124 1275v-28M1314 1384v-17M1297 1383v-16M1345 1400v-16M1095 1273v-17M1126 1289v-31M1187 1325v-11M1245 1359v-15M1251 1360v-21M1134 1286v-10M1195 1328v-14M1309 1384v-22M1239 1353v-35M1159 1301v-24M1278 1374v-15M1297 1385v-23M1148 1300v-9M1267 1362v-28M1225 1337v-13M1204 1322v-16M1241 1344v-31M1208 1328v-13M1136 1288v-11M1138 1298v-22M1308 1394v-22M1327 1400v-17M1103 1273v-29M1315 1399v-15M1243 1358v-29M1293 1385v-17M1305 1383v-21M1183 1312v-33M1279 1373v-21M1126 1289v-21M1241 1354v-9M1276 1375v-12M1065 1255v-12M1202 1333v-13M1203 1320v-25M1301 1382v-24M1095 1271v-29M1269 1358v-17M1239 1353v-20M1251 1354v-19M1141 1287v-34M1216 1332v-15M1152 1298v-11M1186 1315v-16M1167 1299v-30M1139 1295v-22M1166 1304v-23M1322 1396v-20M1090 1260v-16M1243 1348v-28M1297 1377v-19M1088 1259v-19M1295 1375v-21M1239 1353v-10M1208 1324v-27M1252 1351v-25M1311 1387v-13M1277 1367v-26M1130 1292v-17M1226 1337v-18M1076 1253v-16M1219 1342v-16M1330 1394v-30M1173 1306v-15M1163 1304v-21M1276 1374v-19M1273 1368v-9M1285 1380v-18M1194 1329v-23M1227 1334v-20M1115 1276v-19M1125 1276v-23M1249 1354v-32M1332 1408v-18M1183 1317v-12M1318 1397v-27M1166 1306v-24M1089 1259v-27M1324 1389v-13M1202 1325v-13M1108 1270v-9M1142 1286v-24M1239 1348v-13M1251 1352v-32M1299 1378v-18M1153 1306v-15M1072 1248v-22M1229 1346v-15" stroke="#f3e5cb" stroke-width="1.5" stroke-opacity="0.9" fill="none"/>
<use href="#tf" transform="translate(1333 1345) scale(0.97)"/>
<use href="#tf" transform="translate(1291 1348) scale(1.22)"/>
<use href="#tg" x="974" y="1348"/>
<use href="#tf" transform="translate(1376 1348) scale(1.40)"/>
<g class="h"><path d="M2391 1311L2405 1303L2415 1305L2401 1313ZM2412 1324L2426 1316L2415 1305L2401 1313ZM2391 1322L2412 1334L2412 1324L2401 1313L2391 1311Z"/><path class="g" d="M2412 1334L2426 1326L2426 1316L2412 1324Z"/></g>
<use href="#tf" transform="translate(1298 1350) scale(1.10)"/>
<use href="#tf" transform="translate(1349 1353) scale(1.40)"/>
<use href="#tf" transform="translate(1345 1355) scale(0.95)"/>
<use href="#tf" transform="translate(1400 1355) scale(1.17)"/>
<use href="#to" x="1486" y="1358"/>
<path d="M2965 1334v-11M2920 1333v-23M2945 1346v-11M2941 1330v-9M2874 1317v-19M2842 1317v-13M2976 1348v-25M2946 1344v-21M2831 1323v-19M2974 1334v-12M2881 1312v-11M2840 1315v-22M2870 1331v-23M2905 1341v-13M2916 1337v-8M2980 1342v-14M2946 1340v-10M2967 1358v-14M2886 1308v-13M2968 1355v-11M2933 1323v-13M2980 1334v-14M2981 1337v-13M2940 1350v-14M2913 1333v-15M2970 1352v-13M2862 1317v-23M2951 1334v-12M2835 1319v-8M2830 1307v-24M2979 1342v-12M2851 1303v-10M2941 1346v-23M2950 1332v-27M2912 1323v-22M2875 1305v-18M2836 1327v-17M2867 1334v-17M2913 1325v-18M2923 1327v-13M2876 1316v-21M2911 1335v-16M2834 1314v-24M2830 1323v-15M2819 1322v-17M2941 1354v-9M2868 1319v-14M2937 1333v-17M2883 1332v-17M2877 1334v-16M2984 1339v-10M2923 1347v-9M2873 1328v-24M2906 1336v-26M2916 1328v-11M2870 1330v-27M2887 1316v-19M2838 1307v-13M2942 1324v-22M2839 1302v-15M2948 1331v-22M2838 1300v-12M2832 1320v-18M2952 1341v-16M2822 1321v-12M2916 1344v-15M2873 1329v-17M2966 1343v-14M2901 1331v-22M2949 1345v-13M2937 1347v-21M2844 1310v-19M2893 1315v-9M2943 1324v-16M2903 1318v-18M2947 1327v-12M2925 1338v-15M2873 1316v-19M2904 1322v-14M2843 1315v-20M2935 1321v-17M2867 1304v-12M2918 1317v-25M2899 1312v-23M2984 1335v-10M2847 1309v-14M2822 1322v-24M2867 1323v-16M2953 1334v-21M2934 1341v-20M2935 1322v-23M2907 1320v-13M2929 1345v-11M2874 1337v-9M2876 1336v-20M2906 1328v-9M2943 1334v-9M2981 1336v-14M2930 1337v-16M2943 1331v-16M2880 1338v-27M2852 1328v-13M2886 1313v-10M2839 1302v-13M2921 1347v-23M2962 1359v-25M2880 1308v-21M2872 1336v-9M2974 1341v-16M2937 1337v-22M2961 1332v-17M2968 1357v-20M2925 1322v-14M2877 1313v-24M2872 1311v-22M2899 1340v-11M2964 1343v-27M2922 1329v-13M2842 1314v-9M2968 1338v-14M2885 1323v-23M2842 1307v-20M2896 1339v-18M2924 1340v-15M2900 1318v-9M2967 1352v-11M2956 1340v-14M2950 1335v-19M2941 1344v-10M2840 1320v-17M2872 1335v-14M2982 1340v-17M2982 1339v-11M2902 1323v-16M2853 1300v-9M2847 1308v-25M2922 1323v-19M2965 1360v-10M2941 1325v-18M2873 1325v-26M2898 1322v-9M2924 1340v-19M2843 1307v-14M2859 1304v-11M2948 1353v-21M2879 1317v-19M2856 1304v-19M2858 1331v-11M2846 1308v-21M2953 1346v-20M2896 1322v-28M2894 1314v-21M2887 1319v-19M2928 1334v-26M2862 1307v-22M2839 1319v-11M2833 1324v-23M2882 1314v-24M2944 1333v-9M2879 1324v-15M2943 1339v-12M2916 1321v-21M2979 1341v-12M2919 1325v-10M2909 1320v-19M2909 1321v-20M2902 1338v-20M2871 1311v-14M2899 1335v-9M2877 1306v-19M2964 1348v-21M2895 1321v-13M2833 1301v-13M2875 1325v-10M2876 1335v-10M2986 1335v-19M2964 1359v-27M2973 1348v-25M2847 1324v-10M2950 1350v-22M2947 1335v-17M2962 1349v-16M2864 1315v-24M2914 1333v-10M2830 1308v-20M2984 1339v-29M2859 1332v-14" stroke="#c9c89c" stroke-width="1.5" stroke-opacity="0.75" fill="none"/>
<use href="#td" transform="translate(3012 1359) scale(1.02)"/>
<use href="#tf" transform="translate(1307 1359) scale(1.49)"/>
<use href="#to" x="1074" y="1361"/>
<use href="#tf" x="1285" y="1362"/>
<g class="h"><path d="M1985 1292L2046 1328L2037 1328L1976 1293ZM1967 1312L2028 1347L2028 1338L1967 1303ZM1967 1303L2028 1338L2037 1328L1976 1293Z"/><path class="g" d="M2028 1347L2046 1337L2046 1328L2037 1328L2028 1338Z"/></g>
<use href="#tf" transform="translate(1312 1365) scale(1.50)"/>
<path d="M2376 1318v-8M2369 1317v-29M2440 1361v-10M2385 1336v-28M2476 1377v-24M2379 1329v-21M2435 1351v-12M2385 1330v-12M2399 1337v-18M2398 1335v-24M2432 1359v-18M2364 1316v-19M2443 1367v-21M2430 1356v-15M2429 1352v-16M2372 1329v-35M2389 1332v-9M2467 1371v-26M2379 1326v-21M2426 1358v-28M2415 1345v-14M2407 1346v-9M2386 1333v-10M2462 1370v-20M2376 1328v-24M2391 1334v-25M2480 1382v-28M2468 1381v-13M2409 1345v-18M2359 1316v-32M2427 1348v-17M2477 1379v-10M2385 1331v-11M2416 1346v-27M2389 1327v-19M2370 1323v-15M2471 1372v-23M2389 1327v-12M2425 1352v-18M2448 1358v-35M2483 1380v-10M2464 1367v-17M2384 1335v-11M2420 1344v-10M2445 1366v-12M2492 1383v-13M2384 1326v-18M2343 1311v-24M2481 1384v-11M2391 1328v-34M2430 1357v-24M2448 1370v-11M2398 1336v-17M2420 1345v-16M2447 1358v-31M2358 1314v-20M2371 1323v-13M2360 1318v-25M2399 1343v-13M2438 1364v-13M2453 1364v-19M2361 1322v-12M2398 1342v-19M2427 1354v-22M2405 1346v-12M2494 1382v-27M2415 1351v-10M2355 1317v-18M2381 1332v-19M2374 1325v-17M2352 1312v-20M2367 1325v-14M2428 1351v-14M2487 1384v-19M2383 1327v-16M2478 1386v-11M2451 1371v-18M2483 1380v-23M2455 1371v-16M2444 1368v-10M2347 1311v-10M2470 1381v-27M2365 1318v-9M2451 1360v-10M2378 1322v-30M2475 1382v-24M2411 1340v-12M2362 1311v-15M2430 1348v-17M2419 1346v-9M2399 1342v-27M2450 1362v-13M2461 1365v-15M2400 1334v-9M2388 1332v-18M2461 1373v-23M2380 1324v-13M2368 1318v-21M2403 1337v-29M2445 1368v-16M2428 1354v-26M2388 1336v-21M2452 1370v-16M2431 1354v-12M2395 1341v-13M2362 1319v-16M2437 1353v-23M2409 1344v-19M2419 1355v-11M2354 1311v-11M2347 1312v-20M2349 1306v-12M2394 1341v-9M2401 1339v-13M2391 1336v-19M2457 1372v-16M2370 1315v-26M2457 1372v-22M2409 1337v-20M2363 1315v-29M2425 1357v-30M2444 1368v-10M2450 1367v-17M2362 1317v-32M2443 1367v-20M2356 1312v-23M2449 1364v-18M2403 1338v-15M2412 1345v-11M2368 1322v-16M2415 1346v-17M2491 1385v-22M2387 1332v-16M2411 1338v-17M2409 1344v-20M2354 1311v-15M2407 1347v-21M2444 1368v-15M2438 1354v-28M2383 1329v-11M2420 1347v-26M2417 1351v-14M2417 1348v-15M2410 1337v-12M2391 1335v-20M2452 1361v-13M2483 1378v-13M2426 1351v-31M2467 1376v-14M2403 1346v-10M2411 1348v-27M2355 1318v-34M2456 1364v-22M2371 1316v-27M2441 1364v-20M2360 1310v-26M2456 1367v-21M2400 1337v-18M2442 1363v-11M2441 1364v-24M2435 1358v-14M2483 1389v-12M2437 1361v-15M2388 1330v-12M2460 1371v-34M2370 1328v-26M2429 1348v-9M2421 1344v-18M2374 1329v-24M2348 1314v-27M2378 1324v-21M2475 1377v-30M2475 1385v-22M2468 1369v-18M2470 1374v-22M2392 1338v-17M2423 1352v-10M2359 1313v-18M2432 1361v-26M2361 1319v-10M2359 1310v-29M2447 1364v-22M2440 1354v-21M2481 1376v-19M2355 1314v-13M2361 1311v-20M2489 1382v-17M2391 1331v-14M2397 1342v-10M2461 1375v-17M2444 1363v-34M2350 1314v-22M2434 1363v-9M2430 1358v-9M2418 1352v-18M2396 1340v-33M2381 1324v-24M2455 1367v-24M2485 1385v-19M2363 1311v-19M2412 1339v-12M2467 1378v-16M2355 1319v-21M2453 1369v-19M2383 1330v-8M2395 1331v-10M2450 1364v-13M2456 1370v-17M2479 1377v-19M2352 1315v-20M2351 1309v-10M2461 1373v-11M2441 1366v-22M2406 1335v-18M2381 1330v-17M2470 1373v-23M2478 1381v-9M2454 1372v-10M2455 1362v-15M2391 1328v-25M2487 1385v-24M2388 1326v-16M2465 1371v-13M2469 1377v-15" stroke="#f3e5cb" stroke-width="1.5" stroke-opacity="0.9" fill="none"/>
<g class="h"><path d="M1984 1297L2048 1334L2039 1334L1975 1298ZM1966 1317L2030 1354L2030 1345L1966 1308ZM1966 1308L2030 1345L2039 1334L1975 1298Z"/><path class="g" d="M2030 1354L2048 1343L2048 1334L2039 1334L2030 1345Z"/></g>
<g class="h"><path d="M2199 1329L2214 1321L2225 1323L2210 1331ZM2222 1343L2236 1334L2225 1323L2210 1331ZM2199 1340L2222 1353L2222 1343L2210 1331L2199 1329Z"/><path class="g" d="M2222 1353L2236 1345L2236 1334L2222 1343Z"/></g>
<path d="M3066 1349v-22M2971 1319v-26M2963 1330v-23M3043 1345v-19M3068 1342v-10M2997 1337v-10M3006 1334v-16M3040 1353v-18M3070 1341v-25M3080 1340v-8M3018 1331v-8M2975 1337v-19M3044 1343v-10M3086 1362v-18M3087 1356v-13M2966 1340v-8M3017 1333v-21M3016 1326v-16M2960 1328v-19M3042 1354v-14M3032 1342v-8M3001 1333v-19M3077 1355v-12M3090 1355v-9M3031 1335v-15M3036 1350v-22M3086 1353v-9M3032 1350v-12M3096 1342v-16M2987 1334v-13M3034 1333v-23M3083 1351v-11M3036 1334v-28M3078 1340v-11M3048 1337v-10M2987 1320v-18M2982 1319v-12M2957 1333v-20M3023 1351v-20M3041 1333v-17M2952 1336v-24M3055 1335v-17M3059 1357v-13M3003 1344v-17M3046 1350v-10M3030 1348v-24M2993 1329v-13M2987 1319v-21M3060 1344v-10M3018 1328v-20M2969 1322v-9M3020 1349v-18M2979 1320v-17M2968 1330v-8M2965 1337v-13M3007 1324v-24M3030 1346v-10M3012 1332v-8M3016 1338v-17M3057 1344v-15M2983 1328v-13M3014 1341v-19M2985 1338v-10M3066 1357v-12M2981 1332v-8M3027 1339v-17M2979 1336v-9M3029 1338v-16M3025 1335v-23M3055 1332v-14M2996 1337v-20M3058 1356v-27M3039 1329v-21M3072 1359v-13M2974 1329v-10M3002 1326v-25M3085 1359v-20M3072 1359v-13M3011 1331v-10M3071 1344v-14M3074 1351v-8M3047 1333v-19M2987 1339v-17M3015 1344v-28M3011 1341v-10M3093 1342v-17M3016 1327v-9M3016 1328v-19M3090 1359v-21M3024 1331v-8M3036 1339v-23M3002 1329v-21M3082 1349v-23M2960 1326v-20M2957 1333v-16M2967 1331v-29M3013 1327v-18M2959 1338v-20M3028 1329v-12M2962 1317v-19M2998 1333v-23M2957 1337v-20M3039 1330v-20M3012 1330v-23M3027 1332v-10M3073 1357v-19M3051 1342v-18M2967 1326v-23M3027 1347v-17M2991 1344v-8M3069 1335v-9M2966 1319v-15M3013 1338v-26M3009 1325v-26M3085 1363v-24M3037 1331v-28M3090 1348v-10M2966 1325v-11M3007 1331v-23M3018 1329v-17M3029 1329v-13M3000 1328v-26M3094 1352v-22M3010 1345v-19M3001 1330v-18M3070 1359v-20M2997 1321v-16M3040 1338v-12M3053 1352v-11M3004 1330v-11M3068 1335v-13M3072 1337v-15M3084 1363v-18M3063 1350v-13M2961 1326v-8M2969 1328v-26M3011 1337v-9M3036 1352v-27M2968 1321v-17M3016 1348v-16M3043 1334v-20M3023 1343v-8M3012 1332v-14M3023 1346v-14M2985 1331v-19M2962 1329v-15M3043 1347v-18M2971 1324v-14M3038 1352v-13M3071 1336v-12M3026 1349v-16M3073 1361v-14M3090 1343v-15M2990 1322v-13M3051 1349v-11M2999 1346v-18M3062 1359v-10M2959 1334v-21M2996 1341v-21M3000 1339v-25M3026 1340v-12M2973 1317v-17M3088 1360v-23" stroke="#c9c89c" stroke-width="1.5" stroke-opacity="0.75" fill="none"/>
<use href="#tf" transform="translate(1309 1371) scale(1.07)"/>
<use href="#tf" transform="translate(1334 1374) scale(1.38)"/>
<use href="#td" transform="translate(2936 1375) scale(1.02)"/>
<g class="h"><path d="M2109 1336L2124 1328L2135 1329L2121 1338ZM2132 1350L2147 1341L2135 1329L2121 1338ZM2109 1347L2132 1360L2132 1350L2121 1338L2109 1336Z"/><path class="g" d="M2132 1360L2147 1352L2147 1341L2132 1350Z"/></g>
<use href="#ts" x="985" y="1377"/>
<use href="#tg" x="1824" y="1386"/>
<use href="#ts" x="1027" y="1386"/>
<g class="h"><path d="M991 1353L1006 1345L1018 1346L1003 1355ZM1014 1366L1029 1358L1018 1346L1003 1355ZM991 1364L1014 1377L1014 1366L1003 1355L991 1353Z"/><path class="g" d="M1014 1377L1029 1368L1029 1358L1014 1366Z"/></g>
<g class="h"><path d="M2156 1355L2169 1347L2179 1348L2166 1356ZM2175 1366L2189 1359L2179 1348L2166 1356ZM2156 1365L2175 1377L2175 1366L2166 1356L2156 1355Z"/><path class="g" d="M2175 1377L2189 1369L2189 1359L2175 1366Z"/></g>
<use href="#ts" transform="translate(2910 1399) scale(0.90)"/>
<use href="#to" x="2056" y="1400"/>
<use href="#ts" x="2947" y="1402"/>
<g class="h"><path d="M2133 1364L2146 1356L2156 1357L2143 1365ZM2153 1375L2166 1368L2156 1357L2143 1365ZM2133 1375L2153 1386L2153 1375L2143 1365L2133 1364Z"/><path class="g" d="M2153 1386L2166 1378L2166 1368L2153 1375Z"/></g>
<use href="#ts" x="1032" y="1404"/>
<g class="h"><path d="M1510 1366L1525 1357L1536 1359L1521 1367ZM1533 1379L1548 1370L1536 1359L1521 1367ZM1510 1376L1533 1390L1533 1379L1521 1367L1510 1366Z"/><path class="g" d="M1533 1390L1548 1381L1548 1370L1533 1379Z"/></g>
<use href="#tg" x="1821" y="1406"/>
<use href="#tg" transform="translate(1085 1406) scale(0.60)"/>
<use href="#td" x="2954" y="1408"/>
<use href="#tg" x="2233" y="1408"/>
<use href="#to" x="1583" y="1408"/>
<g class="h"><path d="M1036 1375L1049 1368L1058 1368L1045 1376ZM1055 1387L1068 1379L1058 1368L1045 1376ZM1036 1386L1055 1397L1055 1387L1045 1376L1036 1375Z"/><path class="g" d="M1055 1397L1068 1390L1068 1379L1055 1387Z"/></g>
<use href="#ts" x="1031" y="1409"/>
<use href="#tcow" x="1536" y="1414" fill="#8d8c9f"/>
<g class="h"><path d="M2173 1375L2187 1367L2197 1368L2183 1376ZM2194 1387L2208 1379L2197 1368L2183 1376ZM2173 1386L2194 1398L2194 1387L2183 1376L2173 1375Z"/><path class="g" d="M2194 1398L2208 1390L2208 1379L2194 1387Z"/></g>
<use href="#tg" x="2356" y="1422"/>
<use href="#tg" x="1422" y="1422"/>
<use href="#ts" x="1438" y="1428"/>
<use href="#tcow" x="1583" y="1428" fill="#8d8c9f"/>
<use href="#ts" x="1101" y="1428"/>
<use href="#ts" x="1102" y="1430"/>
<g class="h"><path d="M1050 1394L1064 1386L1075 1387L1061 1396ZM1073 1407L1087 1399L1075 1387L1061 1396ZM1050 1404L1073 1418L1073 1407L1061 1396L1050 1394Z"/><path class="g" d="M1073 1418L1087 1410L1087 1399L1073 1407Z"/></g>
<use href="#tg" x="1629" y="1433"/>
<use href="#to" x="895" y="1434"/>
<g class="h"><path d="M1338 1369L1397 1403L1388 1403L1329 1369ZM1320 1388L1379 1422L1379 1413L1320 1379ZM1320 1379L1379 1413L1388 1403L1329 1369Z"/><path class="g" d="M1379 1422L1397 1412L1397 1403L1388 1403L1379 1413Z"/></g>
<use href="#ts" x="696" y="1437"/>
<use href="#tg" x="1212" y="1440"/>
<use href="#ts" x="705" y="1440"/>
<use href="#ts" x="735" y="1441"/>
<use href="#ts" x="736" y="1442"/>
<use href="#ts" x="922" y="1443"/>
<use href="#ts" x="921" y="1444"/>
<use href="#ts" x="704" y="1445"/>
<use href="#tg" x="1627" y="1445"/>
<use href="#tg" transform="translate(1988 1445) scale(0.80)"/>
<use href="#tg" x="1161" y="1448"/>
<use href="#ts" x="720" y="1450"/>
<path d="M847 1433v-23M944 1487v-9M936 1475v-14M769 1389v-22M771 1384v-24M902 1457v-19M922 1474v-11M892 1455v-11M777 1390v-11M826 1420v-19M827 1425v-10M808 1416v-28M946 1493v-15M918 1474v-11M802 1400v-31M813 1411v-19M758 1384v-28M916 1478v-13M768 1390v-17M826 1417v-11M930 1479v-21M819 1413v-15M904 1471v-17M899 1460v-23M912 1470v-15M796 1408v-20M814 1406v-12M966 1493v-19M859 1440v-15M832 1424v-10M955 1488v-10M891 1459v-20M891 1464v-9M744 1368v-19M773 1389v-18M774 1390v-20M911 1467v-20M795 1410v-28M897 1458v-24M846 1436v-13M938 1487v-19M863 1446v-19M966 1492v-23M902 1464v-27M775 1387v-18M929 1477v-28M894 1451v-11M755 1380v-15M799 1403v-9M942 1492v-19M843 1426v-24M811 1419v-21M901 1468v-9M769 1384v-10M828 1429v-28M962 1494v-12M747 1370v-9M862 1437v-18M866 1444v-15M904 1468v-24M847 1431v-14M748 1374v-16M776 1397v-30M930 1485v-15M782 1390v-19M970 1496v-8M821 1415v-18M759 1387v-13M949 1488v-12M772 1396v-16M934 1475v-21M900 1470v-20M764 1382v-21M855 1444v-12M738 1376v-12M869 1442v-21M947 1496v-21M793 1406v-8M828 1428v-12M821 1418v-13M899 1464v-10M956 1488v-18M823 1412v-9M963 1504v-20M914 1478v-26M864 1438v-17M960 1501v-19M933 1480v-15M937 1479v-20M743 1372v-20M766 1392v-18M782 1393v-23M844 1422v-9M907 1461v-12M919 1479v-22M785 1388v-24M878 1447v-8M841 1424v-16M968 1497v-9M903 1458v-11M832 1431v-16M811 1411v-12M828 1424v-12M926 1472v-10M883 1452v-21M759 1385v-24M828 1415v-21M913 1469v-16M894 1461v-14M781 1393v-17M937 1492v-16M817 1410v-24M911 1465v-22M969 1501v-27M836 1428v-19M787 1395v-32M756 1376v-20M907 1469v-32M899 1454v-9M747 1373v-8M857 1440v-13M936 1482v-21M819 1417v-21M795 1406v-8M798 1401v-31M860 1432v-16M874 1452v-11M919 1471v-21M836 1424v-22M944 1494v-25M904 1459v-8M927 1481v-17M813 1409v-31M867 1436v-16M824 1412v-22M941 1491v-8M839 1421v-27M920 1479v-29M773 1381v-10M927 1483v-16M787 1403v-10M820 1408v-34M830 1426v-27M865 1450v-22M945 1496v-9M914 1466v-15M810 1418v-9M843 1424v-32M849 1436v-22M917 1469v-17M906 1469v-24M804 1413v-20M871 1444v-22M761 1376v-16M773 1382v-25M905 1467v-13M900 1467v-20M789 1400v-18M805 1402v-22M877 1456v-11M799 1404v-9M807 1409v-17M946 1490v-17M869 1449v-16M731 1373v-20M773 1383v-11M895 1453v-8M859 1431v-14M830 1417v-8M801 1401v-14M835 1423v-16M738 1374v-26M858 1430v-14M946 1488v-13M921 1481v-10M852 1436v-10M810 1412v-20M881 1453v-14M761 1374v-23M931 1487v-10M920 1468v-17M779 1398v-27M931 1478v-23M797 1404v-23M793 1399v-10M926 1472v-11M800 1407v-17M854 1441v-25M786 1397v-11M799 1398v-10M813 1419v-25M762 1378v-19M866 1435v-10M867 1445v-10M919 1469v-17M862 1438v-21M830 1421v-19M924 1484v-28M859 1442v-20M952 1500v-19M787 1398v-19M787 1402v-14M901 1463v-18M897 1465v-29M964 1504v-15M892 1458v-32M843 1427v-9M846 1432v-16M762 1383v-10M778 1391v-16M853 1436v-16M775 1383v-22M964 1496v-13M808 1413v-18M928 1471v-10M787 1395v-18M820 1424v-14M864 1449v-17M870 1451v-16M740 1377v-18M878 1443v-19M822 1420v-15M951 1490v-13M947 1485v-15M843 1437v-11M782 1399v-10M829 1426v-26M926 1471v-31M816 1419v-18M943 1487v-15M773 1389v-9M770 1394v-23M941 1481v-14M851 1428v-14M947 1493v-17M873 1453v-25M881 1444v-21M780 1389v-11M855 1438v-14M851 1428v-19M864 1439v-19M948 1497v-26M755 1377v-15M794 1405v-31M770 1387v-27M943 1486v-11M843 1430v-28M784 1392v-21M739 1371v-10M912 1468v-31M784 1402v-12M755 1372v-10M821 1424v-13M909 1460v-20M868 1437v-16M843 1427v-29M902 1458v-9M753 1374v-20M954 1501v-22M763 1388v-18M840 1436v-21M769 1382v-11M877 1451v-25M747 1366v-23M802 1402v-27M760 1386v-21M866 1444v-8M876 1450v-25M862 1434v-11M894 1452v-11M792 1405v-21M814 1420v-16M792 1401v-30M824 1417v-22M963 1501v-11M874 1445v-17M909 1460v-21M809 1411v-19M844 1432v-12M797 1403v-21M786 1401v-20M823 1414v-24M939 1492v-14M753 1379v-8M932 1484v-15M837 1429v-10M818 1420v-20M878 1443v-13M804 1399v-21M864 1448v-16M950 1491v-20M803 1406v-29M857 1430v-16M782 1396v-21M841 1435v-27M765 1377v-25M873 1449v-17M747 1373v-19M883 1445v-10M945 1489v-10M895 1466v-30M882 1457v-10M840 1433v-14M766 1391v-25M746 1366v-16M956 1497v-31M761 1383v-11M819 1410v-16M746 1376v-17M942 1491v-9M937 1485v-27M857 1431v-23M771 1396v-15M946 1489v-15M887 1459v-19M802 1405v-18M795 1396v-19M895 1453v-15M965 1496v-18M814 1406v-17M934 1487v-9M898 1463v-17M891 1457v-13M903 1458v-12M933 1483v-18M901 1463v-17M872 1438v-15M740 1378v-31M893 1453v-20M799 1409v-18M874 1451v-13M929 1480v-27M935 1478v-17M827 1413v-19M896 1460v-22M946 1482v-16M895 1460v-18M801 1401v-18M810 1418v-26M964 1496v-15M764 1382v-9M847 1439v-26M825 1415v-21M745 1379v-23M748 1382v-23M829 1420v-21M854 1442v-30M820 1408v-28M885 1456v-9M750 1382v-14M840 1435v-13M890 1450v-21M913 1464v-25M956 1500v-29M953 1496v-16M923 1481v-22M896 1455v-13M808 1415v-25M798 1411v-9M755 1376v-10M958 1494v-17M934 1483v-23M840 1427v-22M801 1406v-20M775 1385v-16M923 1474v-9M958 1490v-26M746 1376v-10" stroke="#ecc9a0" stroke-width="1.5" stroke-opacity="0.85" fill="none"/>
<use href="#ts" x="720" y="1451"/>
<use href="#tg" x="1254" y="1455"/>
<use href="#tcow" x="1549" y="1455" fill="#8d8c9f"/>
<g class="h"><path d="M1113 1419L1127 1411L1139 1412L1125 1420ZM1136 1432L1150 1424L1139 1412L1125 1420ZM1113 1429L1136 1443L1136 1432L1125 1420L1113 1419Z"/><path class="g" d="M1136 1443L1150 1435L1150 1424L1136 1432Z"/></g>
<path d="M616 1460v-18M609 1472v-15M609 1473v-12M612 1457v-15M606 1462v-12M645 1442v-12M646 1447v-18M634 1457v-25M644 1443v-12M618 1467v-15M616 1469v-18M607 1470v-11M647 1447v-16M642 1447v-12M648 1439v-22M619 1463v-9M617 1454v-10M637 1442v-25M611 1467v-23M607 1462v-16M644 1451v-13M639 1454v-14M680 1426v-12M649 1447v-9M670 1431v-20M641 1438v-26M614 1468v-24M629 1456v-17M652 1430v-26M635 1454v-13M660 1429v-19M604 1469v-9M669 1430v-16M682 1426v-23M611 1468v-16M640 1437v-18M636 1450v-21M616 1453v-27M615 1454v-11M680 1423v-11M619 1466v-15M640 1439v-17M666 1420v-17M614 1471v-10M679 1426v-20M608 1470v-14M634 1444v-18M657 1428v-20M630 1448v-12M639 1449v-21M669 1427v-18M672 1420v-8M624 1453v-10M626 1446v-25M644 1450v-23M661 1437v-15M652 1432v-14M651 1443v-11M633 1456v-17M670 1420v-10M613 1467v-19M655 1441v-19M650 1446v-16M653 1439v-18M660 1434v-10M633 1449v-17M642 1442v-16M632 1449v-23M602 1462v-16M631 1451v-21M626 1451v-8M674 1431v-14M634 1446v-9M674 1429v-11M624 1459v-24M636 1447v-13M667 1434v-18M612 1466v-28M655 1435v-10M610 1469v-9M665 1432v-15M675 1430v-21M611 1466v-17M627 1461v-23M607 1462v-12M642 1441v-15M658 1428v-16M633 1458v-28M628 1455v-9M635 1451v-20M621 1450v-11M639 1441v-15M654 1443v-14M622 1459v-12M656 1430v-11M641 1452v-11M611 1458v-12M625 1453v-18M632 1450v-16M666 1436v-14M667 1423v-29M644 1446v-14M617 1454v-19M632 1454v-18M637 1442v-11M630 1455v-20M605 1472v-13M604 1465v-10M664 1430v-14M618 1457v-14M632 1456v-17M660 1439v-15M604 1461v-10M622 1458v-25M645 1441v-12M679 1424v-12M613 1472v-12M660 1426v-17M635 1456v-14M605 1463v-19M678 1424v-23M620 1455v-10M669 1419v-18M624 1451v-15M668 1423v-12M652 1441v-15M621 1465v-9M611 1460v-15" stroke="#ecc9a0" stroke-width="1.5" stroke-opacity="0.8" fill="none"/>
<use href="#ts" x="692" y="1461"/>
<use href="#tg" x="1163" y="1462"/>
<use href="#ts" x="692" y="1464"/>
<use href="#ts" x="1361" y="1466"/>
<g transform="translate(1936.2 1471.7)" fill="#fff"><polygon points="-4.5,0 4.5,0 2.2,-129 -2.2,-129"/><polygon points="-1.7,-127.8 -4.6,-143.0 -27.0,-167.5 -9.6,-139.5"/><polygon points="-0.2,-131.1 16.5,-126.2 53.8,-133.7 16.0,-132.3"/><polygon points="2.0,-128.5 -7.9,-115.6 -12.9,-80.7 -2.1,-114.0"/></g>
<use href="#tcow" x="1517" y="1475" fill="#8d8c9f"/>
<path d="M869 1444v-27M893 1457v-14M905 1463v-22M862 1436v-22M878 1452v-9M926 1476v-30M874 1447v-15M907 1464v-17M886 1457v-12M894 1460v-26M922 1474v-10M852 1430v-11M856 1439v-13M958 1493v-11M861 1436v-25M914 1467v-19M925 1476v-18M922 1475v-10M878 1455v-18M923 1471v-26M951 1490v-15M905 1462v-12M848 1435v-15M957 1501v-30M957 1499v-8M846 1437v-20M915 1472v-17M894 1455v-17M874 1443v-29M907 1471v-12M913 1467v-19M860 1441v-16M881 1447v-19M900 1466v-13M860 1437v-19M863 1443v-8M842 1431v-15M848 1432v-27M885 1455v-18M906 1460v-21M913 1468v-14M854 1441v-19M883 1454v-22M865 1437v-19M854 1437v-8M839 1423v-16M911 1474v-25M908 1462v-21M895 1464v-9M946 1489v-14M892 1453v-16M861 1442v-12M925 1478v-26M963 1497v-22M883 1457v-29M935 1484v-14M951 1497v-28M875 1452v-17M943 1491v-20M883 1456v-18M902 1468v-9M835 1425v-9M951 1487v-26M867 1439v-28M925 1476v-19M903 1469v-16M906 1466v-19M930 1475v-18M956 1498v-20M885 1449v-10M902 1468v-21M855 1439v-27M894 1463v-13M878 1450v-18M896 1458v-25M887 1454v-11M896 1463v-14M922 1475v-8M965 1498v-19M965 1497v-9M864 1438v-30M907 1461v-12M905 1462v-16M956 1494v-14M918 1468v-21M925 1472v-20M872 1449v-21M955 1495v-11M856 1439v-23M842 1428v-12M892 1462v-22M931 1483v-12M918 1471v-20M903 1466v-11M950 1487v-16M943 1493v-14M966 1495v-33M865 1437v-20M852 1438v-8M851 1433v-9M898 1460v-18M895 1465v-19M852 1439v-22M909 1468v-11M879 1447v-11M918 1471v-25M907 1470v-10M947 1490v-23M863 1443v-18M930 1480v-12M871 1449v-8M918 1473v-18M878 1449v-14M938 1480v-15M867 1444v-12M864 1438v-24M878 1454v-25M869 1445v-8M958 1497v-10M903 1464v-25M868 1449v-19M840 1431v-25M872 1449v-29M956 1490v-27M864 1445v-22M892 1462v-25M963 1504v-23M931 1482v-15M900 1463v-14M865 1446v-20M925 1479v-18M909 1469v-8M888 1461v-11M900 1458v-12M949 1485v-19M937 1488v-14M960 1496v-20M961 1498v-17M853 1429v-13M844 1434v-14M960 1499v-13M931 1478v-21M840 1432v-25M910 1470v-16M852 1433v-20M913 1466v-14M902 1458v-9M897 1457v-24M848 1435v-22M875 1449v-22M917 1471v-33M864 1447v-14M892 1456v-22M950 1494v-12M964 1502v-18M952 1488v-22M936 1487v-22M842 1428v-12M916 1471v-20M905 1466v-20M873 1444v-11M845 1435v-32M851 1433v-20M945 1494v-24M878 1445v-14M906 1460v-11M895 1462v-10M851 1432v-9M853 1431v-20M956 1490v-23M945 1490v-12M948 1485v-9M965 1497v-20M939 1480v-9M924 1472v-18M926 1475v-17M858 1442v-18M925 1478v-10M950 1494v-21M913 1470v-22M907 1464v-15M867 1438v-15M948 1493v-13M901 1464v-18M895 1460v-26M952 1492v-23M929 1475v-12M877 1447v-21M868 1450v-27M881 1454v-25M853 1437v-22M880 1455v-27M880 1447v-21M891 1455v-16M927 1483v-32M940 1482v-16M837 1423v-13M857 1437v-11M922 1474v-13M927 1476v-9M944 1491v-29M875 1445v-19M848 1438v-17M912 1464v-14M885 1460v-10M917 1467v-33M931 1484v-24M860 1436v-9M912 1464v-12M852 1440v-20M867 1449v-12M853 1434v-19M843 1433v-18M942 1485v-9M844 1433v-15M939 1482v-15" stroke="#f3e5cb" stroke-width="1.5" stroke-opacity="0.9" fill="none"/>
<use href="#tcow" x="1433" y="1480" fill="#8d8c9f"/>
<use href="#tg" x="1988" y="1481"/>
<use href="#tc" x="2328" y="1482"/>
<use href="#tg" x="1200" y="1484"/>
<g class="h"><path d="M980 1464L1068 1413L1086 1415L998 1465ZM1016 1485L1104 1434L1086 1415L998 1465ZM980 1474L1016 1495L1016 1485L998 1465L980 1464Z"/><path class="g" d="M1016 1495L1104 1444L1104 1434L1016 1485Z"/></g>
<g transform="translate(1712.5 1485.4)" fill="#fff"><polygon points="-4.5,0 4.5,0 2.2,-129 -2.2,-129"/><polygon points="-1.7,-127.8 -4.6,-143.0 -27.0,-167.5 -9.6,-139.5"/><polygon points="-0.2,-131.1 16.5,-126.2 53.8,-133.7 16.0,-132.3"/><polygon points="2.0,-128.5 -7.9,-115.6 -12.9,-80.7 -2.1,-114.0"/></g>
<use href="#ts" x="965" y="1488"/>
<use href="#ts" x="965" y="1489"/>
<g class="h"><path d="M2413 1450L2427 1442L2438 1443L2424 1451ZM2435 1462L2449 1454L2438 1443L2424 1451ZM2413 1461L2435 1473L2435 1462L2424 1451L2413 1450Z"/><path class="g" d="M2435 1473L2449 1465L2449 1454L2435 1462Z"/></g>
<use href="#tc" x="2311" y="1491"/>
<use href="#tc" x="2334" y="1499"/>
<use href="#tc" x="2365" y="1503"/>
<use href="#tg" x="2382" y="1504"/>
<g class="h"><path d="M2325 1468L2339 1460L2349 1461L2335 1469ZM2346 1480L2360 1472L2349 1461L2335 1469ZM2325 1479L2346 1491L2346 1480L2335 1469L2325 1468Z"/><path class="g" d="M2346 1491L2360 1483L2360 1472L2346 1480Z"/></g>
<use href="#tc" x="2318" y="1509"/>
<use href="#tc" x="2388" y="1511"/>
<use href="#tc" x="2277" y="1511"/>
<use href="#tc" x="2348" y="1513"/>
<use href="#tcow" x="1598" y="1514" fill="#8d8c9f"/>
<use href="#tc" x="2300" y="1519"/>
<use href="#tc" x="2372" y="1521"/>
<path d="M1399 1575v-9M1205 1460v-15M1300 1526v-10M1208 1474v-17M1252 1488v-9M1198 1465v-9M1270 1508v-8M1219 1474v-25M1332 1542v-15M1229 1483v-22M1384 1569v-25M1316 1530v-17M1314 1531v-32M1222 1477v-29M1354 1553v-13M1190 1458v-18M1258 1494v-22M1297 1514v-20M1331 1535v-12M1153 1437v-19M1249 1493v-21M1160 1435v-23M1381 1570v-17M1215 1468v-19M1343 1544v-9M1213 1474v-30M1242 1494v-15M1153 1433v-21M1331 1533v-16M1246 1490v-9M1382 1568v-16M1150 1437v-36M1326 1541v-33M1321 1527v-14M1295 1517v-12M1156 1444v-22M1221 1476v-32M1179 1454v-14M1375 1568v-36M1242 1488v-16M1229 1487v-28M1397 1582v-22M1310 1532v-21M1378 1570v-16M1234 1486v-11M1213 1468v-11M1373 1570v-26M1271 1508v-19M1258 1497v-11M1208 1466v-15M1317 1527v-12M1367 1563v-27M1349 1545v-22M1356 1557v-12M1267 1504v-8M1203 1470v-26M1258 1498v-17M1238 1480v-30M1345 1546v-27M1356 1555v-31M1400 1571v-23M1257 1501v-26M1168 1447v-9M1335 1539v-18M1210 1474v-21M1218 1478v-13M1350 1551v-21M1297 1526v-29M1263 1501v-17M1220 1473v-20M1350 1556v-28M1276 1506v-29M1306 1531v-30M1245 1487v-9M1347 1547v-18M1157 1440v-30M1212 1474v-30M1314 1530v-13M1317 1532v-31M1279 1507v-35M1307 1523v-18M1186 1452v-30M1260 1502v-12M1269 1500v-26M1300 1519v-14M1201 1461v-20M1229 1475v-18M1255 1502v-20M1242 1495v-22M1263 1499v-14M1183 1454v-21M1171 1447v-13M1301 1520v-18M1348 1547v-16M1167 1441v-25M1357 1549v-34M1382 1566v-18M1320 1530v-17M1331 1538v-16M1294 1512v-17M1224 1473v-24M1325 1536v-18M1318 1530v-35M1205 1460v-24M1325 1534v-19M1235 1481v-20M1370 1558v-20M1267 1497v-26M1275 1514v-22M1381 1564v-11M1358 1549v-24M1186 1459v-9M1161 1447v-16M1255 1502v-31M1199 1467v-14M1266 1499v-11M1224 1475v-11M1372 1560v-23M1352 1553v-13M1386 1576v-26M1225 1483v-21M1153 1436v-25M1279 1515v-21M1355 1559v-16M1385 1563v-31M1166 1445v-21M1160 1443v-20M1204 1463v-28M1286 1507v-15M1391 1570v-15M1256 1501v-22M1241 1490v-8M1161 1441v-19M1185 1449v-22M1197 1456v-10M1166 1442v-24M1316 1527v-16M1228 1482v-10M1311 1521v-29M1197 1463v-14M1261 1496v-24M1342 1549v-24M1261 1499v-14M1218 1474v-31M1155 1442v-16M1301 1519v-28M1274 1504v-17M1149 1430v-35M1166 1443v-19M1147 1440v-12M1394 1574v-25M1305 1518v-16M1334 1545v-30M1324 1530v-20M1281 1504v-25M1169 1447v-13M1180 1459v-24M1332 1541v-22M1375 1558v-19M1199 1465v-19M1386 1566v-16M1379 1569v-17M1237 1489v-10M1334 1537v-24M1157 1446v-21M1153 1433v-25M1358 1551v-20M1297 1516v-28M1255 1491v-21M1333 1536v-17M1322 1532v-16M1275 1513v-10M1209 1469v-36M1407 1575v-18M1182 1450v-11M1267 1509v-27M1234 1489v-26M1158 1446v-12M1402 1574v-32M1276 1508v-11M1267 1506v-18M1397 1577v-23M1175 1453v-23M1374 1561v-22M1357 1550v-15M1361 1558v-23M1144 1436v-15M1206 1466v-10M1358 1558v-23M1322 1529v-19M1408 1575v-13M1186 1452v-16M1309 1520v-21M1259 1493v-10M1281 1508v-23M1173 1447v-16M1165 1444v-33M1301 1516v-18M1169 1442v-8M1285 1508v-13M1170 1452v-11M1315 1534v-16M1296 1517v-25M1326 1530v-28M1180 1452v-12M1267 1504v-30M1233 1477v-17M1380 1567v-26M1340 1546v-22M1388 1575v-32M1183 1451v-19M1290 1520v-24M1233 1478v-25M1172 1448v-16M1245 1492v-18M1309 1520v-22M1321 1539v-23M1306 1530v-26M1313 1522v-8M1325 1540v-20M1198 1463v-21M1344 1541v-11M1194 1464v-13M1375 1563v-11M1255 1491v-22M1150 1435v-15M1156 1436v-26M1367 1558v-28M1375 1569v-26M1290 1516v-28M1294 1524v-13M1374 1566v-18M1366 1556v-15M1287 1520v-13M1361 1558v-35M1219 1477v-33M1370 1564v-21M1307 1526v-11M1272 1512v-25M1156 1437v-15M1366 1554v-26M1196 1460v-37M1175 1451v-12M1345 1541v-22M1205 1473v-16M1323 1527v-24M1303 1528v-26M1156 1442v-17M1191 1464v-25M1239 1480v-27M1162 1439v-9M1185 1459v-12M1402 1576v-20M1333 1542v-19M1175 1455v-23M1285 1508v-9M1204 1473v-16M1216 1473v-9M1345 1550v-16M1146 1439v-28M1345 1543v-35M1315 1523v-23M1328 1533v-23M1297 1521v-8M1195 1465v-8M1199 1457v-25M1175 1454v-15M1341 1550v-26M1194 1459v-31M1224 1484v-17M1309 1523v-24M1218 1473v-28M1363 1552v-13M1195 1465v-24M1326 1540v-15M1278 1502v-13M1302 1519v-30M1199 1463v-18M1199 1466v-14M1160 1436v-22M1355 1555v-34M1313 1532v-21M1297 1520v-13M1209 1464v-10M1247 1488v-25M1361 1553v-21M1364 1553v-22M1200 1458v-15M1202 1459v-9M1349 1554v-23M1168 1439v-32M1242 1486v-28M1283 1509v-12M1170 1450v-35M1156 1436v-18M1212 1471v-23M1216 1468v-15M1358 1549v-23M1353 1552v-13M1381 1571v-38M1221 1476v-19M1360 1557v-24M1272 1511v-19M1181 1449v-15M1162 1449v-24M1351 1549v-24M1197 1468v-16M1246 1493v-30M1403 1579v-17M1359 1553v-14M1270 1501v-12M1346 1545v-18M1226 1474v-27M1342 1548v-24M1188 1458v-21M1346 1548v-18M1193 1454v-29M1151 1433v-15M1323 1537v-23M1387 1568v-15M1177 1449v-10M1392 1574v-16M1153 1443v-12M1347 1544v-16M1178 1452v-12M1289 1518v-12M1177 1451v-16M1261 1497v-11M1172 1452v-26M1320 1534v-23M1189 1464v-20M1265 1498v-16M1399 1576v-31M1174 1451v-13M1206 1465v-19M1311 1526v-33M1179 1457v-18M1350 1548v-14M1374 1565v-24M1276 1511v-25M1330 1545v-14M1216 1479v-25M1375 1563v-14M1393 1570v-13M1190 1456v-17M1243 1488v-9M1232 1482v-9M1263 1506v-26M1385 1574v-16M1154 1432v-25M1364 1555v-11M1340 1544v-21M1176 1451v-17M1323 1540v-10M1361 1553v-16M1229 1485v-17M1162 1442v-12M1152 1431v-19M1266 1495v-11M1377 1565v-37M1279 1515v-19M1249 1486v-12M1347 1550v-15M1184 1457v-36M1202 1472v-22M1201 1460v-19M1388 1567v-14M1184 1451v-13M1255 1492v-28M1208 1466v-21M1192 1454v-10M1142 1434v-9M1263 1505v-23M1224 1476v-20M1232 1476v-11M1184 1451v-16M1168 1448v-11M1273 1509v-20M1332 1543v-21M1204 1460v-29M1241 1485v-10M1185 1461v-22M1359 1559v-14M1197 1468v-13M1293 1523v-17M1248 1498v-27M1382 1570v-13M1161 1436v-35M1280 1515v-34M1199 1470v-13M1192 1457v-27M1389 1570v-15M1354 1556v-21M1240 1483v-16M1384 1571v-22M1194 1461v-26M1288 1518v-32M1256 1499v-26M1257 1497v-30M1366 1566v-14M1318 1532v-24M1206 1467v-14M1349 1552v-8M1175 1445v-22M1346 1545v-9M1294 1519v-15M1215 1471v-11M1356 1551v-26M1289 1511v-13M1313 1533v-32M1186 1453v-9M1194 1459v-27" stroke="#f3e5cb" stroke-width="1.5" stroke-opacity="0.9" fill="none"/>
<use href="#tc" x="2260" y="1521"/>
<g class="h"><path d="M1308 1485L1323 1476L1334 1478L1319 1487ZM1331 1498L1346 1490L1334 1478L1319 1487ZM1308 1495L1331 1509L1331 1498L1319 1487L1308 1485Z"/><path class="g" d="M1331 1509L1346 1500L1346 1490L1331 1498Z"/></g>
<use href="#tc" x="2331" y="1523"/>
<use href="#tc" x="2402" y="1524"/>
<path d="M823 1512v-23M816 1509v-9M862 1508v-23M893 1519v-12M802 1505v-16M796 1507v-18M846 1510v-16M921 1523v-14M901 1518v-9M871 1512v-14M852 1506v-14M895 1523v-14M914 1514v-17M896 1521v-15M817 1512v-15M886 1513v-10M875 1512v-23M885 1519v-14M901 1512v-29M875 1515v-10M808 1507v-23M889 1512v-14M900 1520v-28M807 1508v-8M881 1515v-10M852 1513v-18M807 1504v-21M810 1510v-29M845 1505v-10M827 1506v-16M923 1522v-29M854 1513v-8M857 1504v-10M909 1513v-14M868 1513v-9M811 1507v-15M810 1504v-12M935 1516v-12M807 1504v-29M904 1512v-20M842 1516v-23M880 1511v-13M869 1511v-20M810 1503v-24M851 1510v-17M905 1522v-13M895 1512v-16M801 1498v-11M843 1513v-8M918 1514v-27M924 1523v-21M924 1521v-20M800 1507v-20M904 1513v-9M867 1514v-19M821 1507v-23M829 1512v-28M888 1515v-14M863 1506v-9M837 1503v-23M843 1515v-14M916 1526v-21M859 1508v-20M837 1513v-9M884 1513v-17M867 1520v-19M842 1516v-28M868 1514v-12M904 1518v-22M921 1523v-19M873 1508v-14M807 1499v-26M851 1505v-15M804 1505v-12M825 1509v-24M797 1506v-18M863 1511v-8M844 1510v-12M932 1520v-24M905 1523v-19M862 1517v-9M830 1500v-17M855 1518v-27M852 1510v-9M899 1518v-10M918 1513v-12M858 1519v-10M831 1512v-14M926 1514v-13M837 1513v-10M886 1521v-25M909 1512v-16M829 1501v-13M896 1518v-10M838 1502v-20M899 1517v-29M931 1518v-14M822 1508v-16M865 1517v-17M838 1511v-26M804 1503v-10M898 1516v-23M884 1522v-15M874 1521v-17M845 1503v-28M803 1510v-28M883 1522v-15M897 1519v-11M806 1507v-18M813 1506v-13M830 1513v-18M896 1522v-18M858 1510v-15M900 1523v-11M895 1513v-8M888 1520v-12M930 1525v-15M897 1522v-11M921 1520v-13M848 1510v-14M840 1502v-16M893 1520v-15M916 1513v-10M799 1503v-18M828 1507v-8M799 1510v-23M805 1506v-14M868 1518v-17M923 1524v-20M811 1509v-12M919 1525v-24M900 1516v-14M905 1512v-16M872 1517v-16M877 1518v-15M886 1522v-13M868 1513v-18M835 1505v-16M887 1511v-29M863 1516v-17M801 1501v-20M806 1511v-15M862 1505v-13M842 1511v-12M864 1509v-17M890 1516v-23M884 1509v-15M861 1516v-28M842 1514v-11M888 1508v-25M858 1511v-16M849 1506v-20M885 1509v-12M924 1518v-12M876 1512v-28M932 1517v-11M820 1505v-11" stroke="#b9bdb0" stroke-width="1.5" stroke-opacity="0.8" fill="none"/>
<use href="#ts" x="653" y="1528"/>
<g class="h"><path d="M1326 1492L1341 1483L1352 1485L1338 1493ZM1349 1505L1364 1496L1352 1485L1338 1493ZM1326 1502L1349 1516L1349 1505L1338 1493L1326 1492Z"/><path class="g" d="M1349 1516L1364 1507L1364 1496L1349 1505Z"/></g>
<use href="#tc" x="2284" y="1529"/>
<g class="h"><path d="M1728 1493L1741 1486L1751 1487L1738 1494ZM1748 1505L1761 1497L1751 1487L1738 1494ZM1728 1504L1748 1516L1748 1505L1738 1494L1728 1493Z"/><path class="g" d="M1748 1516L1761 1508L1761 1497L1748 1505Z"/></g>
<use href="#ts" x="652" y="1529"/>
<use href="#ts" x="671" y="1529"/>
<use href="#tg" x="1370" y="1530"/>
<use href="#tc" x="2354" y="1530"/>
<use href="#ts" x="672" y="1532"/>
<use href="#tc" x="2426" y="1532"/>
<use href="#tc" x="2314" y="1532"/>
<use href="#to" x="2438" y="1534"/>
<g class="h"><path d="M1751 1503L1764 1495L1774 1496L1761 1503ZM1770 1514L1784 1506L1774 1496L1761 1503ZM1751 1513L1770 1525L1770 1514L1761 1503L1751 1503Z"/><path class="g" d="M1770 1525L1784 1517L1784 1506L1770 1514Z"/></g>
<g class="h"><path d="M1705 1503L1718 1496L1728 1497L1715 1504ZM1725 1515L1738 1507L1728 1497L1715 1504ZM1705 1514L1725 1525L1725 1515L1715 1504L1705 1503Z"/><path class="g" d="M1725 1525L1738 1518L1738 1507L1725 1515Z"/></g>
<use href="#tc" x="2408" y="1542"/>
<use href="#tc" x="2297" y="1542"/>
<use href="#ts" x="676" y="1543"/>
<use href="#ts" x="674" y="1544"/>
<use href="#tc" x="2368" y="1544"/>
<use href="#tg" x="1374" y="1544"/>
<use href="#tc" x="2439" y="1546"/>
<g class="h"><path d="M1771 1513L1784 1505L1794 1506L1781 1513ZM1791 1524L1804 1516L1794 1506L1781 1513ZM1771 1523L1791 1535L1791 1524L1781 1513L1771 1513Z"/><path class="g" d="M1791 1535L1804 1527L1804 1516L1791 1524Z"/></g>
<use href="#tg" x="1395" y="1548"/>
<use href="#tg" x="2080" y="1550"/>
<g class="h"><path d="M1683 1515L1696 1507L1706 1508L1692 1516ZM1702 1526L1715 1519L1706 1508L1692 1516ZM1683 1525L1702 1537L1702 1526L1692 1516L1683 1515Z"/><path class="g" d="M1702 1537L1715 1529L1715 1519L1702 1526Z"/></g>
<use href="#tc" x="2320" y="1550"/>
<use href="#tg" transform="translate(1497 1551) scale(0.90)"/>
<use href="#tc" x="2392" y="1552"/>
<use href="#tg" x="1319" y="1552"/>
<use href="#tc" x="2462" y="1554"/>
<use href="#tc" x="2351" y="1554"/>
<use href="#ts" x="829" y="1554"/>
<use href="#tb" x="1007" y="1555"/>
<use href="#ts" x="829" y="1555"/>
<use href="#tc" x="2422" y="1556"/>
<use href="#tg" x="2474" y="1559"/>
<path d="M990 1551v-9M959 1541v-13M951 1540v-19M957 1548v-24M1004 1540v-14M1009 1547v-16M970 1549v-13M964 1546v-17M949 1548v-16M991 1540v-14M1001 1541v-18M993 1546v-12M934 1548v-10M986 1546v-15M942 1551v-20M1011 1542v-17M966 1548v-22M969 1551v-16M974 1548v-11M1013 1544v-26M945 1541v-20M954 1545v-10M997 1548v-16M944 1540v-15M939 1548v-14M1016 1549v-17M1006 1546v-12M938 1548v-15M989 1546v-13M1015 1544v-10M1018 1549v-26M1021 1545v-10M976 1545v-15M1003 1543v-18M951 1543v-23M953 1548v-13M969 1545v-13M1006 1551v-19M946 1540v-13M999 1546v-23M1021 1548v-12M968 1541v-15M1000 1543v-11M980 1550v-21M942 1545v-11M1005 1545v-14M1011 1543v-16M1020 1543v-19M990 1544v-17M970 1549v-14M997 1546v-21M967 1542v-12M961 1540v-21M979 1545v-20M938 1541v-22M936 1550v-16M1019 1550v-12M963 1545v-18M974 1548v-26M999 1546v-17M976 1546v-12M1016 1551v-19M982 1541v-14M1016 1543v-18M955 1548v-13M986 1549v-8M1008 1546v-12M960 1546v-21M948 1541v-12M989 1544v-23M997 1544v-20M945 1547v-19M953 1547v-9M1019 1546v-25M992 1542v-20M987 1544v-20M1000 1548v-10M1019 1550v-14M1015 1551v-15M949 1543v-14M945 1543v-15M934 1547v-16M996 1543v-13M951 1540v-18M965 1543v-25M965 1546v-10M969 1550v-21M1006 1550v-10M937 1541v-21M981 1544v-18M952 1547v-14M945 1549v-12M1004 1549v-16M973 1542v-10M995 1544v-19M965 1543v-11M1001 1545v-10M1011 1542v-12M946 1546v-24M935 1550v-15M1007 1545v-13" stroke="#ecc9a0" stroke-width="1.5" stroke-opacity="0.8" fill="none"/>
<use href="#ts" x="1465" y="1561"/>
<use href="#tc" x="2374" y="1562"/>
<use href="#ts" x="845" y="1562"/>
<use href="#tc" x="2446" y="1563"/>
<use href="#ts" x="844" y="1563"/>
<use href="#tc" x="2334" y="1564"/>
<g class="h"><path d="M1701 1528L1714 1521L1724 1522L1711 1529ZM1720 1540L1734 1532L1724 1522L1711 1529ZM1701 1539L1720 1550L1720 1540L1711 1529L1701 1528Z"/><path class="g" d="M1720 1550L1734 1543L1734 1532L1720 1540Z"/></g>
<use href="#ts" x="1685" y="1564"/>
<use href="#tc" x="2405" y="1565"/>
<use href="#tg" x="2115" y="1566"/>
<use href="#tb" transform="translate(1008 1568) scale(1.10)"/>
<use href="#tc" x="2358" y="1571"/>
<g class="h"><path d="M1396 1537L1410 1529L1421 1530L1407 1539ZM1418 1550L1432 1542L1421 1530L1407 1539ZM1396 1548L1418 1560L1418 1550L1407 1539L1396 1537Z"/><path class="g" d="M1418 1560L1432 1552L1432 1542L1418 1550Z"/></g>
<use href="#tg" x="2499" y="1575"/>
<use href="#tc" x="2500" y="1575"/>
<use href="#tc" x="2388" y="1575"/>
<use href="#ts" x="787" y="1577"/>
<use href="#tc" x="2459" y="1577"/>
<g class="h"><path d="M1721 1542L1734 1534L1744 1535L1731 1543ZM1741 1553L1754 1546L1744 1535L1731 1543ZM1721 1553L1741 1564L1741 1553L1731 1543L1721 1542Z"/><path class="g" d="M1741 1564L1754 1556L1754 1546L1741 1553Z"/></g>
<use href="#ts" x="788" y="1578"/>
<use href="#tg" x="2149" y="1579"/>
<path d="M914 1579v-9M902 1538v-14M897 1548v-16M915 1583v-28M907 1564v-9M911 1576v-26M907 1544v-18M920 1579v-9M940 1564v-24M941 1577v-8M914 1584v-15M915 1557v-17M950 1585v-12M949 1588v-13M898 1560v-27M903 1570v-13M902 1567v-29M925 1581v-19M927 1592v-16M927 1553v-14M925 1552v-23M891 1563v-8M899 1563v-20M928 1574v-9M928 1585v-15M910 1573v-15M916 1564v-23M937 1574v-24M904 1563v-14M926 1591v-23M915 1558v-14M939 1564v-20M957 1579v-25M904 1576v-22M922 1580v-17M882 1553v-27M940 1572v-19M922 1564v-19M898 1571v-20M932 1594v-12M937 1577v-15M913 1572v-12M932 1572v-18M912 1568v-22M921 1548v-24M914 1569v-21M944 1582v-27M903 1564v-21M911 1558v-13M911 1557v-23M874 1553v-21M916 1571v-13M920 1583v-14M926 1562v-11M933 1584v-16M936 1568v-8M906 1560v-11M925 1565v-12M936 1575v-18M936 1575v-8M936 1582v-16M926 1575v-28M872 1550v-22M898 1567v-28M939 1563v-19M909 1563v-25M883 1554v-15M918 1547v-9M902 1555v-25M904 1548v-14M930 1570v-22M912 1543v-15M943 1571v-9M942 1567v-19M940 1570v-13M904 1539v-13M926 1589v-22M922 1573v-15M926 1573v-12M944 1578v-17M912 1581v-16M916 1561v-11M898 1563v-12M923 1562v-18M946 1573v-18M893 1553v-20M909 1549v-13M893 1564v-23M938 1578v-16M900 1551v-19M896 1545v-11M944 1579v-19M884 1548v-14M928 1583v-24M911 1551v-15M875 1551v-20M921 1563v-10M911 1572v-11M887 1550v-13M938 1578v-29M945 1580v-18M924 1569v-26M919 1580v-12M916 1567v-17M877 1548v-13M884 1555v-19M923 1580v-22M957 1578v-13M892 1552v-13M901 1539v-12M921 1567v-18M887 1544v-13M908 1540v-10" stroke="#b9bdb0" stroke-width="1.5" stroke-opacity="0.8" fill="none"/>
<use href="#to" x="1380" y="1582"/>
<use href="#tc" x="2412" y="1583"/>
<use href="#tg" x="1808" y="1584"/>
<use href="#tc" x="2482" y="1585"/>
<g class="h"><path d="M1744 1548L1758 1540L1770 1542L1755 1550ZM1767 1562L1781 1553L1770 1542L1755 1550ZM1744 1559L1767 1572L1767 1562L1755 1550L1744 1548Z"/><path class="g" d="M1767 1572L1781 1564L1781 1553L1767 1562Z"/></g>
<use href="#tc" x="2442" y="1587"/>
<use href="#tc" x="2513" y="1588"/>
<use href="#tg" x="1731" y="1591"/>
<use href="#ts" x="1481" y="1591"/>
<use href="#tc" x="2394" y="1593"/>
<use href="#ts" x="843" y="1593"/>
<use href="#tg" transform="translate(1792 1593) scale(0.50)"/>
<use href="#ts" x="844" y="1594"/>
<use href="#tc" x="2466" y="1595"/>
<use href="#tc" x="2536" y="1596"/>
<use href="#tc" x="2425" y="1597"/>
<use href="#tg" transform="translate(1708 1598) scale(0.60)"/>
<g class="h"><path d="M1822 1562L1836 1554L1847 1555L1833 1563ZM1843 1575L1857 1567L1847 1555L1833 1563ZM1822 1573L1843 1585L1843 1575L1833 1563L1822 1562Z"/><path class="g" d="M1843 1585L1857 1577L1857 1567L1843 1575Z"/></g>
<use href="#tc" x="2496" y="1598"/>
<g transform="translate(2188.0 1598.0)" fill="#fff"><polygon points="-4.5,0 4.5,0 2.2,-129 -2.2,-129"/><polygon points="-1.6,-127.7 -5.6,-142.6 -29.6,-165.5 -10.3,-138.8"/><polygon points="-0.3,-131.1 16.7,-127.4 53.3,-137.4 15.7,-133.4"/><polygon points="2.1,-128.6 -7.0,-115.1 -9.5,-79.9 -1.0,-113.9"/></g>
<use href="#tg" x="2658" y="1602"/>
<g class="h"><path d="M1002 1603L1080 1558L1071 1545L993 1590ZM984 1601L1002 1612L1002 1603L993 1590L984 1592Z"/><path class="g" d="M1002 1612L1080 1567L1080 1558L1002 1603Z"/></g>
<use href="#tc" x="2448" y="1604"/>
<use href="#tc" x="2408" y="1606"/>
<use href="#tc" x="2479" y="1608"/>
<use href="#tg" x="1504" y="1609"/>
<path d="M836 1587v-17M798 1591v-17M826 1583v-22M787 1588v-19M841 1601v-10M874 1607v-26M896 1602v-18M897 1601v-11M784 1579v-9M909 1601v-12M912 1609v-16M793 1583v-13M910 1604v-25M819 1581v-26M785 1590v-16M814 1595v-12M914 1607v-23M908 1602v-20M878 1603v-8M871 1603v-12M794 1578v-15M789 1592v-15M914 1610v-12M803 1586v-15M894 1610v-13M779 1586v-17M865 1603v-23M862 1603v-10M908 1608v-10M799 1589v-14M910 1601v-17M844 1602v-13M900 1608v-18M906 1612v-16M857 1588v-10M871 1591v-16M827 1589v-16M893 1607v-15M848 1604v-24M866 1590v-26M787 1578v-21M802 1592v-18M797 1594v-23M865 1607v-17M840 1600v-25M878 1592v-14M877 1597v-11M844 1587v-17M789 1589v-11M911 1598v-20M870 1593v-20M853 1598v-10M841 1600v-20M813 1586v-25M785 1584v-13M841 1584v-10M895 1602v-13M844 1586v-9M891 1607v-11M825 1583v-12M848 1599v-13M891 1611v-19M786 1578v-21M792 1593v-9M781 1593v-16M854 1598v-9M825 1589v-17M885 1605v-10M838 1601v-10M825 1593v-26M779 1587v-17M848 1601v-10M862 1594v-17M878 1598v-10M882 1604v-16M878 1608v-11M871 1604v-12M905 1601v-21M854 1605v-23M888 1599v-13M857 1602v-16M905 1599v-14M800 1581v-11M783 1585v-20M830 1597v-13M876 1592v-13M783 1578v-23M795 1588v-12M868 1605v-19M908 1613v-16M913 1610v-11M823 1591v-17M788 1592v-15M861 1595v-14M832 1596v-17M874 1606v-9M776 1591v-10M892 1600v-11M779 1582v-20M789 1576v-13M898 1608v-11M834 1591v-21M818 1587v-17M811 1587v-16M851 1587v-12M859 1592v-16M856 1594v-11M903 1596v-17M790 1586v-18M833 1595v-19M825 1583v-12M899 1605v-19M833 1589v-20M853 1603v-10M823 1594v-19M840 1599v-9M868 1595v-19M821 1585v-13M876 1603v-20M839 1585v-17M811 1593v-14M843 1585v-11M882 1600v-26M890 1602v-19M778 1581v-17M781 1591v-10M860 1593v-14M844 1590v-11M869 1601v-10M917 1599v-12M818 1587v-16M907 1597v-18M866 1593v-13M836 1600v-20M848 1587v-12M892 1601v-16M870 1590v-18M876 1592v-13M899 1599v-17M825 1592v-13M822 1598v-18M918 1603v-14M825 1598v-15M875 1593v-17M811 1596v-15M910 1606v-14M850 1603v-20M892 1603v-20M794 1592v-19M869 1595v-17M852 1592v-18M884 1604v-17M875 1597v-20M902 1607v-15M851 1587v-17M893 1604v-17M894 1593v-16M811 1591v-14M859 1604v-14M797 1577v-18M843 1593v-9M796 1577v-22M785 1581v-14M860 1592v-20" stroke="#b9bdb0" stroke-width="1.5" stroke-opacity="0.8" fill="none"/>
<use href="#tc" x="2550" y="1610"/>
<use href="#tg" x="2608" y="1613"/>
<use href="#tc" x="2432" y="1614"/>
<g class="h"><path d="M1022 1614L1100 1569L1090 1556L1012 1601ZM1003 1612L1022 1623L1022 1614L1012 1601L1003 1603Z"/><path class="g" d="M1022 1623L1100 1578L1100 1569L1022 1614Z"/></g>
<use href="#tc" x="2502" y="1616"/>
<use href="#tc" x="2574" y="1618"/>
<use href="#tc" x="2533" y="1620"/>
<use href="#tg" x="1438" y="1620"/>
<use href="#tg" x="2218" y="1621"/>
<use href="#tb" x="1915" y="1623"/>
<g class="h"><path d="M1384 1587L1398 1579L1409 1580L1395 1588ZM1405 1600L1419 1591L1409 1580L1395 1588ZM1384 1598L1405 1610L1405 1600L1395 1588L1384 1587Z"/><path class="g" d="M1405 1610L1419 1602L1419 1591L1405 1600Z"/></g>
<path d="M902 1614v-20M920 1617v-17M961 1600v-14M956 1603v-12M899 1618v-15M911 1612v-19M911 1618v-23M925 1608v-14M916 1609v-16M936 1607v-11M952 1610v-15M937 1606v-16M938 1607v-14M933 1605v-9M925 1608v-15M940 1609v-20M942 1610v-10M962 1608v-17M957 1605v-14M908 1615v-16M957 1608v-18M964 1601v-8M928 1611v-21M911 1610v-22M913 1618v-19M907 1616v-20M916 1618v-9M908 1616v-21M943 1612v-12M901 1617v-13M925 1610v-18M919 1615v-14M920 1617v-11M917 1610v-17M946 1605v-10M939 1607v-14M941 1603v-8M958 1608v-10M913 1613v-16M922 1617v-9M959 1599v-20M968 1604v-17M925 1616v-20M918 1616v-25M912 1613v-17M941 1612v-15M927 1607v-12M959 1601v-19M955 1605v-13M895 1614v-24M969 1606v-11M964 1602v-12M964 1606v-20M915 1610v-10M914 1611v-15M918 1610v-23M920 1607v-8M934 1605v-14M899 1617v-15M934 1606v-24M969 1605v-26M966 1601v-17M929 1614v-11M913 1614v-14M967 1600v-8M927 1615v-9M935 1610v-16M921 1613v-20M967 1603v-15M945 1609v-20M945 1606v-22M921 1610v-10M935 1606v-13M918 1612v-13M967 1602v-17M926 1612v-22M935 1609v-14M909 1612v-9M915 1609v-16M936 1605v-19M930 1612v-12M955 1607v-10M935 1607v-18M922 1609v-9M966 1598v-12M961 1599v-16M929 1612v-19" stroke="#ecc9a0" stroke-width="1.5" stroke-opacity="0.8" fill="none"/>
<use href="#tc" x="2486" y="1626"/>
<g class="h"><path d="M1041 1625L1119 1580L1109 1567L1031 1612ZM1022 1623L1041 1634L1041 1625L1031 1612L1022 1614Z"/><path class="g" d="M1041 1634L1119 1589L1119 1580L1041 1625Z"/></g>
<use href="#tc" x="2556" y="1627"/>
<use href="#tc" x="2445" y="1628"/>
<use href="#tc" x="2516" y="1629"/>
<use href="#ts" x="1561" y="1630"/>
<use href="#tc" x="2587" y="1631"/>
<g transform="translate(1956.8 1629.7)" fill="#fff"><polygon points="-4.5,0 4.5,0 2.2,-129 -2.2,-129"/><polygon points="-1.8,-127.9 -3.7,-143.2 -24.2,-169.3 -8.9,-140.1"/><polygon points="-0.0,-131.1 16.3,-125.1 54.0,-129.9 16.2,-131.2"/><polygon points="2.0,-128.3 -8.9,-116.2 -16.3,-81.7 -3.1,-114.2"/></g>
<use href="#tg" x="1540" y="1632"/>
<g class="h"><path d="M1820 1621L1839 1632L1839 1615L1820 1604ZM1820 1604L1872 1574L1892 1585L1839 1615Z"/><path class="g" d="M1839 1632L1892 1602L1892 1585L1839 1615Z"/></g>
<use href="#tc" x="2468" y="1636"/>
<use href="#tc" x="2540" y="1637"/>
<g class="h"><path d="M1060 1636L1138 1591L1129 1578L1051 1623ZM1041 1634L1060 1645L1060 1636L1051 1623L1041 1625Z"/><path class="g" d="M1060 1645L1138 1600L1138 1591L1060 1636Z"/></g>
<use href="#tc" x="2499" y="1639"/>
<use href="#tc" x="2570" y="1641"/>
<use href="#tg" x="1645" y="1643"/>
<use href="#tc" x="2522" y="1647"/>
<g class="h"><path d="M1079 1647L1157 1602L1148 1589L1070 1635ZM1060 1645L1079 1656L1079 1647L1070 1635L1060 1636Z"/><path class="g" d="M1079 1656L1157 1611L1157 1602L1079 1647Z"/></g>
<use href="#tc" x="2482" y="1649"/>
<use href="#tg" x="2004" y="1650"/>
<use href="#tg" x="334" y="1651"/>
<g class="h"><path d="M910 1655L988 1609L980 1597L900 1642ZM892 1653L910 1664L910 1655L900 1642L892 1644Z"/><path class="g" d="M910 1664L988 1618L988 1609L910 1655Z"/></g>
<use href="#tg" x="877" y="1658"/>
<g class="h"><path d="M1098 1658L1176 1613L1167 1601L1089 1646ZM1080 1656L1098 1667L1098 1658L1089 1646L1080 1647Z"/><path class="g" d="M1098 1667L1176 1622L1176 1613L1098 1658Z"/></g>
<use href="#tc" x="2536" y="1661"/>
<use href="#tcow" x="1356" y="1661" fill="#8d8c9f"/>
<g class="h"><path d="M928 1665L1007 1620L998 1607L919 1653ZM910 1664L928 1674L928 1665L919 1653L910 1655Z"/><path class="g" d="M928 1674L1007 1629L1007 1620L928 1665Z"/></g>
<g class="h"><path d="M1456 1630L1473 1621L1485 1623L1468 1632ZM1481 1644L1497 1635L1485 1623L1468 1632ZM1456 1641L1481 1655L1481 1644L1468 1632L1456 1630Z"/><path class="g" d="M1481 1655L1497 1645L1497 1635L1481 1644Z"/></g>
<use href="#tg" x="2040" y="1668"/>
<use href="#tc" x="2519" y="1670"/>
<g class="h"><path d="M1584 1635L1600 1626L1612 1628L1596 1637ZM1607 1648L1623 1639L1612 1628L1596 1637ZM1584 1646L1607 1659L1607 1648L1596 1637L1584 1635Z"/><path class="g" d="M1607 1659L1623 1650L1623 1639L1607 1648Z"/></g>
<use href="#tcow" x="1887" y="1673" fill="#8d8c9f"/>
<g class="h"><path d="M946 1676L1025 1630L1016 1618L937 1663ZM928 1674L946 1685L946 1676L937 1663L928 1665Z"/><path class="g" d="M946 1685L1025 1639L1025 1630L946 1676Z"/></g>
<g class="h"><path d="M1566 1648L1582 1639L1593 1641L1578 1650ZM1589 1662L1605 1653L1593 1641L1578 1650ZM1566 1659L1589 1672L1589 1662L1578 1650L1566 1648Z"/><path class="g" d="M1589 1672L1605 1663L1605 1653L1589 1662Z"/></g>
<g class="h"><path d="M964 1686L1043 1641L1034 1628L955 1674ZM946 1685L964 1695L964 1686L955 1674L946 1676Z"/><path class="g" d="M964 1695L1043 1650L1043 1641L964 1686Z"/></g>
<g class="h"><path d="M1488 1651L1504 1641L1517 1643L1500 1653ZM1512 1665L1529 1655L1517 1643L1500 1653ZM1488 1661L1512 1675L1512 1665L1500 1653L1488 1651Z"/><path class="g" d="M1512 1675L1529 1666L1529 1655L1512 1665Z"/></g>
<use href="#to" x="1681" y="1695"/>
<g class="h"><path d="M982 1697L1061 1651L1052 1639L973 1684ZM964 1695L982 1706L982 1697L973 1684L964 1686Z"/><path class="g" d="M982 1706L1061 1660L1061 1651L982 1697Z"/></g>
<g class="h"><path d="M1632 1662L1645 1654L1656 1656L1643 1663ZM1653 1674L1666 1667L1656 1656L1643 1663ZM1632 1673L1653 1685L1653 1674L1643 1663L1632 1662Z"/><path class="g" d="M1653 1685L1666 1677L1666 1667L1653 1674Z"/></g>
<g class="h"><path d="M1427 1662L1443 1652L1455 1655L1439 1664ZM1451 1676L1468 1667L1455 1655L1439 1664ZM1427 1673L1451 1687L1451 1676L1439 1664L1427 1662Z"/><path class="g" d="M1451 1687L1468 1677L1468 1667L1451 1676Z"/></g>
<path d="M384 1680v-25M362 1673v-8M375 1671v-18M366 1668v-9M378 1682v-20M475 1740v-16M487 1735v-29M410 1693v-24M474 1731v-10M471 1735v-15M496 1739v-9M365 1665v-24M442 1709v-11M367 1674v-16M491 1741v-23M408 1694v-11M370 1681v-30M453 1716v-11M365 1670v-17M349 1663v-22M346 1660v-19M429 1707v-22M434 1708v-17M481 1742v-28M431 1704v-12M397 1692v-8M460 1729v-15M337 1660v-14M442 1716v-25M398 1696v-22M482 1739v-15M401 1689v-29M459 1728v-20M490 1745v-13M459 1721v-20M360 1674v-14M377 1684v-10M480 1740v-10M456 1724v-20M431 1708v-25M350 1667v-10M387 1679v-29M405 1697v-14M451 1722v-9M413 1702v-13M443 1713v-17M476 1740v-22M405 1695v-23M457 1723v-29M396 1695v-14M355 1670v-11M450 1713v-29M420 1706v-10M440 1712v-13M471 1725v-14M349 1668v-27M346 1660v-14M448 1721v-15M487 1736v-10M470 1725v-12M419 1700v-10M484 1738v-19M374 1682v-13M478 1737v-31M457 1725v-16M472 1731v-10M477 1739v-22M458 1720v-19M461 1732v-29M363 1673v-18M406 1690v-10M413 1698v-14M396 1690v-26M435 1706v-24M391 1693v-20M361 1670v-24M399 1691v-16M348 1658v-10M382 1683v-21M484 1741v-12M485 1741v-17M471 1733v-16M436 1709v-28M372 1682v-9M341 1659v-12M423 1699v-24M441 1717v-19M491 1745v-18M346 1655v-16M491 1740v-20M342 1658v-26M427 1711v-8M375 1673v-28M351 1669v-11M475 1734v-12M490 1741v-16M346 1666v-32M354 1669v-14M364 1669v-16M481 1744v-23M434 1713v-11M451 1721v-15M482 1734v-10M369 1669v-18M467 1725v-20M428 1708v-15M429 1701v-9M408 1692v-26M373 1681v-11M355 1665v-15M389 1688v-11M439 1718v-18M412 1704v-21M373 1670v-9M396 1683v-23M408 1693v-18M487 1737v-11M389 1683v-28M450 1718v-11M351 1659v-24M444 1711v-16M349 1663v-14M353 1668v-22M423 1699v-24M405 1696v-9M485 1732v-12M405 1690v-9M440 1721v-14M379 1682v-13M399 1694v-14M369 1668v-15M488 1746v-9M417 1701v-12M443 1716v-24M380 1686v-25M417 1696v-17M357 1670v-18M423 1711v-9M447 1722v-11M395 1682v-21M453 1719v-17M394 1691v-12M491 1742v-8M351 1667v-21M442 1710v-20M455 1717v-13M449 1712v-9M390 1691v-29M384 1688v-25M472 1733v-28M434 1716v-15M370 1675v-17M393 1686v-18M434 1707v-11M417 1701v-15M446 1713v-15M379 1683v-16M460 1725v-12M482 1738v-15M386 1682v-24M466 1728v-21M373 1676v-16M389 1683v-26M456 1719v-13M459 1727v-21M436 1714v-11M351 1662v-9M488 1741v-24M485 1743v-14M397 1684v-25M454 1721v-17M382 1681v-18M474 1738v-28M409 1695v-13M494 1740v-10M378 1685v-28M387 1689v-29M409 1692v-23M402 1687v-21M409 1695v-16M385 1676v-13M404 1687v-17M459 1722v-16M440 1709v-8M443 1717v-13M367 1677v-19M375 1678v-16M395 1682v-15M438 1714v-19M362 1666v-14M406 1693v-20M352 1671v-12M475 1730v-15M404 1687v-27M468 1726v-18M408 1702v-9M402 1689v-20M456 1727v-15M396 1693v-11M377 1682v-14M498 1741v-14M379 1672v-9M356 1665v-15M421 1700v-17M414 1706v-12M419 1702v-15M476 1730v-20M397 1687v-22M429 1705v-9M489 1739v-10M441 1715v-15M386 1688v-16M399 1697v-14M406 1690v-17M443 1715v-13M372 1680v-14M470 1729v-25M348 1658v-20M443 1718v-14M416 1696v-12M437 1715v-11M444 1711v-17M366 1672v-15M429 1703v-20M439 1708v-14M444 1717v-23M459 1726v-11M404 1698v-17M458 1722v-14M486 1744v-23M355 1668v-9M478 1742v-17M377 1683v-11M467 1729v-8M478 1734v-20M446 1717v-29M367 1678v-14M346 1659v-10M350 1665v-10M367 1670v-13M477 1740v-24M493 1743v-21M378 1685v-27" stroke="#ecc9a0" stroke-width="1.5" stroke-opacity="0.8" fill="none"/>
<use href="#tg" x="1405" y="1702"/>
<g class="h"><path d="M1969 1667L1982 1659L1994 1661L1981 1669ZM1992 1680L2005 1673L1994 1661L1981 1669ZM1969 1678L1992 1691L1992 1680L1981 1669L1969 1667Z"/><path class="g" d="M1992 1691L2005 1683L2005 1673L1992 1680Z"/></g>
<g class="h"><path d="M1524 1671L1541 1661L1553 1664L1537 1673ZM1549 1685L1565 1676L1553 1664L1537 1673ZM1524 1682L1549 1696L1549 1685L1537 1673L1524 1671Z"/><path class="g" d="M1549 1696L1565 1686L1565 1676L1549 1685Z"/></g>
<g class="h"><path d="M1000 1707L1080 1662L1070 1649L992 1695ZM982 1706L1000 1716L1000 1707L992 1695L982 1697Z"/><path class="g" d="M1000 1716L1080 1671L1080 1662L1000 1707Z"/></g>
<g class="h"><path d="M1949 1677L1962 1670L1973 1671L1960 1679ZM1972 1691L1985 1683L1973 1671L1960 1679ZM1949 1688L1972 1701L1972 1691L1960 1679L1949 1677Z"/><path class="g" d="M1972 1701L1985 1694L1985 1683L1972 1691Z"/></g>
<polygon points="1010.0,1736.1 1056.0,1762.6 1210.0,1673.7 1210.0,1663.7 1164.0,1637.2 1010.0,1726.1" fill="#5b4a42"/><polygon points="1056.0,1762.6 1210.0,1673.7 1210.0,1663.7 1056.0,1752.6" fill="#6b5b50" stroke="#333" stroke-width="1.5"/><polygon points="1010.0,1736.1 1056.0,1762.6 1056.0,1752.6 1010.0,1726.1" fill="#7a6a5e" stroke="#333" stroke-width="1.5"/><polygon points="1017.0,1725.5 1164.0,1640.6 1204.0,1663.7 1057.0,1748.6" fill="#c6e4e2" stroke="#444" stroke-width="1.5"/>
<g class="h"><path d="M1409 1685L1426 1676L1437 1677L1421 1687ZM1432 1698L1449 1689L1437 1677L1421 1687ZM1409 1696L1432 1709L1432 1698L1421 1687L1409 1685Z"/><path class="g" d="M1432 1709L1449 1699L1449 1689L1432 1698Z"/></g>
<use href="#tcow" x="1381" y="1723" fill="#8d8c9f"/>
<use href="#tg" x="2403" y="1726"/>
<g class="h"><path d="M1684 1699L1696 1692L1705 1692L1693 1699ZM1702 1709L1714 1702L1705 1692L1693 1699ZM1684 1709L1702 1720L1702 1709L1693 1699L1684 1699Z"/><path class="g" d="M1702 1720L1714 1713L1714 1702L1702 1709Z"/></g>
<use href="#tg" x="2147" y="1735"/>
<use href="#tg" x="1206" y="1736"/>
<g class="h"><path d="M1937 1703L1950 1696L1959 1697L1947 1704ZM1957 1714L1969 1707L1959 1697L1947 1704ZM1937 1714L1957 1725L1957 1714L1947 1704L1937 1703Z"/><path class="g" d="M1957 1725L1969 1718L1969 1707L1957 1714Z"/></g>
<use href="#tg" transform="translate(1232 1745) scale(0.50)"/>
<g class="h"><path d="M1591 1710L1607 1701L1618 1702L1603 1711ZM1614 1723L1630 1714L1618 1702L1603 1711ZM1591 1720L1614 1734L1614 1723L1603 1711L1591 1710Z"/><path class="g" d="M1614 1734L1630 1725L1630 1714L1614 1723Z"/></g>
<g class="h"><path d="M1443 1737L1463 1748L1463 1732L1443 1721ZM1443 1721L1504 1686L1524 1697L1463 1732Z"/><path class="g" d="M1463 1748L1524 1713L1524 1697L1463 1732Z"/></g>
<g class="h"><path d="M1707 1715L1718 1708L1727 1708L1716 1715ZM1725 1725L1737 1718L1727 1708L1716 1715ZM1707 1725L1725 1736L1725 1725L1716 1715L1707 1715Z"/><path class="g" d="M1725 1736L1737 1729L1737 1718L1725 1725Z"/></g>
<use href="#tg" x="2175" y="1751"/>
<use href="#tcow" x="309" y="1752" fill="#8d8c9f"/>
<use href="#tg" x="1758" y="1754"/>
<g class="h"><path d="M1566 1719L1582 1710L1593 1712L1578 1721ZM1589 1732L1605 1723L1593 1712L1578 1721ZM1566 1730L1589 1743L1589 1732L1578 1721L1566 1719Z"/><path class="g" d="M1589 1743L1605 1734L1605 1723L1589 1732Z"/></g>
<use href="#to" x="2206" y="1760"/>
<g class="h"><path d="M1624 1730L1640 1720L1653 1723L1636 1732ZM1649 1744L1665 1735L1653 1723L1636 1732ZM1624 1741L1649 1755L1649 1744L1636 1732L1624 1730Z"/><path class="g" d="M1649 1755L1665 1745L1665 1735L1649 1744Z"/></g>
<path d="M1835 1817v-11M1699 1733v-12M1747 1765v-12M1666 1722v-17M1756 1768v-12M1801 1790v-17M1845 1823v-9M1604 1685v-11M1706 1743v-17M1671 1723v-27M1721 1748v-25M1823 1811v-26M1797 1799v-11M1776 1778v-10M1682 1732v-16M1674 1727v-25M1796 1792v-19M1620 1686v-9M1688 1727v-22M1711 1748v-17M1696 1734v-9M1712 1750v-22M1844 1816v-16M1818 1802v-9M1656 1707v-19M1778 1788v-9M1778 1786v-10M1614 1693v-18M1619 1687v-24M1643 1704v-11M1622 1692v-22M1823 1803v-17M1616 1690v-12M1679 1731v-25M1771 1780v-12M1771 1784v-10M1818 1804v-13M1765 1779v-10M1649 1708v-11M1725 1758v-9M1712 1741v-12M1747 1770v-15M1741 1764v-20M1851 1823v-11M1835 1817v-25M1633 1702v-10M1636 1696v-17M1704 1742v-20M1709 1744v-15M1700 1735v-8M1662 1718v-23M1777 1781v-14M1650 1706v-29M1752 1766v-17M1728 1751v-16M1706 1746v-23M1673 1722v-14M1849 1820v-20M1602 1680v-14M1605 1679v-15M1723 1749v-9M1684 1726v-11M1757 1767v-20M1787 1782v-20M1760 1777v-17M1814 1805v-14M1807 1802v-20M1843 1815v-20M1690 1733v-23M1642 1704v-8M1603 1687v-13M1713 1741v-29M1726 1757v-12M1721 1747v-16M1781 1785v-23M1674 1728v-8M1640 1705v-33M1821 1804v-25M1716 1748v-17M1755 1774v-22M1676 1728v-13M1779 1779v-16M1671 1727v-24M1694 1739v-10M1791 1792v-8M1721 1745v-34M1623 1694v-15M1626 1700v-17M1761 1770v-10M1687 1725v-13M1728 1752v-27M1638 1698v-15M1779 1781v-13M1632 1697v-16M1808 1797v-13M1795 1789v-9M1847 1827v-12M1672 1721v-13M1799 1799v-19M1698 1741v-32M1644 1707v-12M1851 1828v-16M1793 1789v-9M1736 1753v-18M1819 1807v-14M1653 1711v-21M1836 1812v-18M1716 1745v-12M1697 1736v-13M1681 1727v-20M1725 1750v-9M1734 1756v-11M1720 1750v-14M1788 1790v-9M1611 1686v-23M1746 1761v-17M1786 1786v-15M1656 1714v-17M1596 1681v-21M1850 1829v-21M1722 1747v-17M1709 1741v-10M1753 1771v-23M1641 1700v-16M1628 1700v-20M1764 1772v-15M1799 1793v-17M1750 1771v-20M1772 1779v-21M1753 1770v-13M1625 1695v-12M1853 1823v-22M1688 1727v-16M1677 1730v-24M1626 1693v-9M1726 1753v-12M1773 1779v-22M1777 1779v-24M1608 1682v-9M1845 1822v-25M1860 1825v-31M1601 1683v-23M1694 1739v-28M1730 1752v-11M1617 1690v-21M1646 1707v-9M1675 1725v-11M1738 1755v-20M1649 1713v-30M1851 1822v-17M1611 1692v-18M1611 1682v-9M1684 1733v-28M1680 1729v-8M1741 1760v-9M1835 1818v-21M1763 1775v-10M1718 1752v-16M1764 1774v-16M1604 1679v-11M1626 1690v-19M1855 1829v-30M1649 1712v-17M1823 1805v-13M1738 1756v-13M1784 1789v-26M1770 1776v-20M1749 1767v-26M1741 1766v-16M1719 1743v-13M1728 1748v-17M1630 1695v-20M1840 1814v-18M1729 1749v-16M1738 1758v-16M1614 1689v-20M1647 1708v-29M1829 1813v-20M1793 1791v-23M1694 1735v-26M1749 1767v-15M1687 1732v-19M1714 1744v-13M1757 1775v-11M1767 1776v-17M1771 1778v-8M1692 1733v-19M1837 1819v-17M1686 1733v-10M1828 1811v-16M1778 1783v-27M1634 1694v-21M1660 1711v-34M1738 1757v-17M1659 1711v-11M1850 1827v-17M1622 1698v-22M1619 1695v-19M1855 1826v-18M1599 1680v-13M1830 1809v-28M1682 1730v-18M1840 1819v-15M1669 1717v-10M1678 1722v-22M1600 1680v-15M1637 1704v-13M1795 1788v-28M1683 1723v-12M1655 1707v-12M1852 1824v-17M1798 1789v-9M1826 1808v-12M1643 1708v-23M1700 1740v-14M1653 1708v-16M1660 1718v-10M1696 1738v-8M1847 1824v-17M1651 1706v-22M1856 1822v-23M1654 1706v-18M1619 1695v-28M1676 1720v-21M1797 1788v-17M1631 1696v-12M1619 1691v-15M1831 1818v-24M1730 1756v-17M1719 1749v-14M1710 1747v-27M1786 1791v-16M1620 1688v-21M1794 1795v-26M1803 1794v-9M1725 1750v-27M1833 1815v-28M1787 1788v-18M1843 1823v-22M1858 1825v-24M1743 1760v-11M1745 1768v-12M1827 1816v-11M1742 1761v-14M1631 1695v-20M1812 1807v-20M1732 1751v-19M1744 1769v-9M1773 1775v-33M1649 1710v-19M1652 1709v-14M1646 1705v-9M1777 1788v-20M1702 1739v-12M1788 1791v-9M1700 1733v-17M1598 1683v-9M1818 1802v-15M1779 1788v-30M1635 1703v-19M1642 1704v-22M1601 1683v-19M1828 1811v-12M1823 1804v-20M1679 1720v-12M1822 1804v-20M1632 1703v-9M1769 1778v-16M1841 1816v-33M1743 1766v-14M1855 1830v-20M1651 1713v-23M1851 1829v-18M1789 1785v-23M1788 1784v-9M1627 1692v-24M1796 1795v-14M1845 1817v-14M1715 1743v-20M1813 1805v-15M1751 1765v-17M1740 1756v-19M1806 1802v-10M1656 1715v-21M1754 1774v-14M1657 1713v-14M1694 1737v-13M1782 1786v-9M1727 1757v-19M1818 1807v-34M1609 1684v-11M1797 1791v-19M1773 1774v-22M1686 1727v-18M1765 1772v-20M1622 1687v-20M1835 1821v-22M1790 1790v-21M1733 1762v-32M1714 1742v-21M1705 1744v-32M1763 1769v-20M1631 1698v-20M1773 1779v-10M1836 1821v-19M1610 1688v-14M1703 1738v-12M1633 1701v-19M1708 1745v-20M1642 1702v-18M1770 1779v-26M1688 1734v-16M1668 1715v-22M1814 1808v-29M1811 1803v-12M1671 1725v-12M1723 1752v-8M1630 1694v-25M1806 1794v-12M1858 1825v-23M1747 1769v-25M1621 1695v-26M1604 1687v-15M1718 1749v-17M1751 1762v-19M1738 1755v-16M1648 1707v-18M1797 1790v-15M1849 1825v-11M1759 1769v-9M1773 1775v-11M1770 1783v-10M1796 1789v-9M1607 1678v-27M1839 1812v-11M1611 1685v-12M1645 1709v-10M1766 1772v-24M1635 1696v-25M1668 1718v-25M1857 1829v-10M1770 1780v-23M1695 1738v-9M1740 1761v-30M1803 1794v-15M1754 1767v-9M1857 1827v-11M1643 1699v-30M1634 1700v-20M1797 1794v-13M1770 1782v-11M1658 1712v-16M1828 1813v-15M1790 1786v-10M1600 1681v-20M1718 1749v-11M1652 1711v-18M1724 1756v-18M1796 1788v-14M1615 1685v-12M1701 1734v-24M1678 1723v-9M1691 1736v-16M1829 1813v-23M1706 1745v-19M1637 1698v-19M1616 1685v-22M1776 1781v-17M1706 1742v-9M1700 1743v-16M1685 1731v-32M1720 1748v-29M1822 1805v-19M1677 1723v-25M1688 1735v-21M1827 1807v-13M1603 1686v-28M1725 1751v-27M1700 1736v-11M1834 1818v-21M1784 1790v-24M1625 1696v-21M1722 1750v-24M1650 1706v-21M1860 1826v-24M1734 1752v-12M1675 1726v-11M1694 1735v-27M1854 1830v-11M1742 1763v-21M1754 1768v-12M1768 1781v-18M1764 1780v-14M1744 1767v-25M1598 1679v-19M1652 1708v-23M1716 1747v-18M1819 1806v-21M1782 1784v-18M1681 1721v-19M1612 1684v-28M1853 1823v-11M1690 1731v-10M1811 1798v-20M1667 1720v-10M1723 1755v-8M1653 1705v-23M1775 1778v-22M1643 1705v-18M1759 1766v-9M1641 1709v-31M1681 1721v-23M1646 1711v-31M1799 1798v-28M1815 1803v-27M1599 1682v-18" stroke="#ecc9a0" stroke-width="1.5" stroke-opacity="0.8" fill="none"/>
<g class="h"><path d="M1549 1739L1563 1731L1574 1732L1560 1741ZM1572 1752L1586 1744L1574 1732L1560 1741ZM1549 1749L1572 1763L1572 1752L1560 1741L1549 1739Z"/><path class="g" d="M1572 1763L1586 1755L1586 1744L1572 1752Z"/></g>
<use href="#tg" x="547" y="1785"/>
<g class="h"><path d="M1526 1749L1540 1741L1552 1742L1538 1750ZM1549 1762L1563 1754L1552 1742L1538 1750ZM1526 1759L1549 1773L1549 1762L1538 1750L1526 1749Z"/><path class="g" d="M1549 1773L1563 1765L1563 1754L1549 1762Z"/></g>
<use href="#tg" transform="translate(2243 1790) scale(0.55)"/>
<use href="#tg" x="1740" y="1791"/>
<use href="#ts" x="1688" y="1793"/>
<use href="#ts" x="1708" y="1793"/>
<g class="h"><path d="M1504 1759L1518 1751L1529 1753L1515 1761ZM1527 1772L1540 1764L1529 1753L1515 1761ZM1504 1770L1527 1783L1527 1772L1515 1761L1504 1759Z"/><path class="g" d="M1527 1783L1540 1775L1540 1764L1527 1772Z"/></g>
<use href="#ts" x="1311" y="1802"/>
<g class="h"><path d="M1481 1771L1495 1763L1506 1764L1492 1772ZM1504 1784L1518 1776L1506 1764L1492 1772ZM1481 1781L1504 1794L1504 1784L1492 1772L1481 1771Z"/><path class="g" d="M1504 1794L1518 1786L1518 1776L1504 1784Z"/></g>
<g class="h"><path d="M1617 1771L1634 1761L1646 1764L1630 1773ZM1642 1785L1658 1776L1646 1764L1630 1773ZM1617 1781L1642 1796L1642 1785L1630 1773L1617 1771Z"/><path class="g" d="M1642 1796L1658 1786L1658 1776L1642 1785Z"/></g>
<use href="#tg" x="1424" y="1809"/>
<g class="h"><path d="M1820 1776L1832 1769L1841 1769L1829 1776ZM1839 1786L1850 1780L1841 1769L1829 1776ZM1820 1786L1839 1797L1839 1786L1829 1776L1820 1776Z"/><path class="g" d="M1839 1797L1850 1790L1850 1780L1839 1786Z"/></g>
<use href="#ts" x="1554" y="1811"/>
<use href="#ts" x="1440" y="1813"/>
<use href="#ts" x="1660" y="1816"/>
<use href="#to" x="1874" y="1818"/>
<g transform="translate(2285.0 1817.7)" fill="#fff"><polygon points="-4.5,0 4.5,0 2.2,-129 -2.2,-129"/><polygon points="-1.8,-127.9 -3.7,-143.2 -24.2,-169.3 -8.9,-140.1"/><polygon points="-0.0,-131.1 16.3,-125.1 54.0,-129.9 16.2,-131.2"/><polygon points="2.0,-128.3 -8.9,-116.2 -16.3,-81.7 -3.1,-114.2"/></g>
<use href="#tg" x="1792" y="1820"/>
<use href="#ts" x="1427" y="1825"/>
<use href="#to" x="1390" y="1827"/>
<g class="h"><path d="M1585 1791L1602 1782L1614 1784L1598 1793ZM1610 1805L1626 1796L1614 1784L1598 1793ZM1585 1802L1610 1816L1610 1805L1598 1793L1585 1791Z"/><path class="g" d="M1610 1816L1626 1807L1626 1796L1610 1805Z"/></g>
<use href="#tg" x="1172" y="1834"/>
<use href="#tcow" x="1647" y="1834" fill="#8d8c9f"/>
<g class="h"><path d="M1329 1801L1341 1793L1351 1794L1339 1801ZM1349 1812L1361 1805L1351 1794L1339 1801ZM1329 1811L1349 1823L1349 1812L1339 1801L1329 1801Z"/><path class="g" d="M1349 1823L1361 1815L1361 1805L1349 1812Z"/></g>
<use href="#ts" x="1406" y="1838"/>
<use href="#ts" x="1447" y="1856"/>
<use href="#tcow" x="1597" y="1856" fill="#8d8c9f"/>
<use href="#tg" transform="translate(917 1861) scale(0.95)"/>
<g class="h"><path d="M1838 1843L1849 1836L1841 1826L1829 1833ZM1821 1844L1838 1853L1838 1843L1829 1833L1821 1833Z"/><path class="g" d="M1838 1853L1849 1847L1849 1836L1838 1843Z"/></g>
<use href="#ts" x="1835" y="1872"/>
<path d="M446 1835L469 1822L525 1853V1861L499 1875L446 1843Z" fill="#fff" stroke="#d9d9d9" stroke-width="1.5"/><path d="M446 1835L499 1866L525 1853M499 1866V1875" fill="none" stroke="#e4e4e4" stroke-width="1.2"/>
<g class="h"><path d="M1860 1854L1872 1847L1864 1838L1852 1844ZM1844 1855L1860 1865L1860 1854L1852 1844L1844 1844Z"/><path class="g" d="M1860 1865L1872 1858L1872 1847L1860 1854Z"/></g>
<use href="#tg" transform="translate(898 1879) scale(0.55)"/>
<path d="M996 1889v-27M938 1856v-18M1460 2159v-25M1470 2154v-24M1459 2162v-10M585 1651v-10M720 1720v-20M1287 2064v-12M1219 2020v-12M1392 2126v-15M1478 2162v-23M1509 2190v-11M916 1843v-18M667 1696v-28M473 1590v-17M476 1586v-25M1012 1888v-33M1290 2068v-10M747 1735v-31M751 1739v-17M1426 2142v-13M605 1674v-22M1213 2004v-10M1194 2000v-10M1458 2156v-28M536 1633v-10M1381 2108v-16M1038 1923v-13M591 1657v-14M577 1641v-10M673 1699v-15M1273 2042v-17M647 1685v-8M732 1726v-19M1051 1913v-22M1465 2148v-26M917 1843v-33M875 1819v-28M1511 2180v-22M1209 2014v-14M835 1786v-12M524 1624v-14M637 1673v-30M1385 2115v-15M717 1724v-21M623 1674v-16M1477 2175v-24M706 1733v-13M846 1791v-19M963 1869v-14M1005 1882v-13M551 1631v-9M481 1589v-14M1081 1938v-30M1155 1984v-32M875 1815v-35M609 1672v-18M493 1608v-26M1122 1966v-26M602 1663v-23M1344 2095v-27M1072 1941v-25M1203 2001v-9M599 1658v-11M1350 2092v-23M1122 1965v-22M451 1583v-19M992 1887v-28M519 1621v-12M538 1620v-27M669 1706v-37M986 1880v-19M1182 2001v-24M1152 1968v-10M721 1736v-15M1072 1921v-9M738 1745v-27M1183 1991v-17M953 1863v-10M1419 2124v-27M1468 2148v-19M1324 2087v-15M747 1739v-32M678 1708v-12M1007 1905v-12M1334 2082v-21M1214 2007v-34M985 1871v-8M982 1879v-16M607 1662v-17M1365 2089v-26M1362 2089v-22M1211 2021v-13M855 1805v-36M1089 1938v-21M758 1741v-10M1354 2089v-23M725 1728v-23M659 1693v-27M1396 2125v-27M1425 2145v-16M1235 2015v-28M932 1858v-27M769 1748v-23M590 1655v-13M768 1763v-29M729 1739v-16M1054 1919v-11M632 1673v-22M992 1880v-31M1524 2190v-10M668 1691v-13M556 1630v-16M1057 1932v-27M898 1830v-24M861 1807v-9M742 1754v-11M991 1889v-22M690 1708v-13M883 1823v-35M1357 2104v-8M483 1600v-23M960 1870v-8M865 1823v-26M1362 2109v-13M577 1640v-23M1177 2002v-29M1143 1979v-21M1054 1911v-31M694 1725v-25M787 1760v-12M1132 1971v-11M528 1621v-18M875 1813v-23M468 1581v-15M1480 2169v-28M969 1867v-12M1481 2171v-16M476 1591v-28M909 1833v-25M1452 2144v-9M818 1784v-24M660 1703v-26M1001 1885v-36M781 1773v-14M686 1717v-13M1475 2163v-11M695 1714v-19M1479 2157v-15M672 1714v-11M517 1604v-20M1410 2135v-26M1516 2196v-13M644 1697v-26M484 1599v-15M858 1805v-11M460 1577v-17M1487 2161v-25M679 1703v-22M1337 2082v-9M964 1867v-30M663 1695v-25M487 1595v-23M1286 2044v-9M512 1621v-13M1248 2042v-16M736 1750v-26M730 1741v-15M759 1741v-30M1435 2143v-25M484 1589v-16M1472 2171v-15M724 1731v-21M1456 2145v-32M1240 2036v-20M1109 1949v-16M836 1803v-10M660 1702v-15M532 1612v-24M793 1783v-21M1519 2183v-11M557 1637v-27M938 1849v-16M1116 1961v-23M1359 2100v-11M1360 2092v-18M849 1810v-14M724 1727v-12M1401 2122v-13M869 1827v-19M695 1723v-27M1525 2183v-22M1326 2085v-23M500 1600v-11M647 1699v-24M1455 2148v-25M940 1851v-30M1477 2155v-26M1124 1956v-17M611 1661v-16M1094 1948v-14M469 1582v-21M656 1689v-13M1306 2067v-10M564 1638v-19M1148 1966v-11M1202 2004v-16M774 1772v-17M1064 1924v-15M1371 2115v-15M660 1701v-13M451 1586v-19M1336 2081v-32M955 1857v-8M1043 1918v-31M546 1634v-14M1002 1884v-12M1004 1903v-11M974 1883v-25M672 1694v-36M1501 2177v-9M1450 2146v-26M1113 1963v-11M1303 2058v-19M1355 2102v-13M689 1710v-22M872 1809v-12M1224 2028v-9M1052 1926v-9M1361 2089v-17M1041 1917v-14M903 1837v-18M1162 1982v-19M476 1593v-21M700 1725v-30M952 1856v-16M575 1639v-17M553 1633v-17M494 1604v-9M1235 2032v-22M511 1611v-18M1481 2158v-25M1518 2193v-28M651 1702v-18M1472 2171v-11M1291 2067v-9M825 1796v-11M1420 2126v-31M607 1666v-36M681 1703v-23M805 1768v-12M617 1682v-25M1421 2125v-28M576 1648v-18M832 1803v-18M1068 1939v-11M1517 2190v-14M1314 2065v-24M1076 1931v-22M934 1846v-26M498 1611v-13M1130 1976v-24M1170 1984v-8M496 1594v-26M917 1843v-34M600 1655v-28M487 1585v-18M570 1641v-14M1078 1937v-12M1124 1961v-10M1464 2151v-11M553 1638v-26M1295 2058v-16M462 1586v-19M826 1795v-21M1455 2157v-14M1432 2128v-16M894 1824v-9M1299 2051v-18M1471 2152v-14M1106 1952v-20M1333 2074v-15M784 1757v-34M1290 2062v-8M1355 2100v-16M1251 2033v-13M571 1639v-9M808 1787v-24M1357 2100v-12M1049 1917v-20M1020 1897v-22M1495 2168v-31M474 1584v-12M1243 2040v-20M796 1783v-17M702 1729v-26M1194 2006v-24M950 1870v-28M1375 2104v-30M1069 1926v-14M1130 1956v-35M618 1661v-11M1454 2147v-12M493 1590v-23M1130 1970v-27M522 1619v-15M1325 2084v-22M517 1622v-22M1475 2154v-14M583 1641v-27M1322 2079v-31M1136 1964v-9M553 1641v-11M797 1773v-8M733 1733v-21M852 1802v-27M987 1891v-27M488 1595v-17M1286 2051v-21M1036 1905v-29M544 1637v-12M460 1575v-21M1513 2173v-21M975 1883v-11M987 1880v-21M724 1743v-13M680 1712v-23M568 1647v-10M1295 2065v-31M1130 1962v-19M869 1825v-9M1417 2119v-14M728 1744v-16M853 1815v-14M947 1861v-30M1259 2042v-16M811 1774v-27M1159 1988v-13M919 1851v-25M589 1654v-25M715 1720v-14M1201 2014v-12M626 1670v-14M1021 1895v-18M647 1699v-28M553 1645v-11M856 1819v-31M1242 2028v-14M1146 1965v-11M879 1811v-20M1299 2066v-23M1133 1966v-11M1103 1948v-20M1430 2135v-24M1259 2037v-13M1221 2026v-20M1198 2012v-24M1143 1972v-16M1136 1959v-18M1289 2061v-26M723 1730v-21M1122 1959v-28M1458 2146v-26M1291 2055v-18M1509 2172v-20M620 1680v-31M1019 1892v-17M1030 1913v-23M1133 1975v-22M885 1835v-12M1190 1997v-20M575 1658v-14M518 1610v-14M469 1585v-16M1206 2005v-12M689 1718v-22M1025 1898v-20M880 1815v-11M1281 2059v-19M956 1867v-12M1491 2169v-27M1326 2085v-15M768 1759v-12M1351 2089v-31M743 1740v-14M917 1836v-8M1233 2019v-13M778 1763v-17M1134 1971v-19M1443 2153v-9M1334 2092v-27M597 1668v-27M479 1581v-30M1162 1978v-11M612 1662v-24M832 1786v-27M1310 2061v-24M1101 1955v-27M1407 2131v-32M661 1701v-16M1251 2033v-31M1054 1916v-12M603 1663v-10M962 1861v-16M987 1884v-32M453 1585v-20M1054 1925v-27M857 1807v-35M531 1625v-24M481 1596v-27M1457 2149v-36M1002 1891v-31M485 1601v-21M809 1790v-19M962 1870v-27M681 1706v-18M1042 1922v-17M1344 2086v-23M745 1745v-34M1150 1984v-15M798 1770v-25M1129 1971v-9M1221 2027v-16M510 1606v-8M649 1699v-23M1154 1986v-25M1108 1955v-25M1199 2007v-28M678 1710v-18M1280 2042v-11M487 1603v-33M1160 1979v-22M1297 2062v-16M779 1762v-14M913 1844v-34M510 1612v-9M574 1654v-18M1441 2142v-8M867 1817v-22M1507 2181v-18M560 1642v-14M626 1665v-8M1195 1994v-29M540 1636v-12M468 1591v-13M1247 2025v-9M1280 2056v-25M1245 2022v-18M1216 2013v-22M717 1739v-21M475 1579v-21M1339 2075v-14M1243 2022v-32M984 1872v-14M1072 1930v-27M603 1670v-19M1143 1976v-21M862 1818v-27M1294 2061v-17M509 1620v-29M1345 2085v-17M1496 2183v-18M786 1766v-22M854 1811v-24M1409 2132v-14M460 1576v-21M1077 1942v-29M492 1607v-23M1383 2112v-16M1361 2105v-26M1437 2138v-10M1042 1922v-13M1250 2044v-12M1101 1953v-16M680 1702v-30M1304 2064v-9M1314 2077v-14M1068 1939v-33M1014 1898v-25M662 1690v-13M1209 2007v-19M885 1825v-10M491 1611v-16M564 1644v-31M619 1675v-18M1020 1891v-9M1509 2191v-22M1067 1924v-27M902 1845v-24M1323 2087v-12M500 1597v-11M552 1624v-19M1389 2113v-23M1439 2132v-24M887 1817v-30M728 1736v-25M1477 2168v-19M941 1849v-30M1524 2184v-9M731 1733v-30M1418 2138v-9M1293 2064v-27M1520 2179v-11M1255 2047v-21M772 1762v-22M570 1640v-16M587 1653v-11M716 1720v-28M462 1588v-13M483 1604v-14M1449 2156v-22M604 1663v-10M1444 2153v-21M942 1854v-20M963 1873v-12M700 1709v-29M1054 1914v-26M741 1740v-10M737 1748v-15M633 1680v-13M1431 2129v-37M506 1617v-19M680 1707v-12M736 1732v-18M1507 2193v-30M562 1635v-22M510 1615v-13M1514 2174v-27M826 1783v-8M1346 2090v-13M912 1850v-13M1074 1925v-13M1276 2054v-11M546 1621v-23M990 1880v-14M1107 1957v-25M1085 1933v-10M1242 2027v-24M506 1615v-17M1350 2100v-18M461 1592v-15M1394 2111v-12M1349 2088v-13M850 1807v-8M1012 1897v-21M578 1654v-28M1386 2108v-19M858 1815v-9M1381 2120v-16M1004 1894v-22M466 1595v-15M657 1685v-12M1340 2075v-10M1210 2004v-8M1095 1947v-16M1216 2005v-34M1232 2013v-12M983 1881v-12M586 1651v-12M1081 1946v-12M1063 1933v-13M1331 2091v-15M898 1840v-23M869 1826v-31M822 1783v-18M911 1851v-29M1427 2143v-26M510 1610v-36M1461 2149v-15M1135 1965v-24M529 1619v-20M483 1586v-28M1278 2060v-24M1314 2080v-24M487 1600v-14M1186 1992v-16M1443 2148v-14M1013 1897v-29M766 1752v-22M580 1652v-37M1009 1891v-15M1033 1902v-11M598 1656v-15M768 1752v-10M1033 1917v-26M1062 1930v-12M1217 2014v-16M1112 1954v-16M719 1723v-17M863 1814v-8M825 1799v-12M1051 1920v-17M1518 2183v-26M632 1670v-22M934 1843v-14M921 1851v-10M686 1721v-29M622 1671v-16M1176 1994v-24M1335 2083v-20M1246 2038v-19M1292 2063v-35M582 1660v-8M1274 2050v-17M1486 2171v-15M1287 2064v-26M862 1810v-15M1234 2020v-17M1052 1918v-15M1291 2066v-22M936 1847v-14M607 1667v-17M539 1636v-14M1352 2100v-33M674 1702v-35M474 1579v-24M979 1888v-24M1021 1914v-20M1005 1898v-17M835 1799v-17M1468 2163v-18M562 1637v-19M1054 1924v-23M1489 2171v-20M1114 1967v-17M1016 1907v-11M785 1779v-25M1011 1888v-21M1188 2006v-27M1408 2123v-11M764 1756v-17M661 1689v-27M1104 1947v-31M1146 1964v-20M1303 2060v-19M461 1577v-23M1079 1940v-13M987 1884v-16M1147 1976v-24M1072 1930v-12M616 1677v-11M567 1635v-22M1335 2085v-26M529 1610v-30M795 1778v-16M640 1679v-11M1422 2135v-18M938 1853v-9M1408 2126v-27M923 1849v-15M492 1609v-25M783 1776v-24M777 1765v-23M976 1887v-12M867 1820v-12M778 1772v-16M1310 2062v-13M844 1794v-31M764 1757v-11M1029 1904v-17M531 1613v-24M835 1791v-11M763 1749v-9M1170 1984v-11M1219 2007v-16M1357 2087v-15M1345 2096v-12M828 1797v-14M1488 2164v-36M1001 1885v-21M590 1660v-16M1417 2132v-19M715 1730v-13M1397 2110v-18M1040 1909v-26M863 1816v-24M789 1767v-10M636 1690v-18M1173 1981v-23M841 1800v-14M528 1616v-14M584 1657v-16M878 1830v-30M1394 2125v-11M759 1742v-24M1169 1984v-16M1157 1985v-14M1365 2097v-25M656 1685v-22M1237 2032v-9M503 1598v-12M781 1762v-9M784 1770v-13M1353 2095v-20M728 1733v-22M838 1786v-29M1291 2053v-9M1368 2104v-9M723 1723v-32M670 1711v-25M542 1633v-18M1249 2041v-15M541 1638v-14M1448 2152v-21M1342 2090v-15M507 1613v-20M994 1897v-10M1280 2041v-27M1323 2070v-17M1491 2176v-24M730 1726v-16M901 1827v-13M596 1664v-26M714 1721v-17M922 1856v-18M767 1766v-11M1061 1922v-30M1037 1918v-11M1167 1989v-16M1269 2053v-11M767 1754v-12M522 1612v-11M1208 2009v-11M802 1777v-17M642 1676v-8M1514 2191v-10M1214 2024v-25M570 1644v-21M656 1695v-8M1438 2145v-23M1454 2155v-14M724 1724v-9M1278 2058v-12M650 1693v-32M1455 2144v-31M1340 2091v-15M645 1695v-17M848 1805v-17M1351 2086v-9M1059 1928v-31M1203 2016v-29M984 1882v-10M773 1763v-10M1199 1997v-21M1503 2169v-9M931 1844v-25M449 1583v-27M1300 2061v-15M1163 1985v-16M818 1785v-20M1332 2090v-12M772 1759v-19M833 1788v-11M801 1776v-35M1422 2141v-37M1484 2171v-23M514 1616v-26M771 1761v-33M966 1875v-16M814 1793v-9M652 1696v-18M541 1632v-14M1078 1934v-23M1062 1924v-10M639 1693v-17M566 1651v-12M554 1636v-16M977 1879v-13M1076 1925v-23M1093 1935v-19M533 1622v-33M1040 1919v-25M566 1654v-20M556 1644v-19M628 1688v-17M1293 2050v-31M520 1610v-17M467 1588v-11M771 1764v-20M1405 2126v-33M1049 1929v-32M629 1684v-17M1270 2049v-27M587 1651v-22M1467 2163v-9M1109 1944v-18M1323 2067v-23M1183 1990v-11M926 1856v-17M585 1642v-11M1319 2066v-25M761 1758v-17M600 1670v-17M1187 2005v-30M471 1584v-12M984 1890v-31M497 1595v-23M1185 1994v-17M616 1679v-14M1388 2116v-9M812 1777v-26M1095 1935v-13M841 1799v-25M872 1814v-8M1078 1932v-8M937 1866v-9M606 1669v-15M747 1746v-15M1064 1928v-22M1528 2183v-19M1274 2056v-21M1130 1968v-16M750 1754v-28M1457 2157v-13M1268 2050v-16M1138 1967v-25M898 1822v-13M790 1782v-15M853 1800v-14M835 1788v-8M1389 2113v-15M1068 1925v-13M528 1616v-16M1232 2025v-22M810 1792v-17M545 1623v-18M1516 2183v-21M906 1845v-9M965 1880v-15M739 1730v-12M737 1745v-12M888 1820v-20M1378 2111v-11M1232 2034v-20M532 1630v-22M827 1783v-11M1022 1912v-27M1450 2142v-17M1255 2040v-16M1185 1993v-10M907 1827v-20M812 1783v-18M730 1735v-8M1445 2148v-24M511 1613v-20M815 1775v-13M601 1668v-10M1329 2077v-22M1084 1940v-25M1102 1946v-30M726 1738v-29M1290 2053v-28M1504 2178v-16M1006 1904v-12M463 1583v-18M1287 2052v-23M693 1721v-10M490 1590v-10M991 1887v-13M1465 2154v-10M639 1689v-25M636 1672v-20M704 1732v-16M1139 1967v-32M951 1858v-22M564 1646v-9M1148 1973v-22M516 1615v-15M1431 2148v-20M699 1712v-13M924 1841v-12M1266 2046v-16M1527 2186v-24M614 1678v-23M735 1745v-22M760 1749v-18M1417 2122v-28M1096 1945v-21M1407 2117v-32M834 1802v-34M642 1694v-30M782 1755v-10M1509 2171v-34M610 1673v-10M631 1683v-10M809 1791v-19M1391 2126v-9M699 1725v-28M494 1601v-12M923 1838v-8M1521 2185v-22M583 1651v-10M920 1837v-27M607 1671v-16M577 1645v-18M1443 2141v-14M1484 2177v-19M753 1742v-16M536 1614v-19M890 1829v-17M461 1586v-27M1036 1913v-29M1501 2186v-25M885 1821v-20M1500 2175v-14M900 1825v-33M456 1582v-26M724 1735v-14M718 1722v-10M1353 2099v-31M502 1610v-18M1146 1976v-13M1506 2169v-30M1369 2103v-19M1527 2186v-27M1254 2033v-26M875 1820v-22M1184 1992v-25M1042 1908v-26M729 1745v-15M1228 2022v-20M698 1709v-23M1020 1903v-16M1332 2075v-11M1336 2083v-23M1334 2091v-32M502 1603v-29M1339 2076v-13M731 1727v-18M1315 2072v-20M550 1630v-38M1200 2004v-22M1305 2072v-10M1186 1994v-21M711 1722v-13M872 1806v-12M1075 1923v-11M1229 2017v-13M706 1730v-9M1129 1973v-12M902 1841v-19M861 1801v-16M843 1806v-15M888 1830v-22M834 1793v-19M1452 2143v-37M1220 2014v-28M815 1775v-26M860 1811v-22M1416 2135v-9M1090 1942v-17M1356 2093v-16M1410 2125v-20M996 1896v-28M1250 2032v-9M1182 1996v-21M1287 2047v-13M530 1628v-10M543 1635v-20M508 1613v-29M980 1869v-19M900 1835v-33M1323 2084v-11M812 1783v-8M1519 2183v-15M794 1767v-21M1050 1919v-20M512 1607v-21M1307 2075v-13M679 1696v-16M855 1807v-17M1083 1935v-29M660 1705v-25M512 1607v-16M891 1830v-17M741 1749v-17M1210 2018v-20M933 1862v-16M1405 2113v-21M1149 1966v-30M528 1623v-13M1442 2146v-23M985 1886v-22M775 1755v-30M601 1672v-12M569 1635v-21M1476 2162v-27M722 1741v-20M628 1667v-19M491 1607v-13M701 1721v-14M1062 1918v-35M795 1781v-10M1302 2075v-20M491 1596v-18M692 1715v-10M947 1866v-18M1190 1991v-21M576 1657v-34M1461 2156v-12M822 1794v-16M1460 2145v-15M1379 2110v-23M555 1628v-13M1405 2131v-12M1455 2141v-26M1495 2171v-36M1167 1976v-14M941 1851v-27M639 1691v-14M526 1621v-9M1040 1920v-21M958 1856v-20M554 1639v-11M1077 1931v-14M1172 1982v-11M1468 2155v-24M1391 2115v-11M546 1640v-11M985 1883v-11M962 1861v-20M1000 1888v-14M893 1822v-10M703 1729v-18M1419 2120v-35M972 1881v-21M1198 1998v-19M623 1669v-9M875 1820v-15M1418 2121v-17M702 1722v-27M1225 2010v-15M1087 1952v-9M1113 1960v-27M814 1791v-19M1452 2138v-31M897 1830v-11M711 1731v-28M619 1669v-12M671 1696v-13M1491 2184v-21M968 1873v-29M1423 2139v-24M664 1701v-31M1306 2057v-29M835 1788v-34M1171 1994v-10M1334 2092v-22M1246 2040v-26M1088 1940v-21M1288 2064v-17M1484 2169v-36M568 1654v-24M717 1736v-14M667 1699v-15M974 1885v-28M1218 2013v-30M1302 2068v-36M1342 2084v-11M1147 1983v-13M1085 1947v-30M458 1580v-8M566 1649v-19M1103 1949v-18M685 1707v-28M1122 1956v-10M740 1746v-16M1157 1988v-10M1196 1992v-29M655 1688v-22M848 1797v-22M1101 1957v-19M981 1890v-16M1521 2182v-21M627 1677v-8M632 1690v-15M1327 2073v-14M560 1640v-26M1007 1892v-30M1410 2129v-10M1124 1961v-26M838 1802v-20M856 1809v-24M1427 2136v-14M1510 2173v-21M1186 1999v-15M1252 2044v-24M1268 2033v-16M591 1667v-27M606 1667v-17M505 1605v-30M1146 1970v-24M765 1757v-20M1501 2181v-26M1182 1992v-32M1211 2016v-16M625 1678v-32M1308 2064v-12M1000 1899v-10M1253 2028v-13M514 1608v-14M1482 2178v-14M776 1773v-13M799 1774v-11M735 1736v-18M1493 2168v-11M1430 2136v-25M1132 1973v-15M611 1674v-20M1050 1923v-27M752 1745v-25M1026 1901v-27M727 1740v-9M1339 2087v-19M1467 2153v-15M527 1621v-19M1183 1994v-21M576 1644v-27M1489 2174v-27M1287 2053v-26M1254 2032v-14M1321 2071v-13M1388 2114v-23M1164 1994v-10M825 1781v-20M985 1890v-28M1076 1932v-25M740 1750v-22M1360 2089v-21M1263 2041v-32M1413 2133v-32M1142 1981v-11M1205 2013v-26M757 1742v-17M1343 2082v-14M702 1710v-20M1494 2181v-18M1213 2003v-29M812 1772v-22M607 1660v-9M931 1852v-24M489 1605v-10M692 1717v-16M807 1782v-15M1311 2062v-33M1321 2075v-8M1298 2051v-16M917 1833v-27M1229 2024v-16M1001 1893v-11M1375 2117v-27M1489 2167v-33M530 1621v-12M937 1859v-23M944 1855v-11M890 1823v-14M1243 2030v-15M661 1701v-11M737 1741v-21M1493 2179v-29M1437 2146v-23M526 1612v-8M1376 2111v-26M739 1738v-13M1122 1972v-17M507 1601v-13M1412 2134v-17M571 1636v-10M1289 2055v-31M1426 2142v-15M1343 2079v-11M1058 1924v-13M733 1727v-23M1207 2020v-24M917 1849v-14M1318 2081v-10M473 1582v-26M870 1805v-21M1298 2061v-9M1407 2125v-9M798 1778v-31M971 1877v-13M706 1732v-19M563 1642v-10M669 1700v-25M1132 1971v-17M521 1621v-9M960 1866v-21M1225 2014v-24M1197 2003v-12M1427 2138v-9M700 1730v-12M869 1822v-31M1129 1970v-9M544 1641v-28M503 1595v-12M1458 2147v-20M1449 2151v-36M742 1735v-8M1274 2039v-24M1222 2011v-27M628 1678v-10M1290 2066v-33M448 1583v-22M1335 2083v-17M1086 1947v-10M510 1611v-16M889 1816v-30M472 1596v-29M952 1855v-23M677 1704v-11M1501 2179v-13M549 1638v-27M1372 2095v-14M773 1767v-10M1095 1956v-24M469 1577v-11M1195 2005v-24M944 1857v-26M1141 1981v-29M1300 2072v-21M1232 2013v-28M1367 2100v-27M637 1693v-17M1217 2009v-16M831 1790v-11M919 1855v-20M1449 2154v-30M1516 2192v-14M723 1730v-9M693 1724v-23M801 1783v-27M1403 2128v-24M559 1646v-17M1129 1962v-23M1497 2168v-22M1150 1978v-23M882 1833v-28M1500 2168v-11M754 1759v-8M728 1740v-32M644 1685v-19M1190 2005v-29M725 1727v-9M1201 1999v-12M1486 2172v-24M1156 1982v-28M788 1759v-10M471 1585v-12M574 1647v-32M1196 1998v-27M652 1682v-14M888 1831v-16M1243 2021v-24M814 1792v-9M1349 2084v-33M1312 2073v-16M470 1580v-29M620 1676v-18M1170 1981v-10M548 1643v-19M1152 1980v-14M532 1612v-34M583 1663v-14M1236 2018v-27M726 1731v-20M578 1643v-21M762 1751v-23M700 1712v-15M868 1812v-27M952 1872v-9M1159 1990v-14M486 1595v-11M943 1863v-11M580 1650v-12M702 1719v-11M529 1617v-18M1458 2154v-9M687 1717v-17M1378 2118v-22M562 1650v-24M717 1721v-28M689 1703v-16M1446 2146v-24M534 1623v-18M670 1706v-13M572 1657v-15M656 1682v-23M1015 1889v-22M1248 2033v-13M987 1886v-21M603 1670v-36M1241 2037v-17M1429 2129v-12M1087 1950v-9M695 1705v-19M610 1660v-30M1071 1941v-14M1192 1990v-36M704 1720v-23M1472 2161v-23M1126 1956v-29M660 1707v-15M687 1722v-17M893 1826v-19M480 1590v-12M1352 2081v-17M731 1735v-16M1225 2011v-12M573 1657v-11M600 1662v-25M1414 2118v-13M631 1681v-21M884 1833v-27M1368 2112v-13M1467 2156v-9M1443 2136v-8M768 1753v-32M1389 2112v-22M1359 2103v-27M1011 1888v-12M1158 1983v-32M1409 2136v-12M527 1629v-24M644 1691v-15M710 1721v-17M1189 1989v-24M1124 1961v-18M1322 2064v-20M1177 1997v-20M637 1694v-28M705 1720v-28M677 1704v-37M1425 2128v-23M836 1801v-24M596 1653v-14M748 1736v-12M891 1826v-10M1070 1941v-17M831 1799v-15M642 1685v-8M1186 1989v-17M1481 2173v-22M1140 1974v-29M1497 2169v-30M781 1760v-26M1092 1951v-24M1091 1936v-8M1023 1909v-16M538 1615v-13M1210 2000v-13M734 1743v-28M481 1585v-22M1502 2170v-17M1018 1897v-20M972 1869v-9M550 1625v-10M1119 1964v-16M1299 2067v-16M987 1876v-22M1064 1917v-11M1199 2002v-20M693 1722v-32M552 1636v-12M1207 2016v-22M709 1715v-18M1067 1921v-14M1086 1931v-24M717 1723v-19M1021 1908v-9M1237 2020v-13M1136 1973v-21M1427 2129v-13M1169 1982v-13M691 1720v-26M1213 2023v-29M789 1766v-28M511 1613v-9M505 1608v-12M1446 2155v-15M673 1695v-22M1016 1897v-22M1016 1906v-11M530 1619v-15M721 1735v-13M795 1773v-28M1283 2050v-15M1441 2153v-24M567 1641v-23M761 1743v-26M1437 2133v-18M1122 1956v-9M1254 2042v-15M547 1629v-11M1497 2165v-16M1285 2046v-11M536 1617v-23M1354 2086v-11M1276 2047v-14M591 1650v-35M583 1647v-27M1403 2131v-19M1478 2167v-13M948 1866v-26M598 1654v-27M562 1647v-18M724 1727v-22M1524 2183v-23M805 1771v-25M826 1784v-19M1328 2087v-22M459 1587v-18M1410 2136v-15M1358 2103v-15M848 1801v-14M867 1806v-13M1432 2136v-27M1401 2126v-13M1435 2147v-33M1230 2028v-29M722 1735v-15M1362 2090v-17M808 1788v-15M1352 2101v-28M594 1668v-22M1177 1996v-9M1387 2113v-22M812 1789v-20M1393 2109v-17M729 1726v-18M475 1597v-15M537 1616v-19M667 1699v-20M1306 2076v-17M1124 1971v-16M1415 2134v-17M1390 2116v-10M1077 1943v-23M975 1874v-28M1174 1984v-17M834 1806v-23M579 1659v-9M1089 1940v-19M922 1837v-17M1328 2086v-15M687 1717v-20M681 1717v-30M921 1843v-23M1458 2146v-15M802 1782v-14M1040 1914v-25M598 1671v-36M1050 1926v-13M1430 2138v-31M1388 2110v-29M685 1699v-16M1410 2135v-36M993 1897v-19M605 1667v-29M906 1839v-12M751 1746v-19M964 1861v-8M814 1789v-28M712 1720v-19M639 1686v-22M668 1703v-29M1253 2041v-29M739 1749v-27M501 1615v-15M554 1625v-30M1188 1990v-17M1129 1976v-16M1281 2046v-11M628 1675v-25M785 1760v-13M550 1626v-13M1001 1884v-19M916 1853v-20M1468 2158v-12M1096 1938v-11M528 1625v-23M889 1824v-15M827 1796v-16M609 1675v-17M453 1585v-28M831 1797v-35M886 1824v-16M1045 1920v-30M1480 2157v-15M1362 2105v-25M1184 1992v-36M1045 1914v-12M569 1653v-29M485 1592v-22M988 1881v-26M828 1793v-30M1140 1970v-18M867 1817v-21M735 1736v-20M834 1805v-24" stroke="#f3e5cb" stroke-width="1.5" stroke-opacity="0.9" fill="none"/>
<use href="#ts" x="1869" y="1891"/>
<use href="#tg" x="1277" y="1893"/>
<use href="#tcow" x="701" y="1898" fill="#8d8c9f"/>
<use href="#tb" x="1901" y="1904"/>
<use href="#ts" x="1844" y="1913"/>
<use href="#tg" x="1969" y="1920"/>
<use href="#ts" x="1949" y="1927"/>
<use href="#ts" x="1985" y="1938"/>
<g class="h"><path d="M1556 1917L1568 1911L1560 1901L1548 1908ZM1540 1919L1556 1928L1556 1917L1548 1908L1540 1908Z"/><path class="g" d="M1556 1928L1568 1921L1568 1911L1556 1917Z"/></g>
<use href="#ts" x="1971" y="1947"/>
<use href="#to" x="792" y="1952"/>
<use href="#tcow" x="1924" y="1954" fill="#8a4a3c"/>
<use href="#tg" transform="translate(849 1955) scale(0.90)"/>
<g class="h"><path d="M1581 1931L1593 1924L1584 1915L1573 1921ZM1565 1932L1581 1942L1581 1931L1573 1921L1565 1922Z"/><path class="g" d="M1581 1942L1593 1935L1593 1924L1581 1931Z"/></g>
<use href="#ts" x="1962" y="1965"/>
<use href="#tcow" x="1862" y="1965" fill="#8a4a3c"/>
<use href="#ts" x="1654" y="1970"/>
<use href="#tg" transform="translate(749 1973) scale(0.90)"/>
<use href="#to" x="798" y="1986"/>
<path d="M1805 2093v-21M1693 2026v-17M1410 1856v-12M1687 2027v-25M1713 2038v-11M1507 1918v-24M1573 1958v-14M1537 1929v-20M1647 1991v-30M1403 1861v-13M1792 2078v-8M1689 2020v-20M1679 2015v-17M1686 2017v-13M1671 2013v-9M1471 1895v-10M1621 1981v-16M1709 2037v-9M1642 2003v-20M1813 2089v-11M1541 1932v-11M1508 1917v-29M1728 2037v-22M1669 2007v-8M1762 2058v-15M1524 1931v-25M1775 2077v-22M1604 1965v-14M1466 1887v-12M1541 1929v-12M1759 2058v-16M1760 2055v-21M1633 1982v-20M1736 2043v-31M1639 1995v-11M1413 1866v-21M1484 1896v-23M1532 1929v-24M1641 1988v-27M1699 2029v-22M1597 1971v-9M1530 1927v-14M1619 1975v-18M1429 1868v-24M1415 1861v-31M1706 2030v-12M1707 2038v-10M1575 1957v-19M1482 1908v-23M1726 2050v-27M1682 2015v-15M1553 1948v-17M1512 1926v-22M1804 2091v-20M1538 1943v-21M1682 2016v-16M1478 1898v-14M1714 2031v-13M1669 2010v-21M1412 1861v-20M1716 2035v-22M1573 1947v-10M1492 1914v-12M1520 1925v-18M1673 2009v-15M1404 1862v-18M1527 1924v-21M1467 1891v-11M1481 1902v-13M1442 1885v-9M1576 1953v-9M1526 1927v-27M1511 1917v-22M1665 2007v-13M1721 2047v-13M1755 2058v-21M1417 1861v-12M1482 1908v-32M1530 1935v-15M1647 1992v-22M1614 1980v-24M1619 1981v-20M1597 1970v-14M1470 1891v-26M1653 1993v-13M1643 1996v-36M1781 2068v-30M1805 2093v-30M1558 1948v-19M1728 2048v-30M1538 1939v-25M1801 2084v-20M1754 2064v-22M1468 1889v-14M1678 2008v-17M1457 1883v-14M1626 1989v-23M1503 1908v-28M1640 2000v-27M1459 1887v-14M1591 1962v-26M1776 2067v-22M1801 2085v-32M1789 2084v-14M1659 2009v-13M1605 1966v-12M1733 2044v-27M1577 1961v-12M1436 1879v-15M1488 1905v-18M1767 2070v-17M1583 1962v-12M1524 1929v-28M1655 1997v-32M1735 2044v-15M1413 1867v-14M1740 2055v-26M1639 1989v-9M1655 1994v-22M1727 2038v-19M1631 1983v-14M1659 1999v-11M1488 1913v-21M1448 1884v-19M1419 1862v-20M1405 1865v-14M1540 1943v-11M1457 1888v-13M1533 1933v-32M1580 1952v-14M1755 2059v-9M1510 1914v-14M1532 1934v-23M1426 1865v-22M1760 2067v-13M1694 2018v-26M1489 1912v-31M1592 1970v-33M1769 2070v-17M1547 1943v-10M1597 1962v-11M1679 2015v-11M1797 2081v-16M1609 1971v-26M1710 2040v-13M1773 2077v-32M1481 1896v-9M1437 1880v-9M1596 1966v-25M1419 1870v-34M1527 1927v-27M1524 1932v-35M1495 1909v-10M1634 1989v-28M1696 2034v-19M1744 2052v-21M1452 1882v-32M1811 2087v-19M1568 1954v-22M1505 1922v-15M1719 2043v-29M1614 1980v-23M1504 1908v-21M1686 2024v-29M1480 1907v-26M1791 2082v-21M1431 1868v-16M1680 2015v-10M1774 2064v-31M1496 1914v-17M1503 1912v-15M1626 1982v-16M1524 1921v-18M1505 1923v-19M1508 1921v-33M1552 1947v-17M1815 2092v-9M1404 1858v-20M1522 1924v-17M1557 1941v-16M1684 2011v-22M1510 1918v-13M1682 2016v-17M1571 1954v-9M1808 2090v-13M1755 2056v-19M1583 1955v-20M1523 1921v-31M1789 2079v-28M1682 2014v-11M1647 1993v-19M1652 1996v-27M1802 2087v-22M1595 1960v-15M1542 1944v-17M1804 2083v-19M1415 1857v-20M1420 1862v-14M1786 2074v-8M1689 2025v-12M1780 2080v-30M1742 2053v-18M1452 1887v-15M1544 1935v-10M1733 2052v-8M1621 1975v-21M1465 1900v-16M1622 1979v-23M1409 1857v-12M1712 2033v-31M1543 1932v-20M1443 1874v-19M1644 1991v-11M1619 1980v-20M1684 2013v-8M1426 1875v-18M1469 1892v-15M1784 2076v-23M1445 1873v-13M1668 2009v-25M1740 2054v-35M1793 2088v-10M1573 1949v-19M1617 1974v-9M1593 1968v-14M1595 1970v-18M1696 2024v-12M1768 2060v-11M1480 1903v-20M1444 1881v-16M1692 2017v-28M1516 1920v-10M1748 2058v-30M1621 1976v-14M1441 1872v-20M1405 1856v-9M1711 2043v-9M1546 1947v-15M1524 1934v-22M1560 1950v-29M1556 1937v-14M1682 2025v-20M1574 1954v-22M1406 1865v-22M1423 1860v-13M1459 1894v-32M1622 1990v-11M1485 1902v-19M1479 1907v-24M1526 1923v-16M1564 1952v-29M1800 2079v-11M1553 1951v-20M1695 2030v-17M1554 1949v-21M1815 2091v-29M1598 1975v-20M1630 1994v-9M1519 1923v-30M1476 1903v-9M1548 1940v-19M1613 1984v-27M1561 1948v-17M1765 2063v-12M1507 1913v-23M1690 2018v-18M1765 2073v-14M1798 2078v-24M1529 1937v-8M1681 2024v-28M1644 1990v-12M1786 2084v-14M1543 1939v-15M1486 1910v-11M1665 2007v-21M1759 2066v-25M1405 1863v-30M1407 1855v-22M1761 2064v-29M1443 1876v-25M1734 2043v-19M1580 1963v-15M1531 1935v-20M1549 1945v-15M1614 1973v-16M1581 1953v-13M1550 1939v-22M1769 2074v-12M1464 1885v-32M1713 2039v-24M1573 1950v-10M1564 1954v-9M1589 1957v-12M1629 1990v-24M1539 1931v-9M1487 1898v-8M1450 1884v-17M1777 2072v-10M1460 1893v-29M1715 2033v-14M1584 1960v-13M1473 1890v-30M1798 2093v-16M1690 2018v-10M1406 1856v-26M1624 1980v-18M1630 1983v-18M1787 2077v-36M1706 2026v-23M1689 2021v-12M1679 2011v-17M1467 1892v-22M1649 1999v-23M1671 2013v-16M1489 1908v-34M1762 2064v-13M1651 1993v-22M1719 2047v-10M1486 1904v-20M1806 2083v-11M1599 1974v-8M1557 1949v-20M1483 1896v-23M1613 1978v-18M1719 2037v-16M1788 2072v-25M1592 1967v-15M1794 2079v-13M1422 1874v-27M1429 1866v-12M1415 1864v-26M1700 2028v-28M1531 1928v-12M1652 2000v-11M1599 1978v-29M1655 2008v-21M1605 1976v-14M1647 1998v-16M1612 1972v-21M1451 1884v-9M1631 1982v-26M1406 1864v-16M1799 2082v-11M1682 2014v-21M1603 1969v-24M1498 1908v-9M1505 1911v-10M1575 1955v-22M1628 1989v-17M1592 1972v-10M1523 1918v-32M1767 2065v-23M1629 1994v-24M1543 1934v-15M1797 2084v-15M1414 1861v-29M1572 1959v-26M1786 2082v-17M1520 1932v-24M1715 2030v-17M1692 2018v-14M1594 1963v-10M1466 1893v-8M1731 2045v-12M1509 1915v-25M1699 2026v-27M1635 1996v-23M1725 2035v-13M1446 1887v-13M1786 2075v-10M1695 2020v-14M1582 1962v-20M1672 2017v-35M1660 2004v-22M1541 1942v-20M1686 2025v-18M1769 2067v-19M1768 2067v-25M1523 1920v-21M1624 1992v-20M1515 1915v-28M1512 1914v-16M1698 2028v-9M1723 2044v-13M1783 2076v-28M1443 1877v-19M1682 2021v-24M1409 1866v-9M1506 1913v-21M1443 1879v-12M1543 1935v-11M1740 2044v-13M1772 2068v-22M1529 1930v-15M1563 1957v-14M1731 2046v-18M1746 2061v-8M1646 2001v-19M1566 1955v-11M1603 1967v-22M1728 2043v-20M1624 1987v-13M1719 2042v-23M1512 1918v-19M1506 1920v-31M1468 1898v-16M1518 1921v-20M1668 2008v-27M1742 2047v-26M1616 1982v-32M1491 1907v-20M1411 1860v-21M1588 1964v-25M1447 1886v-12M1438 1876v-11M1597 1963v-16M1452 1893v-14M1584 1963v-26M1451 1890v-16M1438 1876v-25M1549 1944v-16M1733 2054v-30M1430 1871v-19M1565 1945v-19M1457 1882v-19M1815 2093v-25M1678 2018v-21M1640 1997v-21M1726 2049v-8M1794 2075v-24M1429 1876v-16M1454 1892v-13M1776 2070v-16M1583 1965v-17M1618 1977v-17M1452 1881v-12M1692 2018v-10M1802 2089v-10M1756 2065v-21M1799 2086v-10M1414 1856v-18M1626 1991v-10M1438 1870v-14M1785 2082v-9M1651 1995v-12M1539 1931v-13M1498 1909v-24M1632 1992v-14M1413 1864v-17M1491 1906v-34M1647 2001v-9M1624 1988v-20M1723 2034v-24M1406 1863v-20M1779 2081v-26M1435 1878v-11M1583 1955v-15M1424 1870v-10M1500 1917v-16M1637 1997v-17M1734 2055v-15M1473 1905v-21M1530 1937v-9M1491 1914v-10M1762 2059v-21M1455 1887v-19M1628 1993v-9M1690 2028v-18M1496 1915v-20M1507 1921v-27M1743 2053v-8M1412 1863v-9M1664 2002v-22M1409 1863v-11M1815 2094v-19M1756 2057v-22M1531 1923v-14M1553 1945v-9M1772 2074v-25M1816 2088v-23M1760 2058v-19M1479 1908v-18M1749 2052v-23M1713 2033v-14M1436 1878v-19M1488 1903v-13M1453 1887v-12M1494 1907v-35M1699 2023v-30M1792 2079v-19M1662 2007v-23M1677 2017v-22M1596 1962v-8M1701 2029v-30M1807 2086v-11M1646 1989v-10M1436 1873v-16M1481 1905v-26M1745 2055v-19M1728 2048v-17M1635 1996v-12M1558 1938v-19M1451 1884v-11M1445 1887v-14M1794 2087v-16M1600 1973v-23M1481 1902v-12M1484 1899v-30M1788 2078v-13M1479 1897v-15M1767 2067v-21M1666 2003v-18M1590 1958v-14M1637 1994v-13M1432 1875v-10M1398 1861v-19M1791 2078v-19M1752 2060v-9M1518 1921v-14M1643 1990v-11M1413 1861v-10M1506 1908v-20M1497 1911v-18M1419 1867v-30M1499 1915v-21M1636 1989v-21M1679 2015v-18M1708 2037v-15M1468 1889v-12M1641 1987v-15M1463 1892v-14M1748 2049v-15M1706 2037v-19M1786 2084v-24M1543 1933v-23M1426 1872v-13M1478 1902v-17M1431 1867v-19M1559 1951v-18M1406 1856v-23M1509 1912v-33M1534 1935v-17M1814 2090v-8M1668 2013v-20M1453 1880v-21M1523 1920v-10M1422 1866v-10M1420 1860v-28M1671 2009v-28M1423 1867v-21M1430 1867v-15M1554 1937v-29M1728 2046v-16M1632 1989v-19M1531 1936v-22M1499 1914v-29M1611 1974v-17M1692 2018v-21M1573 1953v-22M1721 2035v-13M1611 1969v-20M1460 1885v-14M1771 2071v-12M1666 2009v-8M1581 1963v-19M1808 2083v-16M1561 1947v-28M1582 1961v-25M1760 2064v-23M1446 1880v-13M1719 2042v-10M1636 1998v-21M1560 1945v-16M1569 1960v-20M1764 2073v-11M1795 2081v-13M1652 1999v-12M1809 2086v-10M1560 1953v-21M1591 1964v-10M1728 2049v-14M1673 2019v-13M1495 1914v-21M1573 1947v-17M1698 2022v-17M1722 2039v-11M1679 2019v-18M1779 2072v-16M1584 1967v-14M1504 1913v-28M1713 2031v-30M1812 2090v-30M1687 2023v-11M1398 1860v-16M1737 2055v-27M1702 2033v-21M1785 2084v-29M1530 1937v-9M1474 1904v-22M1798 2082v-9M1459 1895v-21M1577 1960v-9M1792 2078v-12M1604 1972v-22M1704 2025v-27M1538 1933v-32M1704 2034v-19M1579 1956v-20M1757 2056v-28M1592 1973v-27M1784 2075v-18M1510 1914v-12M1489 1909v-24M1703 2034v-22M1619 1983v-23M1602 1969v-14M1540 1936v-16M1626 1988v-24M1636 1999v-16M1653 2002v-15M1596 1964v-24M1430 1877v-15M1548 1938v-33M1540 1937v-20M1675 2015v-23M1453 1878v-18M1404 1857v-12M1711 2032v-9M1471 1893v-22M1689 2027v-22M1639 1985v-20M1548 1942v-11M1570 1949v-26M1795 2081v-19M1661 2010v-14M1511 1922v-14M1606 1976v-19M1806 2087v-14M1565 1957v-31M1432 1868v-12M1722 2044v-11M1723 2048v-20M1542 1942v-14M1792 2075v-14M1524 1932v-25M1621 1983v-13M1651 1993v-28M1797 2084v-18M1646 1995v-21M1491 1908v-18M1713 2033v-10M1692 2018v-24M1406 1864v-21M1606 1980v-30M1683 2015v-10M1457 1881v-23M1686 2027v-19M1548 1946v-19M1813 2086v-21" stroke="#f3e5cb" stroke-width="1.5" stroke-opacity="0.9" fill="none"/>
<use href="#ts" x="1985" y="1993"/>
<use href="#tg" x="1710" y="2002"/>
<g class="h"><path d="M1657 1976L1669 1969L1678 1969L1666 1976ZM1675 1986L1687 1979L1678 1969L1666 1976ZM1657 1986L1675 1997L1675 1986L1666 1976L1657 1976Z"/><path class="g" d="M1675 1997L1687 1990L1687 1979L1675 1986Z"/></g>
<use href="#tg" transform="translate(778 2013) scale(0.50)"/>
<path d="M969 2044v-10M999 2067v-16M993 2057v-18M914 2022v-15M864 1996v-13M963 2051v-14M960 2042v-13M867 1998v-13M926 2024v-8M966 2051v-21M903 2006v-13M963 2048v-17M933 2023v-31M919 2020v-19M867 1994v-14M985 2051v-15M948 2037v-18M942 2029v-14M831 1975v-14M982 2057v-23M952 2033v-20M882 2005v-22M951 2044v-15M949 2044v-12M854 1982v-15M865 1985v-28M909 2009v-10M942 2028v-14M932 2026v-15M991 2053v-25M877 1989v-23M936 2030v-14M977 2050v-23M875 1996v-20M901 2010v-10M947 2039v-12M930 2030v-10M979 2060v-9M885 1994v-12M851 1981v-13M889 2002v-13M972 2054v-10M882 1991v-15M852 1985v-25M1016 2071v-9M971 2048v-30M907 2011v-9M1004 2069v-15M909 2019v-19M924 2018v-19M995 2062v-19M935 2029v-16M878 1998v-25M851 1979v-26M1016 2068v-20M943 2039v-14M861 1984v-25M969 2044v-24M950 2040v-9M916 2016v-16M900 2003v-22M882 2004v-16M928 2030v-11M971 2043v-20M836 1977v-13M868 1990v-18M914 2011v-15M882 2006v-16M916 2014v-33M890 2006v-19M901 2014v-14M861 1980v-19M995 2059v-16M974 2048v-10M928 2024v-26M998 2061v-22M916 2011v-19M1001 2064v-18M968 2041v-21M857 1982v-26M840 1973v-11M926 2016v-11M880 1991v-9M869 1992v-10M982 2055v-11M873 1999v-9M973 2044v-24M906 2014v-20M859 1979v-26M937 2034v-14M928 2020v-19M884 2002v-16M882 2001v-10M978 2054v-12M855 1984v-21M965 2044v-17M997 2061v-33M987 2067v-25M876 2001v-24M864 1997v-17M978 2055v-10M993 2057v-11M949 2032v-15M968 2041v-17M854 1983v-22M964 2038v-12M1007 2069v-18M899 2012v-26M952 2037v-18M931 2022v-29M1003 2072v-23M913 2022v-14M964 2049v-21M978 2060v-12M976 2052v-12M896 2012v-22M983 2059v-11M862 1989v-11M900 2003v-12M966 2043v-28M889 2008v-12M884 1999v-8M914 2015v-8M990 2059v-8M1010 2068v-14M845 1971v-24M939 2031v-14M879 2005v-15M1006 2076v-11M993 2054v-23M976 2056v-16M984 2052v-19M884 1998v-13M960 2045v-21M945 2037v-20M979 2055v-16M1002 2065v-10M891 2008v-27M948 2039v-29M974 2051v-15M973 2048v-10M941 2038v-12M951 2045v-11M859 1986v-17M997 2073v-14M974 2054v-11M1013 2068v-10M922 2014v-19M902 2018v-17M982 2061v-21M880 1995v-15M903 2014v-18M891 2006v-26M873 1991v-8M858 1978v-18M981 2059v-27M983 2058v-19M839 1973v-15M952 2032v-22M902 2010v-18M850 1984v-28M947 2030v-21M983 2065v-25M838 1980v-18M878 2004v-19M998 2061v-23M905 2009v-27M947 2033v-19M999 2067v-20M929 2034v-9M916 2019v-18M1006 2072v-20M947 2037v-23M1010 2064v-16M997 2058v-28M838 1977v-22M879 1995v-14M960 2044v-16M892 2006v-29M967 2055v-12M928 2024v-17M983 2051v-18M967 2054v-8M883 2000v-21M859 1992v-15M927 2031v-9M898 2003v-10M886 2005v-17M852 1987v-16M856 1989v-19M867 1998v-21M883 1991v-27M988 2053v-28M971 2052v-26M1013 2071v-22M1002 2064v-18M952 2045v-20M888 1998v-15M854 1989v-22M875 1998v-18M853 1987v-24M895 2000v-15M973 2050v-19M869 1985v-13M996 2059v-9M975 2045v-20M853 1979v-20M992 2060v-15M843 1974v-14M972 2054v-20M927 2028v-10M906 2010v-15M971 2045v-15M880 2004v-20M922 2020v-31M1003 2067v-23M992 2058v-14M853 1983v-27M864 1988v-30M922 2020v-29M996 2062v-10M945 2039v-30M955 2038v-17M887 2001v-14M992 2068v-32M914 2025v-10M997 2067v-28M902 2018v-8M981 2061v-14M986 2054v-18M920 2019v-13M974 2055v-10M1013 2069v-16M908 2015v-20M1001 2069v-17M860 1980v-21M940 2031v-22M911 2013v-13M859 1993v-22M933 2027v-12M891 2004v-17M1008 2072v-12M849 1975v-15M969 2055v-11M975 2051v-16M936 2023v-9M951 2042v-18M994 2068v-12M846 1979v-25M881 1991v-15M838 1978v-19M885 2000v-11M873 1989v-26M913 2020v-14M977 2055v-23M904 2013v-11M1006 2073v-20M954 2034v-14M871 1998v-8M909 2020v-28M966 2044v-11M963 2042v-18M894 2010v-23M973 2059v-18M1017 2068v-24M840 1976v-17M975 2049v-12M974 2052v-26M929 2018v-19M874 1994v-8M879 2000v-22M949 2036v-24M958 2038v-21M938 2035v-13M892 2002v-10M894 2009v-23M863 1992v-10M974 2046v-10M880 1998v-12M986 2066v-15M966 2050v-16M874 2002v-21M840 1972v-15" stroke="#f3e5cb" stroke-width="1.5" stroke-opacity="0.9" fill="none"/>
<use href="#to" x="1738" y="2033"/>
<g class="h"><path d="M1770 2035L1781 2029L1773 2019L1761 2026ZM1753 2037L1770 2046L1770 2035L1761 2026L1753 2026Z"/><path class="g" d="M1770 2046L1781 2039L1781 2029L1770 2035Z"/></g>
<use href="#ts" x="1853" y="2061"/>
<g class="h"><path d="M1788 2051L1799 2045L1791 2035L1780 2042ZM1771 2053L1788 2062L1788 2051L1780 2042L1771 2042Z"/><path class="g" d="M1788 2062L1799 2055L1799 2045L1788 2051Z"/></g>
<use href="#tg" x="1822" y="2083"/>
<use href="#tcow" x="1044" y="2085" fill="#8d8c9f"/>
<use href="#tcow" x="1316" y="2086" fill="#8d8c9f"/>
<use href="#tcow" x="1153" y="2118" fill="#8d8c9f"/>
<use href="#tcow" x="1090" y="2142" fill="#8d8c9f"/>
<use href="#to" x="1053" y="2150"/>
<use href="#tcow" x="1130" y="2159" fill="#8d8c9f"/>
<use href="#to" transform="translate(1053 2173) scale(0.90)"/>
<use href="#tg" transform="translate(1505 2218) scale(0.90)"/>
<use href="#tg" transform="translate(1551 2227) scale(0.90)"/>
<use href="#tf" transform="translate(1457 2229) scale(1.60)"/>
<use href="#tcow" x="1176" y="2256" fill="#8d8c9f"/>
<use href="#tg" transform="translate(1289 2277) scale(0.50)"/>
<use href="#tg" transform="translate(1262 2286) scale(0.90)"/>
<use href="#tcow" x="1416" y="2286" fill="#8d8c9f"/>
<use href="#tg" transform="translate(1360 2304) scale(0.90)"/>
<polyline points="177.0,1702.0 445.0,1547.3 449.0,1552.0 466.0,1542.1 470.0,1532.8 504.0,1473.2 518.0,1465.1 547.0,1473.4 871.0,1286.3 875.0,1291.0 892.0,1281.2 896.0,1267.9 1108.0,1145.5 1131.0,1113.2 1142.0,1106.9 1147.0,1112.0 1207.0,1077.3 1217.0,1060.6 1229.0,1053.6 1254.0,1060.2 1449.0,947.6 1453.0,952.3 1468.0,943.6 1472.0,934.3 2029.0,612.7 2047.0,565.4 2080.0,545.3 2126.0,568.7" fill="none" stroke="#1a1a1a" stroke-width="4.8" stroke-linejoin="round"/>
<polyline points="1359.0,2384.4 1627.0,2229.7 1631.0,2234.4 1648.0,2224.6 1652.0,2215.3 1686.0,2155.6 1700.0,2147.6 1729.0,2155.8 2053.0,1968.7 2057.0,1973.4 2074.0,1963.6 2078.0,1950.3 2290.0,1827.9 2313.0,1795.6 2324.0,1789.3 2351.0,1801.7 2379.0,1789.5 2399.0,1743.0 2411.0,1736.1 2436.0,1742.6 2631.0,1630.0 2635.0,1634.7 2650.0,1626.1 2654.0,1616.8 2949.0,1446.4 2984.0,1401.2 3020.0,1370.4 3077.0,1337.5 3113.0,1301.8 3158.0,1249.8 3233.0,1220.5 3372.0,1211.2 3550.0,1173.0" fill="none" stroke="#1a1a1a" stroke-width="4.8" stroke-linejoin="round"/>
<polyline points="177.0,1702.0 1359.0,2384.4" fill="none" stroke="#1a1a1a" stroke-width="4.8" stroke-linecap="round"/>
<path d="M1450.0 1089.1L1570.0 1019.8l-3 4" fill="none" stroke="#3a3a3d" stroke-width="5.5" stroke-linejoin="round"/>
<path d="M1450.0 1089.1C1428.0 1097.1 1405.0 1083.1 1389.5 1093.5" fill="none" stroke="#3a3a3d" stroke-width="4"/>
<path d="M1736.0 1269.2L1869.0 1192.4l-3 4" fill="none" stroke="#3a3a3d" stroke-width="5.5" stroke-linejoin="round"/>
<path d="M1736.0 1269.2C1714.0 1277.2 1691.0 1263.2 1674.2 1272.8" fill="none" stroke="#3a3a3d" stroke-width="4"/>
<line x1="1352.0" y1="1140.0" x2="1318.0" y2="1178.0" stroke="#333" stroke-width="4.5"/>
<line x1="1318.0" y1="1178.0" x2="1339.4" y2="1172.8" stroke="#333" stroke-width="4.5" stroke-linecap="round"/>
<line x1="1318.0" y1="1178.0" x2="1320.8" y2="1156.2" stroke="#333" stroke-width="4.5" stroke-linecap="round"/>
<line x1="1636.0" y1="1320.0" x2="1603.0" y2="1357.0" stroke="#333" stroke-width="4.5"/>
<line x1="1603.0" y1="1357.0" x2="1624.4" y2="1351.7" stroke="#333" stroke-width="4.5" stroke-linecap="round"/>
<line x1="1603.0" y1="1357.0" x2="1605.8" y2="1335.2" stroke="#333" stroke-width="4.5" stroke-linecap="round"/>
<circle cx="1367.5" cy="1115.5" r="34" fill="#3a3a3d"/><path d="M1346.5 1094.5l42 42m0-42l-42 42" stroke="#fff" stroke-width="9"/>
<circle cx="1652.2" cy="1294.8" r="34" fill="#3a3a3d"/><path d="M1631.2 1273.8l42 42m0-42l-42 42" stroke="#fff" stroke-width="9"/>
<circle cx="2001.1" cy="1015.5" r="36" fill="#3a3a3d"/><g transform="translate(2001.1 1015.5)"><path d="M-16 18A24 24 0 1 1 21-8" fill="none" stroke="#fff" stroke-width="4.6"/><path d="M8-19L32-11L21 11Z" fill="#fff"/></g>
<circle cx="1881.5" cy="1307.0" r="36" fill="#3a3a3d"/><g transform="translate(1881.5 1307.0)"><path d="M-16 18A24 24 0 1 1 21-8" fill="none" stroke="#fff" stroke-width="4.6"/><path d="M8-19L32-11L21 11Z" fill="#fff"/></g>
<circle cx="2640.7" cy="1450.0" r="36" fill="#3a3a3d"/><g transform="translate(2640.7 1450.0)"><path d="M-16 18A24 24 0 1 1 21-8" fill="none" stroke="#fff" stroke-width="4.6"/><path d="M8-19L32-11L21 11Z" fill="#fff"/></g>
<line x1="1248.8" y1="178.0" x2="1248.8" y2="1125.8" stroke="#222" stroke-width="1.7"/>
<circle cx="1248.8" cy="1125.8" r="7" fill="#1a1a1a"/>
<circle cx="1245.9" cy="92.0" r="56.2" fill="#fff" stroke="#231f20" stroke-width="10.2"/>
<g transform="translate(1245.9 92.0)"><path d="M17.8-24.6L26.5-27.3L27.3-23.8L32-23.5C33-14 31-6 26 0C20 7 8 10-15.5 16.7L-16.3 23C-17 27-20 31-22.7 31.7C-26 28-26 23-26.6 19.8C-30 19-35 18-38.5 15.9C-33 12-26 11-20.3 10.3C-16 0-8-9-1.3-13.5C4-18 10-22 17.8-24.6Z" fill="#000"/><path d="M-16.3-11.9L-10-11.1L-17.1 0L-17.9-5.5Z" fill="#000"/><path d="M5.1 13.5L24.1 7.1L21.7 15.1L14.6 15.9Z" fill="#000"/><path d="M17.5-12l5 5m0-5l-5 5" stroke="#fff" stroke-width="1.8"/></g>
<text x="1329.0" y="58.3" textLength="840.7" lengthAdjust="spacingAndGlyphs">Achteruitgang kwaliteit oppervlaktewater door</text>
<text x="1329.0" y="107.8" textLength="827.8" lengthAdjust="spacingAndGlyphs">nutriëntrijke waterafvoer vanuit bollengebied,</text>
<text x="1329.0" y="157.2" textLength="722.1" lengthAdjust="spacingAndGlyphs">wordt direct afgevoerd naar Waddenzee</text>
<line x1="1361.0" y1="397.0" x2="1361.0" y2="1035.0" stroke="#222" stroke-width="1.7"/>
<circle cx="1361.0" cy="1035.0" r="7" fill="#1a1a1a"/>
<circle cx="1361.6" cy="318.9" r="56.2" fill="#fff" stroke="#231f20" stroke-width="10.2"/>
<g transform="translate(1361.6 318.9)"><path d="M0-36C6-20 22.7-2 22.7 15A22.7 22.7 0 0 1-22.7 15C-22.7-2-6-20 0-36Z" fill="#000"/></g>
<text x="1438.0" y="257.0" textLength="816.7" lengthAdjust="spacingAndGlyphs">Kans op verdrinken bollen door wateroverlast</text>
<text x="1438.0" y="306.5" textLength="750.3" lengthAdjust="spacingAndGlyphs">na hevige regenval: beperkingen in afvoer</text>
<text x="1438.0" y="356.0" textLength="744.9" lengthAdjust="spacingAndGlyphs">(eigen peilgereguleerd systeem per kavel)</text>
<line x1="1451.3" y1="535.0" x2="1451.3" y2="982.3" stroke="#222" stroke-width="1.7"/>
<circle cx="1451.3" cy="982.3" r="7" fill="#1a1a1a"/>
<circle cx="1451.6" cy="462.3" r="56.2" fill="#fff" stroke="#231f20" stroke-width="10.2"/>
<g transform="translate(1451.6 462.3)"><path d="M0-8C-2-12-12.6-19-12.6-27A12.6 12 0 0 1 12.6-27C12.6-19 2-12 0-8Z" fill="#000" transform="rotate(0)"/><path d="M0-8C-2-12-12.6-19-12.6-27A12.6 12 0 0 1 12.6-27C12.6-19 2-12 0-8Z" fill="#000" transform="rotate(60)"/><path d="M0-8C-2-12-12.6-19-12.6-27A12.6 12 0 0 1 12.6-27C12.6-19 2-12 0-8Z" fill="#000" transform="rotate(120)"/><path d="M0-8C-2-12-12.6-19-12.6-27A12.6 12 0 0 1 12.6-27C12.6-19 2-12 0-8Z" fill="#000" transform="rotate(180)"/><path d="M0-8C-2-12-12.6-19-12.6-27A12.6 12 0 0 1 12.6-27C12.6-19 2-12 0-8Z" fill="#000" transform="rotate(240)"/><path d="M0-8C-2-12-12.6-19-12.6-27A12.6 12 0 0 1 12.6-27C12.6-19 2-12 0-8Z" fill="#000" transform="rotate(300)"/><circle r="10.5" fill="#fff"/><circle r="6.2" fill="#000"/></g>
<text x="1531.7" y="452.4" textLength="621.0" lengthAdjust="spacingAndGlyphs">Schaalvergroting bollengebied Kop</text>
<text x="1531.7" y="501.8" textLength="480.5" lengthAdjust="spacingAndGlyphs">van Noord-Holland gaande</text>
<line x1="555.5" y1="962.0" x2="555.5" y2="1484.0" stroke="#222" stroke-width="1.7"/>
<circle cx="555.5" cy="1484.0" r="7" fill="#1a1a1a"/>
<circle cx="551.0" cy="882.4" r="56.2" fill="#fff" stroke="#231f20" stroke-width="10.2"/>
<g transform="translate(551.0 882.4)"><path d="M-51 11L-34.5-3L-14.5-3L-9-10L14.5-10L34.5 19L50 19L50 25L31.8 25L11.8-4.2L-6.4-4.2L-22.7 15.8L-51 15.8Z" fill="#000"/></g>
<text x="638.2" y="824.3" textLength="436.1" lengthAdjust="spacingAndGlyphs">Westfriese Omringdijk is</text>
<text x="638.2" y="874.3" textLength="554.1" lengthAdjust="spacingAndGlyphs">belangrijke barrière om impact</text>
<text x="638.2" y="924.2" textLength="571.1" lengthAdjust="spacingAndGlyphs">overstromingen te verminderen</text>
<text x="638.2" y="974.1" textLength="329.7" lengthAdjust="spacingAndGlyphs">(ontstaat badkuip)</text>
<line x1="2342.3" y1="286.0" x2="2342.3" y2="648.2" stroke="#222" stroke-width="1.7"/>
<circle cx="2342.3" cy="648.2" r="7" fill="#1a1a1a"/>
<circle cx="2337.2" cy="198.1" r="56.2" fill="#fff" stroke="#231f20" stroke-width="10.2"/>
<g transform="translate(2337.2 198.1)"><path d="M-51 11L-34.5-3L-14.5-3L-9-10L14.5-10L34.5 19L50 19L50 25L31.8 25L11.8-4.2L-6.4-4.2L-22.7 15.8L-51 15.8Z" fill="#000"/></g>
<text x="2415.8" y="184.3" textLength="1009.4" lengthAdjust="spacingAndGlyphs">Opspuiten zeezijde duinen (waterveiligheid) veroorzaakt</text>
<text x="2415.8" y="234.2" textLength="1000.3" lengthAdjust="spacingAndGlyphs">verschuiving van zoetwaterbel en opkomen brakke kwel</text>
<line x1="2574.7" y1="506.6" x2="2574.7" y2="876.0" stroke="#222" stroke-width="1.7"/>
<circle cx="2574.7" cy="876.0" r="7" fill="#1a1a1a"/>
<circle cx="2578.3" cy="424.9" r="56.2" fill="#fff" stroke="#231f20" stroke-width="10.2"/>
<g transform="translate(2578.3 424.9)"><path d="M-51 11L-34.5-3L-14.5-3L-9-10L14.5-10L34.5 19L50 19L50 25L31.8 25L11.8-4.2L-6.4-4.2L-22.7 15.8L-51 15.8Z" fill="#000"/></g>
<text x="2664.5" y="385.8" textLength="661.0" lengthAdjust="spacingAndGlyphs">Ruimtelijke reserveringen nodig voor</text>
<text x="2664.5" y="435.8" textLength="771.4" lengthAdjust="spacingAndGlyphs">handhaving veiligheidsnormen: versterking</text>
<text x="2664.5" y="485.7" textLength="725.2" lengthAdjust="spacingAndGlyphs">duinen, primaire en secundaire keringen</text>
<line x1="2905.1" y1="685.4" x2="2905.1" y2="1131.2" stroke="#222" stroke-width="1.7"/>
<circle cx="2905.1" cy="1131.2" r="7" fill="#1a1a1a"/>
<circle cx="2902.6" cy="609.0" r="56.2" fill="#fff" stroke="#231f20" stroke-width="10.2"/>
<g transform="translate(2902.6 609.0)"><ellipse cx="-22" cy="-15" rx="13" ry="22" fill="#000"/><ellipse cx="3" cy="-26" rx="12" ry="14" fill="#000" stroke="#fff" stroke-width="2.5"/><ellipse cx="-8" cy="-9" rx="14" ry="22" fill="#000" stroke="#fff" stroke-width="3"/><ellipse cx="18.2" cy="-7.3" rx="14.5" ry="24" fill="#000" stroke="#fff" stroke-width="3"/><path d="M-17.7 20v16.3M-4.1 4.5v38.2M7 18v24.7M18.6-1.8v38.1" stroke="#231f20" stroke-width="6.4"/></g>
<text x="2969.6" y="596.5" textLength="251.4" lengthAdjust="spacingAndGlyphs">Verdroging en</text>
<text x="2969.6" y="646.4" textLength="508.6" lengthAdjust="spacingAndGlyphs">stikstofgevoelige duinnatuur</text>
<line x1="3329.5" y1="1412.3" x2="3329.5" y2="1739.5" stroke="#222" stroke-width="1.7"/>
<circle cx="3329.5" cy="1412.3" r="7" fill="#1a1a1a"/>
<circle cx="3329.9" cy="1819.9" r="58.6" fill="#fff" stroke="#231f20" stroke-width="10.5"/>
<g transform="translate(3329.9 1819.9)"><path d="M0-37C6-21 23.6-1 23.6 16A23.6 23.6 0 0 1-23.6 16C-23.6-1-6-21 0-37Z" fill="#000"/><circle cx="0" cy="-14" r="2.7" fill="#fff"/><circle cx="-10" cy="-4" r="2.7" fill="#fff"/><circle cx="10" cy="-4" r="2.7" fill="#fff"/><circle cx="-19" cy="6" r="2.7" fill="#fff"/><circle cx="0" cy="6" r="2.7" fill="#fff"/><circle cx="19" cy="6" r="2.7" fill="#fff"/><circle cx="-10" cy="15" r="2.7" fill="#fff"/><circle cx="10" cy="15" r="2.7" fill="#fff"/><circle cx="-19" cy="25" r="2.7" fill="#fff"/><circle cx="0" cy="25" r="2.7" fill="#fff"/><circle cx="19" cy="25" r="2.7" fill="#fff"/><circle cx="-10" cy="34" r="2.7" fill="#fff"/><circle cx="10" cy="34" r="2.7" fill="#fff"/><circle cx="0" cy="-33" r="2.7" fill="#fff"/></g>
<text x="3419.9" y="1761.3" textLength="418.5" lengthAdjust="spacingAndGlyphs">Brakke kwel vanuit zee:</text>
<text x="3419.9" y="1811.2" textLength="468.0" lengthAdjust="spacingAndGlyphs">risico op zoutgerelateerde</text>
<text x="3419.9" y="1861.1" textLength="323.6" lengthAdjust="spacingAndGlyphs">schade aan bollen</text>
<line x1="3018.6" y1="1192.1" x2="3018.6" y2="1941.0" stroke="#222" stroke-width="1.7"/>
<circle cx="3018.6" cy="1192.1" r="7" fill="#1a1a1a"/>
<circle cx="3015.0" cy="2011.8" r="56.2" fill="#fff" stroke="#231f20" stroke-width="10.2"/>
<g transform="translate(3015.0 2011.8)"><path d="M-50-2C-50-10-44-11-38-11C-44-6-45 2-40 4C-34 5-32-2-26-9C-22-11-18-11-16-11C-22-6-24 2-20 4C-14 5-10-3-4-9L2-11C-2-4-6 4-10 8L-34 43L-50 28Z" fill="#c4c4c4"/><path d="M-34 43C-30 36-24 34-20 26C-16 18-12 12-5 7.6C4 4 8-2 16.7-5C24-8 28-9.6 34.9-9.6C42-8.5 46-10 53-9.6" fill="none" stroke="#000" stroke-width="5.5" stroke-linecap="round"/></g>
<text x="3093.0" y="1997.3" textLength="763.3" lengthAdjust="spacingAndGlyphs">Toename noodzaak zandsuppleties kustlijn</text>
<text x="3093.0" y="2047.2" textLength="746.3" lengthAdjust="spacingAndGlyphs">en kustfundament door zeespiegelstijging</text>
<line x1="2760.5" y1="1439.5" x2="2760.5" y2="2115.3" stroke="#222" stroke-width="1.7"/>
<circle cx="2760.5" cy="1439.5" r="7" fill="#1a1a1a"/>
<circle cx="2761.7" cy="2193.4" r="56.2" fill="#fff" stroke="#231f20" stroke-width="10.2"/>
<g transform="translate(2761.7 2193.4)"><path d="M0-36C6-20 22.7-2 22.7 15A22.7 22.7 0 0 1-22.7 15C-22.7-2-6-20 0-36Z" fill="#000"/></g>
<text x="2842.5" y="2133.5" textLength="896.8" lengthAdjust="spacingAndGlyphs">Wateraanvoersysteem bollengebied onder druk in</text>
<text x="2842.5" y="2183.4" textLength="888.5" lengthAdjust="spacingAndGlyphs">droge perioden. Doorspoeling is nu gegarandeerd</text>
<text x="2842.5" y="2233.3" textLength="791.9" lengthAdjust="spacingAndGlyphs">(vanuit Schermerboezem / Markermeer). Bij</text>
<text x="2842.5" y="2283.3" textLength="1002.9" lengthAdjust="spacingAndGlyphs">beperkingen aanvoer kans op droogteschade aan bollen</text>
<line x1="2128.0" y1="1259.8" x2="2128.0" y2="2322.3" stroke="#222" stroke-width="1.7"/>
<circle cx="2128.0" cy="1259.8" r="7" fill="#1a1a1a"/>
<circle cx="2130.8" cy="2399.0" r="59.0" fill="#fff" stroke="#231f20" stroke-width="10.9"/>
<g transform="translate(2130.8 2399.0)"><path d="M-41.8 11.8C-44-12-30-30-14.5-34.5C8-40 28-32 38.1-19.1Z" fill="#fff" stroke="#000" stroke-width="4.6" stroke-linejoin="miter"/><path d="M-14.5-34.5C-2-34 10-26 16.3-14.5L-18.2 1.8C-20-12-18-26-14.5-34.5Z" fill="#000"/><path d="M-1.8-3.6L14.5 40.9" stroke="#000" stroke-width="4.6"/></g>
<text x="2215.2" y="2383.1" textLength="307.5" lengthAdjust="spacingAndGlyphs">Hoge druk vanuit</text>
<text x="2215.2" y="2433.1" textLength="385.2" lengthAdjust="spacingAndGlyphs">recreatie en toerisme</text>
<line x1="2655.5" y1="1498.0" x2="2655.5" y2="2506.6" stroke="#222" stroke-width="1.7"/>
<circle cx="2655.5" cy="1498.0" r="7" fill="#1a1a1a"/>
<circle cx="2656.7" cy="2604.5" r="59.5" fill="#fff" stroke="#231f20" stroke-width="10.7"/>
<g transform="translate(2656.7 2604.5)"><path d="M0-38L26.7-7.8V33H-26.7V-7.8Z" fill="#000"/></g>
<text x="2748.1" y="2532.0" textLength="843.1" lengthAdjust="spacingAndGlyphs">Aandijkingenlandschap vanuit bodem en water</text>
<text x="2748.1" y="2582.0" textLength="814.5" lengthAdjust="spacingAndGlyphs">geschikt voor woningbouw, maar veroorzaakt</text>
<text x="2748.1" y="2631.9" textLength="872.3" lengthAdjust="spacingAndGlyphs">perforatie van bodem waardoor brakke kwel aan</text>
<text x="2748.1" y="2681.8" textLength="771.6" lengthAdjust="spacingAndGlyphs">oppervlak komt (gaat niet goed samen met</text>
<text x="2748.1" y="2731.8" textLength="415.5" lengthAdjust="spacingAndGlyphs">huidige landbouwtype)</text>
<line x1="1879.3" y1="1509.8" x2="1879.3" y2="2499.3" stroke="#222" stroke-width="1.7"/>
<circle cx="1879.3" cy="1509.8" r="7" fill="#1a1a1a"/>
<circle cx="1879.3" cy="2583.8" r="58.6" fill="#fff" stroke="#231f20" stroke-width="10.5"/>
<g transform="translate(1879.3 2583.8)"><path d="M0-37C6-21 23.6-1 23.6 16A23.6 23.6 0 0 1-23.6 16C-23.6-1-6-21 0-37Z" fill="#000"/><circle cx="0" cy="-14" r="2.7" fill="#fff"/><circle cx="-10" cy="-4" r="2.7" fill="#fff"/><circle cx="10" cy="-4" r="2.7" fill="#fff"/><circle cx="-19" cy="6" r="2.7" fill="#fff"/><circle cx="0" cy="6" r="2.7" fill="#fff"/><circle cx="19" cy="6" r="2.7" fill="#fff"/><circle cx="-10" cy="15" r="2.7" fill="#fff"/><circle cx="10" cy="15" r="2.7" fill="#fff"/><circle cx="-19" cy="25" r="2.7" fill="#fff"/><circle cx="0" cy="25" r="2.7" fill="#fff"/><circle cx="19" cy="25" r="2.7" fill="#fff"/><circle cx="-10" cy="34" r="2.7" fill="#fff"/><circle cx="10" cy="34" r="2.7" fill="#fff"/><circle cx="0" cy="-33" r="2.7" fill="#fff"/></g>
<text x="1961.0" y="2568.3" textLength="311.5" lengthAdjust="spacingAndGlyphs">Externe verzilting</text>
<text x="1961.0" y="2618.3" textLength="402.8" lengthAdjust="spacingAndGlyphs">boezem door schutten</text>
<line x1="1588.7" y1="1702.3" x2="1588.7" y2="2717.2" stroke="#222" stroke-width="1.7"/>
<circle cx="1588.7" cy="1702.3" r="7" fill="#1a1a1a"/>
<circle cx="1588.7" cy="2802.6" r="56.2" fill="#fff" stroke="#231f20" stroke-width="10.2"/>
<g transform="translate(1588.7 2802.6)"><path d="M0-36C6-20 22.7-2 22.7 15A22.7 22.7 0 0 1-22.7 15C-22.7-2-6-20 0-36Z" fill="#000"/></g>
<text x="1670.4" y="2765.3" textLength="713.1" lengthAdjust="spacingAndGlyphs">Beperkingen in het waterafvoersysteem</text>
<text x="1670.4" y="2815.3" textLength="679.3" lengthAdjust="spacingAndGlyphs">veroorzaken wateroverlast in stedelijk</text>
<text x="1670.4" y="2865.2" textLength="465.4" lengthAdjust="spacingAndGlyphs">gebied bij hevige regenval</text>
<line x1="456.6" y1="1740.4" x2="456.6" y2="2514.8" stroke="#222" stroke-width="1.7"/>
<circle cx="456.6" cy="1740.4" r="7" fill="#1a1a1a"/>
<circle cx="458.5" cy="2587.4" r="56.2" fill="#fff" stroke="#231f20" stroke-width="10.2"/>
<g transform="translate(458.5 2587.4)"><path d="M0-36C6-20 22.7-2 22.7 15A22.7 22.7 0 0 1-22.7 15C-22.7-2-6-20 0-36Z" fill="#000"/></g>
<text x="542.0" y="2546.5" textLength="401.9" lengthAdjust="spacingAndGlyphs">Uittredende kwel naar</text>
<text x="542.0" y="2596.5" textLength="211.2" lengthAdjust="spacingAndGlyphs">omliggende</text>
<text x="542.0" y="2646.4" textLength="250.1" lengthAdjust="spacingAndGlyphs">landschappen</text>
</svg></body></html>
